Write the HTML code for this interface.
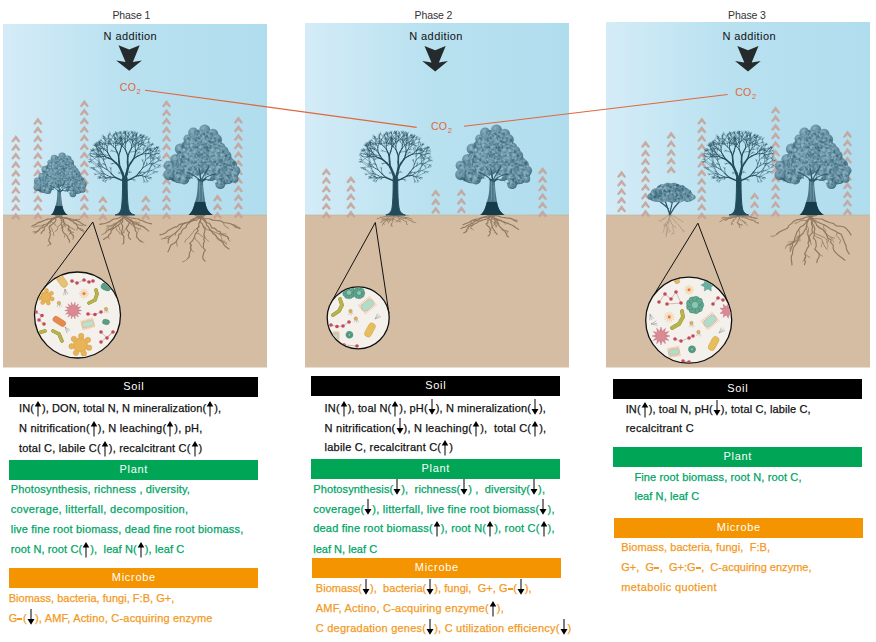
<!DOCTYPE html><html><head><meta charset="utf-8"><style>
html,body{margin:0;padding:0;background:#fff;width:876px;height:642px;overflow:hidden}
body{position:relative;font-family:"Liberation Sans",sans-serif}
.tx{position:absolute;white-space:pre;font-size:11px;line-height:12px;height:12px;-webkit-text-stroke:0.25px currentColor}
.ar{display:inline-block;position:relative;width:8px;height:1px}
.ar svg{position:absolute;left:0}
.dash{display:inline-block;width:5px;height:1.8px;background:currentColor;vertical-align:2.2px;margin:0 0.6px 0 0}
.bar{position:absolute;color:#fff;font-size:11px;text-align:center;line-height:18px;letter-spacing:0.7px;text-indent:0.7px}
.lab{position:absolute;white-space:pre;line-height:12px;letter-spacing:-0.1px}
.na{letter-spacing:0.4px}
.co2{position:absolute;color:#e0673c;font-size:10.6px;line-height:12px;white-space:pre;letter-spacing:0.2px}
.co2 sub{font-size:7.6px;vertical-align:-2.5px;line-height:0;margin-left:0.5px}
</style></head><body>
<svg width="876" height="642" viewBox="0 0 876 642" style="position:absolute;left:0;top:0">
<defs><linearGradient id="sky" x1="0" x2="1" y1="0" y2="0">
<stop offset="0" stop-color="#d4ecf7"/><stop offset="0.45" stop-color="#b9e1f0"/><stop offset="1" stop-color="#b0ddee"/></linearGradient></defs>
<rect x="3" y="24" width="264" height="191" fill="url(#sky)"/><rect x="3" y="215" width="264" height="152.5" fill="#d5bda3"/><rect x="3" y="214.6" width="264" height="1" fill="#bdb49c" opacity="0.7"/><rect x="305" y="23" width="264" height="192" fill="url(#sky)"/><rect x="305" y="215" width="264" height="152.5" fill="#d5bda3"/><rect x="305" y="214.6" width="264" height="1" fill="#bdb49c" opacity="0.7"/><rect x="606" y="22" width="264" height="193" fill="url(#sky)"/><rect x="606" y="215" width="264" height="152.5" fill="#d5bda3"/><rect x="606" y="214.6" width="264" height="1" fill="#bdb49c" opacity="0.7"/>
<path d="M11.2 141.2L15.8 135.0L20.4 141.2L18.7 142.5L15.8 139.5L12.9 142.5ZM11.2 149.8L15.8 143.6L20.4 149.8L18.7 151.1L15.8 148.1L12.9 151.1ZM11.2 158.4L15.8 152.2L20.4 158.4L18.7 159.7L15.8 156.7L12.9 159.7ZM11.2 167.0L15.8 160.8L20.4 167.0L18.7 168.3L15.8 165.3L12.9 168.3ZM11.2 175.6L15.8 169.4L20.4 175.6L18.7 176.9L15.8 173.9L12.9 176.9ZM11.2 184.2L15.8 178.0L20.4 184.2L18.7 185.5L15.8 182.5L12.9 185.5ZM11.2 192.8L15.8 186.6L20.4 192.8L18.7 194.1L15.8 191.1L12.9 194.1ZM11.2 201.4L15.8 195.2L20.4 201.4L18.7 202.7L15.8 199.7L12.9 202.7ZM11.2 210.0L15.8 203.8L20.4 210.0L18.7 211.3L15.8 208.3L12.9 211.3ZM11.2 218.6L15.8 212.4L20.4 218.6L18.7 219.9L15.8 216.9L12.9 219.9ZM33.3 123.7L37.9 117.5L42.5 123.7L40.8 125.0L37.9 122.0L35.0 125.0ZM33.3 132.3L37.9 126.1L42.5 132.3L40.8 133.6L37.9 130.6L35.0 133.6ZM33.3 140.9L37.9 134.7L42.5 140.9L40.8 142.2L37.9 139.2L35.0 142.2ZM33.3 149.5L37.9 143.3L42.5 149.5L40.8 150.8L37.9 147.8L35.0 150.8ZM33.3 158.1L37.9 151.9L42.5 158.1L40.8 159.4L37.9 156.4L35.0 159.4ZM33.3 166.7L37.9 160.5L42.5 166.7L40.8 168.0L37.9 165.0L35.0 168.0ZM33.3 175.3L37.9 169.1L42.5 175.3L40.8 176.6L37.9 173.6L35.0 176.6ZM33.3 183.9L37.9 177.7L42.5 183.9L40.8 185.2L37.9 182.2L35.0 185.2ZM33.3 192.5L37.9 186.3L42.5 192.5L40.8 193.8L37.9 190.8L35.0 193.8ZM33.3 201.1L37.9 194.9L42.5 201.1L40.8 202.4L37.9 199.4L35.0 202.4ZM33.3 209.7L37.9 203.5L42.5 209.7L40.8 211.0L37.9 208.0L35.0 211.0ZM33.3 218.3L37.9 212.1L42.5 218.3L40.8 219.6L37.9 216.6L35.0 219.6ZM79.7 105.9L84.3 99.7L88.9 105.9L87.2 107.2L84.3 104.2L81.4 107.2ZM79.7 114.5L84.3 108.3L88.9 114.5L87.2 115.8L84.3 112.8L81.4 115.8ZM79.7 123.1L84.3 116.9L88.9 123.1L87.2 124.4L84.3 121.4L81.4 124.4ZM79.7 131.7L84.3 125.5L88.9 131.7L87.2 133.0L84.3 130.0L81.4 133.0ZM79.7 140.3L84.3 134.1L88.9 140.3L87.2 141.6L84.3 138.6L81.4 141.6ZM79.7 148.9L84.3 142.7L88.9 148.9L87.2 150.2L84.3 147.2L81.4 150.2ZM79.7 157.5L84.3 151.3L88.9 157.5L87.2 158.8L84.3 155.8L81.4 158.8ZM79.7 166.1L84.3 159.9L88.9 166.1L87.2 167.4L84.3 164.4L81.4 167.4ZM79.7 174.7L84.3 168.5L88.9 174.7L87.2 176.0L84.3 173.0L81.4 176.0ZM79.7 183.3L84.3 177.1L88.9 183.3L87.2 184.6L84.3 181.6L81.4 184.6ZM79.7 191.9L84.3 185.7L88.9 191.9L87.2 193.2L84.3 190.2L81.4 193.2ZM79.7 200.5L84.3 194.3L88.9 200.5L87.2 201.8L84.3 198.8L81.4 201.8ZM79.7 209.1L84.3 202.9L88.9 209.1L87.2 210.4L84.3 207.4L81.4 210.4ZM79.7 217.7L84.3 211.5L88.9 217.7L87.2 219.0L84.3 216.0L81.4 219.0ZM98.3 202.0L102.9 195.8L107.5 202.0L105.8 203.3L102.9 200.3L100.0 203.3ZM98.3 210.6L102.9 204.4L107.5 210.6L105.8 211.9L102.9 208.9L100.0 211.9ZM98.3 219.2L102.9 213.0L107.5 219.2L105.8 220.5L102.9 217.5L100.0 220.5ZM141.2 201.5L145.8 195.3L150.4 201.5L148.7 202.8L145.8 199.8L142.9 202.8ZM141.2 210.1L145.8 203.9L150.4 210.1L148.7 211.4L145.8 208.4L142.9 211.4ZM141.2 218.7L145.8 212.5L150.4 218.7L148.7 220.0L145.8 217.0L142.9 220.0ZM161.9 106.3L166.5 100.1L171.1 106.3L169.4 107.6L166.5 104.6L163.6 107.6ZM161.9 114.9L166.5 108.7L171.1 114.9L169.4 116.2L166.5 113.2L163.6 116.2ZM161.9 123.5L166.5 117.3L171.1 123.5L169.4 124.8L166.5 121.8L163.6 124.8ZM161.9 132.1L166.5 125.9L171.1 132.1L169.4 133.4L166.5 130.4L163.6 133.4ZM161.9 140.7L166.5 134.5L171.1 140.7L169.4 142.0L166.5 139.0L163.6 142.0ZM161.9 149.3L166.5 143.1L171.1 149.3L169.4 150.6L166.5 147.6L163.6 150.6ZM161.9 157.9L166.5 151.7L171.1 157.9L169.4 159.2L166.5 156.2L163.6 159.2ZM161.9 166.5L166.5 160.3L171.1 166.5L169.4 167.8L166.5 164.8L163.6 167.8ZM161.9 175.1L166.5 168.9L171.1 175.1L169.4 176.4L166.5 173.4L163.6 176.4ZM161.9 183.7L166.5 177.5L171.1 183.7L169.4 185.0L166.5 182.0L163.6 185.0ZM161.9 192.3L166.5 186.1L171.1 192.3L169.4 193.6L166.5 190.6L163.6 193.6ZM161.9 200.9L166.5 194.7L171.1 200.9L169.4 202.2L166.5 199.2L163.6 202.2ZM161.9 209.5L166.5 203.3L171.1 209.5L169.4 210.8L166.5 207.8L163.6 210.8ZM161.9 218.1L166.5 211.9L171.1 218.1L169.4 219.4L166.5 216.4L163.6 219.4ZM212.9 200.5L217.5 194.3L222.1 200.5L220.4 201.8L217.5 198.8L214.6 201.8ZM212.9 209.1L217.5 202.9L222.1 209.1L220.4 210.4L217.5 207.4L214.6 210.4ZM212.9 217.7L217.5 211.5L222.1 217.7L220.4 219.0L217.5 216.0L214.6 219.0ZM233.8 122.5L238.4 116.3L243.0 122.5L241.3 123.8L238.4 120.8L235.5 123.8ZM233.8 131.1L238.4 124.9L243.0 131.1L241.3 132.4L238.4 129.4L235.5 132.4ZM233.8 139.7L238.4 133.5L243.0 139.7L241.3 141.0L238.4 138.0L235.5 141.0ZM233.8 148.3L238.4 142.1L243.0 148.3L241.3 149.6L238.4 146.6L235.5 149.6ZM233.8 156.9L238.4 150.7L243.0 156.9L241.3 158.2L238.4 155.2L235.5 158.2ZM233.8 165.5L238.4 159.3L243.0 165.5L241.3 166.8L238.4 163.8L235.5 166.8ZM233.8 174.1L238.4 167.9L243.0 174.1L241.3 175.4L238.4 172.4L235.5 175.4ZM233.8 182.7L238.4 176.5L243.0 182.7L241.3 184.0L238.4 181.0L235.5 184.0ZM233.8 191.3L238.4 185.1L243.0 191.3L241.3 192.6L238.4 189.6L235.5 192.6ZM233.8 199.9L238.4 193.7L243.0 199.9L241.3 201.2L238.4 198.2L235.5 201.2ZM233.8 208.5L238.4 202.3L243.0 208.5L241.3 209.8L238.4 206.8L235.5 209.8ZM233.8 217.1L238.4 210.9L243.0 217.1L241.3 218.4L238.4 215.4L235.5 218.4ZM321.7 174.2L326.3 168.0L330.9 174.2L329.2 175.5L326.3 172.5L323.4 175.5ZM321.7 182.8L326.3 176.6L330.9 182.8L329.2 184.1L326.3 181.1L323.4 184.1ZM321.7 191.4L326.3 185.2L330.9 191.4L329.2 192.7L326.3 189.7L323.4 192.7ZM321.7 200.0L326.3 193.8L330.9 200.0L329.2 201.3L326.3 198.3L323.4 201.3ZM321.7 208.6L326.3 202.4L330.9 208.6L329.2 209.9L326.3 206.9L323.4 209.9ZM321.7 217.2L326.3 211.0L330.9 217.2L329.2 218.5L326.3 215.5L323.4 218.5ZM346.3 182.1L350.9 175.9L355.5 182.1L353.8 183.4L350.9 180.4L348.0 183.4ZM346.3 190.7L350.9 184.5L355.5 190.7L353.8 192.0L350.9 189.0L348.0 192.0ZM346.3 199.3L350.9 193.1L355.5 199.3L353.8 200.6L350.9 197.6L348.0 200.6ZM346.3 207.9L350.9 201.7L355.5 207.9L353.8 209.2L350.9 206.2L348.0 209.2ZM346.3 216.5L350.9 210.3L355.5 216.5L353.8 217.8L350.9 214.8L348.0 217.8ZM431.1 195.5L435.7 189.3L440.3 195.5L438.6 196.8L435.7 193.8L432.8 196.8ZM431.1 204.1L435.7 197.9L440.3 204.1L438.6 205.4L435.7 202.4L432.8 205.4ZM431.1 212.7L435.7 206.5L440.3 212.7L438.6 214.0L435.7 211.0L432.8 214.0ZM456.8 195.0L461.4 188.8L466.0 195.0L464.3 196.3L461.4 193.3L458.5 196.3ZM456.8 203.6L461.4 197.4L466.0 203.6L464.3 204.9L461.4 201.9L458.5 204.9ZM456.8 212.2L461.4 206.0L466.0 212.2L464.3 213.5L461.4 210.5L458.5 213.5ZM538.0 173.1L542.6 166.9L547.2 173.1L545.5 174.4L542.6 171.4L539.7 174.4ZM538.0 181.7L542.6 175.5L547.2 181.7L545.5 183.0L542.6 180.0L539.7 183.0ZM538.0 190.3L542.6 184.1L547.2 190.3L545.5 191.6L542.6 188.6L539.7 191.6ZM538.0 198.9L542.6 192.7L547.2 198.9L545.5 200.2L542.6 197.2L539.7 200.2ZM538.0 207.5L542.6 201.3L547.2 207.5L545.5 208.8L542.6 205.8L539.7 208.8ZM538.0 216.1L542.6 209.9L547.2 216.1L545.5 217.4L542.6 214.4L539.7 217.4ZM617.0 176.8L621.6 170.6L626.2 176.8L624.5 178.1L621.6 175.1L618.7 178.1ZM617.0 185.4L621.6 179.2L626.2 185.4L624.5 186.7L621.6 183.7L618.7 186.7ZM617.0 194.0L621.6 187.8L626.2 194.0L624.5 195.3L621.6 192.3L618.7 195.3ZM617.0 202.6L621.6 196.4L626.2 202.6L624.5 203.9L621.6 200.9L618.7 203.9ZM617.0 211.2L621.6 205.0L626.2 211.2L624.5 212.5L621.6 209.5L618.7 212.5ZM640.9 146.8L645.5 140.6L650.1 146.8L648.4 148.1L645.5 145.1L642.6 148.1ZM640.9 155.4L645.5 149.2L650.1 155.4L648.4 156.7L645.5 153.7L642.6 156.7ZM640.9 164.0L645.5 157.8L650.1 164.0L648.4 165.3L645.5 162.3L642.6 165.3ZM640.9 172.6L645.5 166.4L650.1 172.6L648.4 173.9L645.5 170.9L642.6 173.9ZM640.9 181.2L645.5 175.0L650.1 181.2L648.4 182.5L645.5 179.5L642.6 182.5ZM640.9 189.8L645.5 183.6L650.1 189.8L648.4 191.1L645.5 188.1L642.6 191.1ZM640.9 198.4L645.5 192.2L650.1 198.4L648.4 199.7L645.5 196.7L642.6 199.7ZM640.9 207.0L645.5 200.8L650.1 207.0L648.4 208.3L645.5 205.3L642.6 208.3ZM640.9 215.6L645.5 209.4L650.1 215.6L648.4 216.9L645.5 213.9L642.6 216.9ZM697.2 123.5L701.8 117.3L706.4 123.5L704.7 124.8L701.8 121.8L698.9 124.8ZM697.2 132.1L701.8 125.9L706.4 132.1L704.7 133.4L701.8 130.4L698.9 133.4ZM697.2 140.7L701.8 134.5L706.4 140.7L704.7 142.0L701.8 139.0L698.9 142.0ZM697.2 149.3L701.8 143.1L706.4 149.3L704.7 150.6L701.8 147.6L698.9 150.6ZM697.2 157.9L701.8 151.7L706.4 157.9L704.7 159.2L701.8 156.2L698.9 159.2ZM697.2 166.5L701.8 160.3L706.4 166.5L704.7 167.8L701.8 164.8L698.9 167.8ZM697.2 175.1L701.8 168.9L706.4 175.1L704.7 176.4L701.8 173.4L698.9 176.4ZM697.2 183.7L701.8 177.5L706.4 183.7L704.7 185.0L701.8 182.0L698.9 185.0ZM697.2 192.3L701.8 186.1L706.4 192.3L704.7 193.6L701.8 190.6L698.9 193.6ZM697.2 200.9L701.8 194.7L706.4 200.9L704.7 202.2L701.8 199.2L698.9 202.2ZM697.2 209.5L701.8 203.3L706.4 209.5L704.7 210.8L701.8 207.8L698.9 210.8ZM697.2 218.1L701.8 211.9L706.4 218.1L704.7 219.4L701.8 216.4L698.9 219.4ZM750.0 198.4L754.6 192.2L759.2 198.4L757.5 199.7L754.6 196.7L751.7 199.7ZM750.0 207.0L754.6 200.8L759.2 207.0L757.5 208.3L754.6 205.3L751.7 208.3ZM750.0 215.6L754.6 209.4L759.2 215.6L757.5 216.9L754.6 213.9L751.7 216.9ZM771.0 112.4L775.6 106.2L780.2 112.4L778.5 113.7L775.6 110.7L772.7 113.7ZM771.0 121.0L775.6 114.8L780.2 121.0L778.5 122.3L775.6 119.3L772.7 122.3ZM771.0 129.6L775.6 123.4L780.2 129.6L778.5 130.9L775.6 127.9L772.7 130.9ZM771.0 138.2L775.6 132.0L780.2 138.2L778.5 139.5L775.6 136.5L772.7 139.5ZM771.0 146.8L775.6 140.6L780.2 146.8L778.5 148.1L775.6 145.1L772.7 148.1ZM771.0 155.4L775.6 149.2L780.2 155.4L778.5 156.7L775.6 153.7L772.7 156.7ZM771.0 164.0L775.6 157.8L780.2 164.0L778.5 165.3L775.6 162.3L772.7 165.3ZM771.0 172.6L775.6 166.4L780.2 172.6L778.5 173.9L775.6 170.9L772.7 173.9ZM771.0 181.2L775.6 175.0L780.2 181.2L778.5 182.5L775.6 179.5L772.7 182.5ZM771.0 189.8L775.6 183.6L780.2 189.8L778.5 191.1L775.6 188.1L772.7 191.1ZM771.0 198.4L775.6 192.2L780.2 198.4L778.5 199.7L775.6 196.7L772.7 199.7ZM771.0 207.0L775.6 200.8L780.2 207.0L778.5 208.3L775.6 205.3L772.7 208.3ZM771.0 215.6L775.6 209.4L780.2 215.6L778.5 216.9L775.6 213.9L772.7 216.9ZM842.9 136.7L847.5 130.5L852.1 136.7L850.4 138.0L847.5 135.0L844.6 138.0ZM842.9 145.3L847.5 139.1L852.1 145.3L850.4 146.6L847.5 143.6L844.6 146.6ZM842.9 153.9L847.5 147.7L852.1 153.9L850.4 155.2L847.5 152.2L844.6 155.2ZM842.9 162.5L847.5 156.3L852.1 162.5L850.4 163.8L847.5 160.8L844.6 163.8ZM842.9 171.1L847.5 164.9L852.1 171.1L850.4 172.4L847.5 169.4L844.6 172.4ZM842.9 179.7L847.5 173.5L852.1 179.7L850.4 181.0L847.5 178.0L844.6 181.0ZM842.9 188.3L847.5 182.1L852.1 188.3L850.4 189.6L847.5 186.6L844.6 189.6ZM842.9 196.9L847.5 190.7L852.1 196.9L850.4 198.2L847.5 195.2L844.6 198.2ZM842.9 205.5L847.5 199.3L852.1 205.5L850.4 206.8L847.5 203.8L844.6 206.8ZM842.9 214.1L847.5 207.9L852.1 214.1L850.4 215.4L847.5 212.4L844.6 215.4ZM666.6 137.7L671.2 131.5L675.8 137.7L674.1 139.0L671.2 136.0L668.3 139.0ZM666.6 146.3L671.2 140.1L675.8 146.3L674.1 147.6L671.2 144.6L668.3 147.6ZM666.6 154.9L671.2 148.7L675.8 154.9L674.1 156.2L671.2 153.2L668.3 156.2ZM666.6 163.5L671.2 157.3L675.8 163.5L674.1 164.8L671.2 161.8L668.3 164.8ZM666.6 172.1L671.2 165.9L675.8 172.1L674.1 173.4L671.2 170.4L668.3 173.4Z" fill="#c7a094" opacity="0.85"/>
<path d="M118.5 45.2L129.2 49.5L139.7 45.2L132.9 61.9L141.9 60.4L129.2 70.7L116.2 60.4L125.5 61.9ZM424.5 45.9L435.2 50.2L445.7 45.9L438.9 62.6L447.9 61.1L435.2 71.4L422.2 61.1L431.5 62.6ZM737.3 45.9L748.0 50.2L758.5 45.9L751.7 62.6L760.7 61.1L748.0 71.4L735.0 61.1L744.3 62.6Z" fill="#252a2d"/>
<path d="M145 90.2L416.7 127.4M463.9 126.3L727.7 94.5" stroke="#e0673c" stroke-width="1.1" fill="none"/>
<defs><radialGradient id="clg" cx="0.4" cy="0.35" r="0.65"><stop offset="0" stop-color="#8cb3c2"/><stop offset="0.5" stop-color="#6a94a6"/><stop offset="0.88" stop-color="#4f7b8d"/><stop offset="1" stop-color="#3a6677"/></radialGradient><g id="bl"><path d="M-2 -36 C-2.2 -24 -3 -18 -4.9 -13 C-7 -5 -9 -1.5 -11.5 0 L13 0 C9 -2 6.3 -6 5.3 -13 C4.2 -20 3 -28 3 -36 Z" fill="#4b7687"/><path d="M-4.9 -13 C-6.5 -6 -8.5 -2 -11.5 0 L13 0 C9.5 -2 6.5 -6 5.3 -13 Z" fill="#163c4a"/><path d="M0 -34 C-1 -24 1 -18 -1 -14 M2 -30 C3 -24 2 -18 3 -14" stroke="#86aab8" stroke-width="0.6" fill="none"/><path d="M0 -34 L-12 -44 M1 -34 L-1 -48 M2 -33 L10 -40 L12 -46 M3 -35 L18 -38" stroke="#2c5262" stroke-width="1.3" fill="none"/><path d="M1.6 -86.0C4.5 -86.5 6.6 -85.1 8.8 -84.2C11.0 -83.2 12.9 -81.7 14.6 -80.2C16.3 -78.7 17.7 -76.9 19.1 -75.0C20.5 -73.2 21.7 -71.0 22.9 -69.2C24.0 -67.4 24.7 -66.2 26.1 -64.2C27.4 -62.3 29.3 -59.7 31.0 -57.4C32.7 -55.1 35.3 -52.9 36.2 -50.2C37.1 -47.5 37.1 -43.9 36.5 -41.2C36.0 -38.4 34.5 -35.6 33.1 -33.9C31.6 -32.2 30.5 -31.4 28.0 -30.9C25.5 -30.3 20.5 -29.9 17.9 -30.5C15.3 -31.0 14.2 -32.5 12.3 -34.2C10.5 -35.8 8.6 -38.8 6.9 -40.4C5.2 -41.9 3.8 -43.2 2.0 -43.5C0.2 -43.8 -1.6 -43.5 -3.6 -42.3C-5.6 -41.0 -7.5 -37.8 -10.0 -36.0C-12.4 -34.3 -15.6 -32.0 -18.4 -31.7C-21.2 -31.3 -24.2 -32.6 -26.7 -34.0C-29.1 -35.4 -32.2 -37.7 -33.1 -40.2C-34.0 -42.8 -33.7 -46.6 -32.2 -49.3C-30.7 -52.1 -25.9 -54.0 -24.0 -56.6C-22.2 -59.2 -22.7 -62.0 -21.1 -65.0C-19.5 -68.1 -16.8 -72.3 -14.7 -75.0C-12.6 -77.7 -11.2 -79.6 -8.5 -81.5C-5.8 -83.3 -1.3 -85.5 1.6 -86.0Z" fill="#36606f"/><circle cx="4.8" cy="-84.9" r="5.5" fill="url(#clg)"/><circle cx="-6.6" cy="-82.4" r="5.1" fill="url(#clg)"/><circle cx="5.4" cy="-81.0" r="5.6" fill="url(#clg)"/><circle cx="13.0" cy="-80.9" r="5.4" fill="url(#clg)"/><circle cx="2.0" cy="-80.7" r="4.6" fill="url(#clg)"/><circle cx="9.1" cy="-77.5" r="4.9" fill="url(#clg)"/><circle cx="4.4" cy="-76.6" r="4.0" fill="url(#clg)"/><circle cx="-7.5" cy="-76.5" r="4.6" fill="url(#clg)"/><circle cx="-2.2" cy="-76.4" r="5.0" fill="url(#clg)"/><circle cx="-12.2" cy="-76.3" r="4.3" fill="url(#clg)"/><circle cx="16.8" cy="-75.6" r="5.3" fill="url(#clg)"/><circle cx="13.2" cy="-73.4" r="4.0" fill="url(#clg)"/><circle cx="-0.3" cy="-73.2" r="5.4" fill="url(#clg)"/><circle cx="6.4" cy="-72.9" r="5.0" fill="url(#clg)"/><circle cx="-11.1" cy="-72.5" r="4.8" fill="url(#clg)"/><circle cx="-6.6" cy="-72.3" r="4.7" fill="url(#clg)"/><circle cx="16.9" cy="-71.3" r="4.3" fill="url(#clg)"/><circle cx="-2.4" cy="-69.0" r="5.4" fill="url(#clg)"/><circle cx="10.1" cy="-68.5" r="5.4" fill="url(#clg)"/><circle cx="21.1" cy="-68.0" r="4.3" fill="url(#clg)"/><circle cx="17.1" cy="-66.9" r="4.8" fill="url(#clg)"/><circle cx="-6.2" cy="-66.8" r="4.7" fill="url(#clg)"/><circle cx="2.7" cy="-66.5" r="5.5" fill="url(#clg)"/><circle cx="-13.9" cy="-66.4" r="4.5" fill="url(#clg)"/><circle cx="-19.7" cy="-66.1" r="5.4" fill="url(#clg)"/><circle cx="7.1" cy="-64.2" r="4.3" fill="url(#clg)"/><circle cx="13.4" cy="-63.9" r="5.2" fill="url(#clg)"/><circle cx="23.3" cy="-63.6" r="5.4" fill="url(#clg)"/><circle cx="-16.0" cy="-63.5" r="4.3" fill="url(#clg)"/><circle cx="-10.5" cy="-62.0" r="5.5" fill="url(#clg)"/><circle cx="18.3" cy="-62.0" r="4.6" fill="url(#clg)"/><circle cx="-5.7" cy="-61.9" r="5.1" fill="url(#clg)"/><circle cx="0.6" cy="-61.5" r="4.4" fill="url(#clg)"/><circle cx="16.9" cy="-59.9" r="4.4" fill="url(#clg)"/><circle cx="10.4" cy="-59.7" r="4.2" fill="url(#clg)"/><circle cx="-13.1" cy="-59.3" r="4.1" fill="url(#clg)"/><circle cx="26.3" cy="-59.3" r="5.2" fill="url(#clg)"/><circle cx="23.0" cy="-58.7" r="4.2" fill="url(#clg)"/><circle cx="-0.4" cy="-58.6" r="4.4" fill="url(#clg)"/><circle cx="-18.8" cy="-57.7" r="4.6" fill="url(#clg)"/><circle cx="5.0" cy="-57.5" r="4.0" fill="url(#clg)"/><circle cx="-8.2" cy="-57.3" r="4.9" fill="url(#clg)"/><circle cx="-24.0" cy="-55.5" r="5.6" fill="url(#clg)"/><circle cx="-11.6" cy="-55.3" r="5.5" fill="url(#clg)"/><circle cx="17.2" cy="-55.3" r="4.4" fill="url(#clg)"/><circle cx="25.3" cy="-54.2" r="5.0" fill="url(#clg)"/><circle cx="11.5" cy="-53.9" r="4.5" fill="url(#clg)"/><circle cx="-17.4" cy="-53.7" r="4.7" fill="url(#clg)"/><circle cx="-0.3" cy="-53.6" r="5.6" fill="url(#clg)"/><circle cx="6.5" cy="-53.4" r="5.1" fill="url(#clg)"/><circle cx="30.0" cy="-52.7" r="4.6" fill="url(#clg)"/><circle cx="-3.8" cy="-52.6" r="4.2" fill="url(#clg)"/><circle cx="-19.9" cy="-50.8" r="4.9" fill="url(#clg)"/><circle cx="-14.6" cy="-50.8" r="5.0" fill="url(#clg)"/><circle cx="5.0" cy="-50.8" r="5.5" fill="url(#clg)"/><circle cx="28.5" cy="-50.6" r="5.5" fill="url(#clg)"/><circle cx="-0.6" cy="-50.5" r="4.8" fill="url(#clg)"/><circle cx="-24.6" cy="-50.3" r="4.0" fill="url(#clg)"/><circle cx="31.7" cy="-50.1" r="5.4" fill="url(#clg)"/><circle cx="16.7" cy="-50.0" r="4.2" fill="url(#clg)"/><circle cx="-31.2" cy="-49.4" r="4.9" fill="url(#clg)"/><circle cx="8.9" cy="-48.7" r="5.6" fill="url(#clg)"/><circle cx="-8.1" cy="-48.6" r="4.8" fill="url(#clg)"/><circle cx="21.5" cy="-48.2" r="4.5" fill="url(#clg)"/><circle cx="6.6" cy="-46.3" r="4.6" fill="url(#clg)"/><circle cx="11.1" cy="-46.1" r="4.4" fill="url(#clg)"/><circle cx="-28.6" cy="-46.0" r="5.1" fill="url(#clg)"/><circle cx="24.1" cy="-45.8" r="4.0" fill="url(#clg)"/><circle cx="-22.1" cy="-45.7" r="4.1" fill="url(#clg)"/><circle cx="-5.5" cy="-45.5" r="4.4" fill="url(#clg)"/><circle cx="19.0" cy="-45.3" r="4.6" fill="url(#clg)"/><circle cx="29.7" cy="-45.0" r="5.0" fill="url(#clg)"/><circle cx="-0.8" cy="-44.6" r="4.7" fill="url(#clg)"/><circle cx="35.2" cy="-44.4" r="5.2" fill="url(#clg)"/><circle cx="-15.4" cy="-44.1" r="4.9" fill="url(#clg)"/><circle cx="-10.9" cy="-43.9" r="4.7" fill="url(#clg)"/><circle cx="28.1" cy="-41.8" r="5.1" fill="url(#clg)"/><circle cx="-20.5" cy="-41.8" r="4.8" fill="url(#clg)"/><circle cx="-12.2" cy="-41.5" r="5.2" fill="url(#clg)"/><circle cx="20.8" cy="-41.3" r="4.9" fill="url(#clg)"/><circle cx="-23.6" cy="-41.2" r="5.0" fill="url(#clg)"/><circle cx="-6.4" cy="-41.1" r="5.1" fill="url(#clg)"/><circle cx="33.8" cy="-41.0" r="4.8" fill="url(#clg)"/><circle cx="-31.0" cy="-40.3" r="5.5" fill="url(#clg)"/><circle cx="17.1" cy="-40.3" r="4.3" fill="url(#clg)"/><circle cx="10.2" cy="-39.4" r="5.4" fill="url(#clg)"/><circle cx="23.5" cy="-37.1" r="4.5" fill="url(#clg)"/><circle cx="19.4" cy="-37.1" r="5.0" fill="url(#clg)"/><circle cx="-21.2" cy="-37.1" r="5.2" fill="url(#clg)"/><circle cx="34.5" cy="-36.2" r="4.0" fill="url(#clg)"/><circle cx="-15.8" cy="-35.5" r="5.1" fill="url(#clg)"/><circle cx="28.8" cy="-35.3" r="4.0" fill="url(#clg)"/><circle cx="20.4" cy="-30.8" r="4.9" fill="url(#clg)"/><circle cx="-13.1" cy="-59.8" r="0.8" fill="#a3c6d3" opacity="0.45"/><circle cx="19.4" cy="-69.0" r="1.0" fill="#4f7d90" opacity="0.45"/><circle cx="24.6" cy="-49.0" r="0.9" fill="#8ab2c2" opacity="0.45"/><circle cx="-7.4" cy="-56.6" r="1.3" fill="#a3c6d3" opacity="0.45"/><circle cx="19.8" cy="-45.7" r="1.1" fill="#3a6678" opacity="0.45"/><circle cx="21.6" cy="-30.7" r="0.8" fill="#3a6678" opacity="0.45"/><circle cx="-2.0" cy="-49.9" r="0.7" fill="#a3c6d3" opacity="0.45"/><circle cx="-3.9" cy="-65.7" r="1.2" fill="#a3c6d3" opacity="0.45"/><circle cx="-25.5" cy="-43.3" r="0.9" fill="#4f7d90" opacity="0.45"/><circle cx="29.7" cy="-44.0" r="1.2" fill="#a3c6d3" opacity="0.45"/><circle cx="16.8" cy="-71.8" r="0.9" fill="#4f7d90" opacity="0.45"/><circle cx="0.8" cy="-62.0" r="0.6" fill="#a3c6d3" opacity="0.45"/><circle cx="-2.6" cy="-80.2" r="1.1" fill="#3a6678" opacity="0.45"/><circle cx="17.2" cy="-65.9" r="1.1" fill="#a3c6d3" opacity="0.45"/><circle cx="-13.6" cy="-58.3" r="0.8" fill="#4f7d90" opacity="0.45"/><circle cx="28.5" cy="-58.6" r="0.9" fill="#a3c6d3" opacity="0.45"/><circle cx="-14.2" cy="-45.9" r="1.3" fill="#a3c6d3" opacity="0.45"/><circle cx="-16.4" cy="-53.4" r="0.8" fill="#a3c6d3" opacity="0.45"/><circle cx="-6.0" cy="-61.0" r="0.8" fill="#a3c6d3" opacity="0.45"/><circle cx="-11.6" cy="-76.7" r="1.3" fill="#3a6678" opacity="0.45"/><circle cx="34.0" cy="-52.7" r="0.8" fill="#8ab2c2" opacity="0.45"/><circle cx="20.6" cy="-37.7" r="1.0" fill="#a3c6d3" opacity="0.45"/><circle cx="35.1" cy="-46.3" r="1.0" fill="#4f7d90" opacity="0.45"/><circle cx="-1.2" cy="-80.2" r="1.1" fill="#8ab2c2" opacity="0.45"/><circle cx="-9.1" cy="-44.9" r="0.8" fill="#3a6678" opacity="0.45"/><circle cx="19.5" cy="-71.7" r="0.7" fill="#8ab2c2" opacity="0.45"/><circle cx="22.2" cy="-49.0" r="0.9" fill="#a3c6d3" opacity="0.45"/><circle cx="27.2" cy="-32.2" r="1.0" fill="#4f7d90" opacity="0.45"/><circle cx="15.0" cy="-73.5" r="1.0" fill="#3a6678" opacity="0.45"/><circle cx="1.6" cy="-67.3" r="0.7" fill="#3a6678" opacity="0.45"/><circle cx="5.8" cy="-66.6" r="0.9" fill="#4f7d90" opacity="0.45"/><circle cx="-11.6" cy="-54.4" r="1.2" fill="#2a5566" opacity="0.45"/><circle cx="-7.3" cy="-55.2" r="1.2" fill="#8ab2c2" opacity="0.45"/><circle cx="-25.2" cy="-40.5" r="1.1" fill="#2a5566" opacity="0.45"/><circle cx="21.6" cy="-48.8" r="1.2" fill="#8ab2c2" opacity="0.45"/><circle cx="-6.8" cy="-52.1" r="1.3" fill="#3a6678" opacity="0.45"/><circle cx="-18.4" cy="-54.7" r="1.2" fill="#3a6678" opacity="0.45"/><circle cx="-10.0" cy="-53.7" r="1.0" fill="#a3c6d3" opacity="0.45"/><circle cx="5.8" cy="-57.7" r="1.1" fill="#a3c6d3" opacity="0.45"/><circle cx="-4.1" cy="-50.3" r="1.1" fill="#a3c6d3" opacity="0.45"/><circle cx="19.7" cy="-44.9" r="0.8" fill="#2a5566" opacity="0.45"/><circle cx="-25.9" cy="-34.9" r="1.2" fill="#2a5566" opacity="0.45"/><circle cx="27.0" cy="-61.8" r="0.9" fill="#4f7d90" opacity="0.45"/><circle cx="-2.5" cy="-82.3" r="0.9" fill="#8ab2c2" opacity="0.45"/><circle cx="-30.8" cy="-42.0" r="0.7" fill="#2a5566" opacity="0.45"/><circle cx="-17.1" cy="-45.9" r="0.8" fill="#8ab2c2" opacity="0.45"/><circle cx="26.6" cy="-38.6" r="0.8" fill="#8ab2c2" opacity="0.45"/><circle cx="29.3" cy="-59.8" r="0.7" fill="#4f7d90" opacity="0.45"/><circle cx="2.7" cy="-66.5" r="1.2" fill="#8ab2c2" opacity="0.45"/><circle cx="-29.6" cy="-50.8" r="0.9" fill="#a3c6d3" opacity="0.45"/><circle cx="19.6" cy="-39.9" r="1.1" fill="#a3c6d3" opacity="0.45"/><circle cx="-12.1" cy="-65.4" r="0.7" fill="#2a5566" opacity="0.45"/><circle cx="14.1" cy="-71.2" r="0.8" fill="#4f7d90" opacity="0.45"/><circle cx="-16.2" cy="-45.1" r="1.0" fill="#2a5566" opacity="0.45"/><circle cx="4.1" cy="-81.1" r="1.2" fill="#4f7d90" opacity="0.45"/><circle cx="24.8" cy="-55.6" r="0.9" fill="#4f7d90" opacity="0.45"/><circle cx="27.3" cy="-34.5" r="1.2" fill="#2a5566" opacity="0.45"/><circle cx="24.7" cy="-47.8" r="1.1" fill="#4f7d90" opacity="0.45"/><circle cx="-8.4" cy="-71.6" r="1.0" fill="#4f7d90" opacity="0.45"/><circle cx="4.6" cy="-79.9" r="0.7" fill="#3a6678" opacity="0.45"/><circle cx="-17.1" cy="-52.1" r="1.0" fill="#2a5566" opacity="0.45"/><circle cx="30.4" cy="-42.3" r="0.8" fill="#3a6678" opacity="0.45"/><circle cx="2.9" cy="-64.1" r="1.0" fill="#8ab2c2" opacity="0.45"/><circle cx="18.8" cy="-73.0" r="1.2" fill="#a3c6d3" opacity="0.45"/><circle cx="-19.2" cy="-62.9" r="0.9" fill="#3a6678" opacity="0.45"/><circle cx="25.9" cy="-46.5" r="1.2" fill="#4f7d90" opacity="0.45"/><circle cx="4.6" cy="-67.2" r="1.2" fill="#2a5566" opacity="0.45"/><circle cx="25.7" cy="-54.9" r="0.6" fill="#8ab2c2" opacity="0.45"/><circle cx="17.7" cy="-51.5" r="1.0" fill="#4f7d90" opacity="0.45"/><circle cx="-12.8" cy="-43.4" r="1.1" fill="#a3c6d3" opacity="0.45"/><circle cx="-15.4" cy="-65.3" r="1.3" fill="#a3c6d3" opacity="0.45"/><circle cx="-5.3" cy="-52.2" r="0.8" fill="#4f7d90" opacity="0.45"/><circle cx="-26.8" cy="-43.6" r="1.3" fill="#4f7d90" opacity="0.45"/><circle cx="20.9" cy="-56.0" r="0.9" fill="#8ab2c2" opacity="0.45"/><circle cx="-15.5" cy="-50.5" r="1.1" fill="#2a5566" opacity="0.45"/><circle cx="-8.2" cy="-45.0" r="0.9" fill="#4f7d90" opacity="0.45"/><circle cx="-6.9" cy="-41.8" r="0.9" fill="#3a6678" opacity="0.45"/><circle cx="30.6" cy="-54.6" r="0.8" fill="#8ab2c2" opacity="0.45"/><circle cx="-17.4" cy="-59.2" r="1.1" fill="#4f7d90" opacity="0.45"/><circle cx="-3.3" cy="-43.4" r="0.9" fill="#8ab2c2" opacity="0.45"/><circle cx="-25.5" cy="-43.5" r="0.7" fill="#3a6678" opacity="0.45"/><circle cx="6.0" cy="-57.9" r="0.8" fill="#2a5566" opacity="0.45"/><circle cx="20.8" cy="-49.3" r="1.2" fill="#2a5566" opacity="0.45"/><circle cx="-23.7" cy="-41.7" r="1.1" fill="#2a5566" opacity="0.45"/><circle cx="24.9" cy="-49.4" r="0.7" fill="#8ab2c2" opacity="0.45"/><circle cx="16.6" cy="-60.1" r="0.9" fill="#a3c6d3" opacity="0.45"/><circle cx="-21.9" cy="-58.8" r="0.9" fill="#a3c6d3" opacity="0.45"/><circle cx="-14.9" cy="-60.5" r="1.2" fill="#a3c6d3" opacity="0.45"/><circle cx="35.0" cy="-42.7" r="1.0" fill="#8ab2c2" opacity="0.45"/><circle cx="-29.8" cy="-44.5" r="1.1" fill="#4f7d90" opacity="0.45"/><circle cx="-16.6" cy="-57.6" r="0.9" fill="#2a5566" opacity="0.45"/><circle cx="18.5" cy="-65.3" r="0.7" fill="#3a6678" opacity="0.45"/><circle cx="-5.4" cy="-52.2" r="1.2" fill="#2a5566" opacity="0.45"/><circle cx="4.6" cy="-53.5" r="0.7" fill="#8ab2c2" opacity="0.45"/><circle cx="-16.4" cy="-61.2" r="0.8" fill="#8ab2c2" opacity="0.45"/><circle cx="-0.4" cy="-69.7" r="1.0" fill="#3a6678" opacity="0.45"/><circle cx="21.1" cy="-55.2" r="0.9" fill="#3a6678" opacity="0.45"/><circle cx="17.2" cy="-51.3" r="1.2" fill="#3a6678" opacity="0.45"/><circle cx="-12.8" cy="-60.4" r="0.8" fill="#3a6678" opacity="0.45"/><circle cx="33.0" cy="-48.1" r="0.8" fill="#a3c6d3" opacity="0.45"/><circle cx="7.1" cy="-59.8" r="1.1" fill="#4f7d90" opacity="0.45"/><circle cx="-20.0" cy="-49.2" r="1.3" fill="#4f7d90" opacity="0.45"/><circle cx="-16.5" cy="-46.9" r="0.9" fill="#2a5566" opacity="0.45"/><circle cx="-17.9" cy="-43.8" r="1.1" fill="#2a5566" opacity="0.45"/><circle cx="-18.1" cy="-58.2" r="0.9" fill="#2a5566" opacity="0.45"/><circle cx="-18.6" cy="-49.2" r="0.8" fill="#a3c6d3" opacity="0.45"/><circle cx="25.3" cy="-46.6" r="0.7" fill="#4f7d90" opacity="0.45"/><circle cx="-5.6" cy="-49.3" r="1.0" fill="#a3c6d3" opacity="0.45"/><circle cx="0.0" cy="-64.9" r="1.3" fill="#4f7d90" opacity="0.45"/><circle cx="33.9" cy="-52.0" r="1.0" fill="#2a5566" opacity="0.45"/><circle cx="10.0" cy="-83.4" r="0.8" fill="#8ab2c2" opacity="0.45"/><circle cx="18.7" cy="-45.3" r="0.6" fill="#a3c6d3" opacity="0.45"/><circle cx="-8.9" cy="-56.7" r="1.2" fill="#a3c6d3" opacity="0.45"/><circle cx="-13.3" cy="-49.1" r="0.7" fill="#a3c6d3" opacity="0.45"/><circle cx="-26.6" cy="-37.3" r="0.8" fill="#4f7d90" opacity="0.45"/><circle cx="-8.8" cy="-72.5" r="0.7" fill="#8ab2c2" opacity="0.45"/><circle cx="-14.4" cy="-48.8" r="1.0" fill="#2a5566" opacity="0.45"/><circle cx="21.8" cy="-33.5" r="0.7" fill="#2a5566" opacity="0.45"/><circle cx="24.3" cy="-54.1" r="0.9" fill="#4f7d90" opacity="0.45"/><circle cx="-5.3" cy="-53.7" r="0.6" fill="#8ab2c2" opacity="0.45"/><circle cx="24.3" cy="-51.2" r="1.1" fill="#2a5566" opacity="0.45"/><circle cx="28.5" cy="-54.8" r="1.0" fill="#4f7d90" opacity="0.45"/><circle cx="6.1" cy="-43.0" r="1.0" fill="#4f7d90" opacity="0.45"/><circle cx="26.2" cy="-40.8" r="0.8" fill="#a3c6d3" opacity="0.45"/><circle cx="-18.8" cy="-56.3" r="0.9" fill="#3a6678" opacity="0.45"/><circle cx="18.3" cy="-64.7" r="1.1" fill="#4f7d90" opacity="0.45"/><circle cx="-3.2" cy="-67.4" r="0.8" fill="#4f7d90" opacity="0.45"/><circle cx="-2.7" cy="-48.0" r="1.0" fill="#a3c6d3" opacity="0.45"/><circle cx="5.4" cy="-52.4" r="1.2" fill="#2a5566" opacity="0.45"/><circle cx="14.5" cy="-42.9" r="0.9" fill="#8ab2c2" opacity="0.45"/><circle cx="-8.4" cy="-50.9" r="1.1" fill="#3a6678" opacity="0.45"/><circle cx="-3.4" cy="-66.1" r="0.7" fill="#8ab2c2" opacity="0.45"/><circle cx="23.3" cy="-50.0" r="1.2" fill="#4f7d90" opacity="0.45"/><circle cx="4.0" cy="-83.7" r="0.8" fill="#8ab2c2" opacity="0.45"/><circle cx="-6.3" cy="-52.0" r="1.1" fill="#3a6678" opacity="0.45"/><circle cx="5.0" cy="-66.6" r="0.6" fill="#3a6678" opacity="0.45"/><circle cx="15.0" cy="-69.5" r="0.8" fill="#a3c6d3" opacity="0.45"/><circle cx="-24.0" cy="-54.9" r="1.0" fill="#8ab2c2" opacity="0.45"/><circle cx="3.3" cy="-78.6" r="1.0" fill="#a3c6d3" opacity="0.45"/><circle cx="14.3" cy="-57.8" r="0.8" fill="#8ab2c2" opacity="0.45"/><circle cx="-28.5" cy="-51.4" r="0.9" fill="#a3c6d3" opacity="0.45"/><circle cx="-30.4" cy="-41.1" r="0.6" fill="#a3c6d3" opacity="0.45"/><circle cx="-15.8" cy="-65.1" r="1.0" fill="#a3c6d3" opacity="0.45"/><circle cx="18.6" cy="-70.9" r="1.0" fill="#8ab2c2" opacity="0.45"/><circle cx="6.3" cy="-48.1" r="1.1" fill="#3a6678" opacity="0.45"/><circle cx="1.6" cy="-73.3" r="1.2" fill="#4f7d90" opacity="0.45"/><circle cx="24.4" cy="-52.7" r="1.1" fill="#4f7d90" opacity="0.45"/><circle cx="-17.8" cy="-66.9" r="1.0" fill="#2a5566" opacity="0.45"/><circle cx="26.1" cy="-57.7" r="0.7" fill="#8ab2c2" opacity="0.45"/><circle cx="-5.6" cy="-65.0" r="0.7" fill="#a3c6d3" opacity="0.45"/><circle cx="-7.5" cy="-72.9" r="1.1" fill="#8ab2c2" opacity="0.45"/><circle cx="-9.5" cy="-39.7" r="0.8" fill="#3a6678" opacity="0.45"/><circle cx="-10.2" cy="-57.9" r="0.7" fill="#4f7d90" opacity="0.45"/><circle cx="-21.3" cy="-62.2" r="0.8" fill="#a3c6d3" opacity="0.45"/><circle cx="9.4" cy="-53.1" r="1.1" fill="#4f7d90" opacity="0.45"/><circle cx="-27.4" cy="-34.6" r="1.2" fill="#2a5566" opacity="0.45"/><circle cx="30.3" cy="-52.0" r="0.8" fill="#3a6678" opacity="0.45"/><circle cx="2.3" cy="-66.2" r="1.2" fill="#3a6678" opacity="0.45"/><circle cx="19.3" cy="-74.7" r="0.6" fill="#2a5566" opacity="0.45"/><circle cx="26.7" cy="-30.8" r="1.0" fill="#8ab2c2" opacity="0.45"/><circle cx="5.6" cy="-76.2" r="0.6" fill="#3a6678" opacity="0.45"/><circle cx="15.7" cy="-34.7" r="1.0" fill="#8ab2c2" opacity="0.45"/><circle cx="-4.3" cy="-73.7" r="0.7" fill="#3a6678" opacity="0.45"/><circle cx="22.3" cy="-60.7" r="0.9" fill="#a3c6d3" opacity="0.45"/><circle cx="21.7" cy="-39.2" r="1.2" fill="#3a6678" opacity="0.45"/><circle cx="-22.8" cy="-59.4" r="1.0" fill="#3a6678" opacity="0.45"/><circle cx="-19.4" cy="-50.5" r="1.0" fill="#2a5566" opacity="0.45"/><circle cx="33.3" cy="-38.8" r="1.3" fill="#8ab2c2" opacity="0.45"/><circle cx="25.7" cy="-39.5" r="1.1" fill="#8ab2c2" opacity="0.45"/><circle cx="-16.6" cy="-68.9" r="1.3" fill="#2a5566" opacity="0.45"/><circle cx="0.2" cy="-64.4" r="1.0" fill="#4f7d90" opacity="0.45"/><circle cx="25.6" cy="-54.2" r="1.0" fill="#4f7d90" opacity="0.45"/><circle cx="-6.7" cy="-58.8" r="0.6" fill="#a3c6d3" opacity="0.45"/><circle cx="-11.1" cy="-67.9" r="1.0" fill="#4f7d90" opacity="0.45"/><circle cx="8.6" cy="-60.9" r="1.0" fill="#a3c6d3" opacity="0.45"/><circle cx="-2.3" cy="-60.0" r="1.2" fill="#2a5566" opacity="0.45"/><circle cx="8.4" cy="-54.6" r="0.9" fill="#a3c6d3" opacity="0.45"/><circle cx="-4.3" cy="-68.4" r="0.8" fill="#4f7d90" opacity="0.45"/><circle cx="7.9" cy="-52.9" r="0.7" fill="#3a6678" opacity="0.45"/><circle cx="-4.9" cy="-82.4" r="1.0" fill="#4f7d90" opacity="0.45"/><circle cx="3.0" cy="-42.8" r="1.2" fill="#3a6678" opacity="0.45"/><circle cx="-12.8" cy="-34.5" r="1.2" fill="#3a6678" opacity="0.45"/><circle cx="18.6" cy="-47.9" r="1.0" fill="#a3c6d3" opacity="0.45"/><circle cx="-20.4" cy="-34.0" r="0.6" fill="#8ab2c2" opacity="0.45"/><circle cx="4.3" cy="-77.4" r="0.8" fill="#8ab2c2" opacity="0.45"/><circle cx="2.5" cy="-70.5" r="1.3" fill="#2a5566" opacity="0.45"/><circle cx="16.8" cy="-72.2" r="1.3" fill="#8ab2c2" opacity="0.45"/><circle cx="11.1" cy="-68.2" r="0.9" fill="#2a5566" opacity="0.45"/><circle cx="14.7" cy="-55.3" r="1.0" fill="#8ab2c2" opacity="0.45"/><circle cx="28.2" cy="-55.1" r="0.8" fill="#8ab2c2" opacity="0.45"/><circle cx="-22.4" cy="-59.1" r="0.9" fill="#a3c6d3" opacity="0.45"/><circle cx="7.1" cy="-57.0" r="1.0" fill="#8ab2c2" opacity="0.45"/><circle cx="10.0" cy="-45.7" r="1.2" fill="#8ab2c2" opacity="0.45"/><circle cx="10.3" cy="-80.1" r="0.8" fill="#a3c6d3" opacity="0.45"/><circle cx="-13.9" cy="-44.1" r="0.9" fill="#a3c6d3" opacity="0.45"/><circle cx="-17.3" cy="-71.4" r="1.0" fill="#2a5566" opacity="0.45"/><circle cx="24.6" cy="-62.5" r="0.8" fill="#a3c6d3" opacity="0.45"/><circle cx="-2.5" cy="-48.0" r="1.2" fill="#3a6678" opacity="0.45"/><circle cx="-7.3" cy="-63.8" r="1.0" fill="#4f7d90" opacity="0.45"/><circle cx="31.7" cy="-35.1" r="0.8" fill="#a3c6d3" opacity="0.45"/><circle cx="21.4" cy="-71.6" r="0.6" fill="#4f7d90" opacity="0.45"/><circle cx="-13.3" cy="-37.3" r="1.2" fill="#2a5566" opacity="0.45"/><circle cx="17.3" cy="-32.4" r="1.0" fill="#3a6678" opacity="0.45"/><circle cx="17.2" cy="-44.7" r="1.1" fill="#a3c6d3" opacity="0.45"/><circle cx="13.3" cy="-71.8" r="0.9" fill="#a3c6d3" opacity="0.45"/><circle cx="30.6" cy="-33.6" r="0.9" fill="#3a6678" opacity="0.45"/><circle cx="10.6" cy="-52.9" r="1.0" fill="#3a6678" opacity="0.45"/><circle cx="19.1" cy="-67.2" r="1.0" fill="#4f7d90" opacity="0.45"/><circle cx="21.5" cy="-37.3" r="0.6" fill="#4f7d90" opacity="0.45"/><circle cx="-2.5" cy="-79.7" r="0.7" fill="#4f7d90" opacity="0.45"/><circle cx="-3.0" cy="-69.5" r="1.2" fill="#8ab2c2" opacity="0.45"/><circle cx="-12.6" cy="-53.8" r="1.0" fill="#4f7d90" opacity="0.45"/><circle cx="26.8" cy="-50.2" r="0.9" fill="#4f7d90" opacity="0.45"/><circle cx="22.2" cy="-51.7" r="0.7" fill="#3a6678" opacity="0.45"/><circle cx="31.6" cy="-45.1" r="1.1" fill="#4f7d90" opacity="0.45"/><circle cx="-3.1" cy="-42.9" r="0.6" fill="#a3c6d3" opacity="0.45"/><circle cx="3.2" cy="-59.3" r="0.7" fill="#2a5566" opacity="0.45"/><circle cx="20.5" cy="-38.8" r="0.6" fill="#2a5566" opacity="0.45"/><circle cx="24.8" cy="-53.3" r="1.0" fill="#8ab2c2" opacity="0.45"/><circle cx="6.1" cy="-74.9" r="0.8" fill="#3a6678" opacity="0.45"/><circle cx="2.4" cy="-84.4" r="0.7" fill="#3a6678" opacity="0.45"/><circle cx="-23.9" cy="-35.7" r="0.7" fill="#4f7d90" opacity="0.45"/><circle cx="-10.5" cy="-54.6" r="0.9" fill="#3a6678" opacity="0.45"/><circle cx="-21.8" cy="-45.2" r="0.7" fill="#3a6678" opacity="0.45"/><circle cx="19.8" cy="-46.6" r="1.1" fill="#4f7d90" opacity="0.45"/><circle cx="-10.0" cy="-62.7" r="1.2" fill="#a3c6d3" opacity="0.45"/><circle cx="-7.4" cy="-49.3" r="0.7" fill="#3a6678" opacity="0.45"/><circle cx="28.6" cy="-60.6" r="0.8" fill="#3a6678" opacity="0.45"/><circle cx="10.4" cy="-83.2" r="0.7" fill="#8ab2c2" opacity="0.45"/><circle cx="22.4" cy="-67.8" r="0.9" fill="#4f7d90" opacity="0.45"/><circle cx="2.9" cy="-67.8" r="0.8" fill="#4f7d90" opacity="0.45"/><circle cx="-1.4" cy="-52.4" r="0.7" fill="#2a5566" opacity="0.45"/><circle cx="-9.5" cy="-71.1" r="0.8" fill="#8ab2c2" opacity="0.45"/><circle cx="-13.2" cy="-64.3" r="1.0" fill="#8ab2c2" opacity="0.45"/><circle cx="35.3" cy="-39.3" r="1.1" fill="#2a5566" opacity="0.45"/><circle cx="16.8" cy="-61.2" r="0.6" fill="#2a5566" opacity="0.45"/><circle cx="30.6" cy="-43.1" r="1.0" fill="#4f7d90" opacity="0.45"/><circle cx="-16.3" cy="-53.2" r="1.3" fill="#3a6678" opacity="0.45"/><circle cx="-13.6" cy="-56.2" r="0.8" fill="#2a5566" opacity="0.45"/><circle cx="7.5" cy="-78.3" r="1.3" fill="#3a6678" opacity="0.45"/><circle cx="-13.1" cy="-59.4" r="1.2" fill="#a3c6d3" opacity="0.45"/><circle cx="10.0" cy="-38.2" r="1.2" fill="#8ab2c2" opacity="0.45"/><circle cx="8.5" cy="-61.5" r="1.0" fill="#4f7d90" opacity="0.45"/><circle cx="-22.4" cy="-41.7" r="0.8" fill="#3a6678" opacity="0.45"/><circle cx="-9.2" cy="-53.4" r="1.1" fill="#3a6678" opacity="0.45"/><circle cx="8.0" cy="-39.7" r="1.1" fill="#2a5566" opacity="0.45"/><circle cx="-20.6" cy="-36.6" r="1.0" fill="#2a5566" opacity="0.45"/><circle cx="-10.0" cy="-60.7" r="1.0" fill="#a3c6d3" opacity="0.45"/><circle cx="15.6" cy="-71.3" r="0.8" fill="#a3c6d3" opacity="0.45"/><circle cx="-17.0" cy="-41.0" r="1.2" fill="#8ab2c2" opacity="0.45"/><circle cx="11.0" cy="-73.3" r="1.1" fill="#a3c6d3" opacity="0.45"/><circle cx="1.5" cy="-73.1" r="0.8" fill="#3a6678" opacity="0.45"/><circle cx="-12.2" cy="-68.9" r="0.9" fill="#a3c6d3" opacity="0.45"/><circle cx="21.6" cy="-48.2" r="0.7" fill="#8ab2c2" opacity="0.45"/><circle cx="-0.3" cy="-60.9" r="0.8" fill="#a3c6d3" opacity="0.45"/><circle cx="25.6" cy="-56.2" r="0.9" fill="#2a5566" opacity="0.45"/><circle cx="-7.1" cy="-46.5" r="1.2" fill="#8ab2c2" opacity="0.45"/><circle cx="-24.8" cy="-54.7" r="0.6" fill="#4f7d90" opacity="0.45"/><circle cx="17.0" cy="-50.3" r="0.8" fill="#2a5566" opacity="0.45"/><circle cx="-8.9" cy="-69.8" r="1.2" fill="#a3c6d3" opacity="0.45"/><circle cx="-19.3" cy="-37.4" r="0.6" fill="#3a6678" opacity="0.45"/><circle cx="-13.3" cy="-56.7" r="0.9" fill="#8ab2c2" opacity="0.45"/><circle cx="2.8" cy="-71.3" r="1.0" fill="#a3c6d3" opacity="0.45"/><circle cx="-7.6" cy="-50.7" r="1.1" fill="#a3c6d3" opacity="0.45"/><circle cx="4.7" cy="-68.2" r="0.7" fill="#2a5566" opacity="0.45"/><circle cx="-7.0" cy="-63.4" r="0.7" fill="#8ab2c2" opacity="0.45"/><circle cx="3.8" cy="-54.4" r="1.0" fill="#a3c6d3" opacity="0.45"/><circle cx="-2.0" cy="-66.6" r="1.2" fill="#3a6678" opacity="0.45"/><circle cx="-2.3" cy="-70.9" r="0.8" fill="#2a5566" opacity="0.45"/><circle cx="-6.9" cy="-45.2" r="0.8" fill="#8ab2c2" opacity="0.45"/><circle cx="-0.8" cy="-59.6" r="0.7" fill="#a3c6d3" opacity="0.45"/><circle cx="31.3" cy="-37.0" r="1.0" fill="#8ab2c2" opacity="0.45"/><circle cx="2.4" cy="-70.8" r="0.8" fill="#3a6678" opacity="0.45"/><circle cx="10.9" cy="-76.5" r="1.2" fill="#3a6678" opacity="0.45"/><circle cx="33.0" cy="-51.0" r="0.7" fill="#2a5566" opacity="0.45"/><circle cx="-4.0" cy="-62.8" r="1.3" fill="#a3c6d3" opacity="0.45"/><circle cx="-12.3" cy="-73.2" r="0.6" fill="#8ab2c2" opacity="0.45"/><circle cx="19.3" cy="-71.9" r="1.1" fill="#a3c6d3" opacity="0.45"/><circle cx="-7.0" cy="-39.0" r="0.8" fill="#2a5566" opacity="0.45"/><circle cx="1.1" cy="-63.3" r="0.9" fill="#a3c6d3" opacity="0.45"/><circle cx="16.1" cy="-33.9" r="0.8" fill="#a3c6d3" opacity="0.45"/><circle cx="-12.4" cy="-54.5" r="0.9" fill="#8ab2c2" opacity="0.45"/><circle cx="17.3" cy="-40.6" r="1.2" fill="#3a6678" opacity="0.45"/><circle cx="9.6" cy="-75.3" r="1.1" fill="#a3c6d3" opacity="0.45"/><circle cx="-9.1" cy="-54.3" r="1.1" fill="#8ab2c2" opacity="0.45"/><circle cx="-21.3" cy="-35.9" r="1.3" fill="#3a6678" opacity="0.45"/><circle cx="-7.2" cy="-43.6" r="0.6" fill="#4f7d90" opacity="0.45"/><circle cx="10.3" cy="-43.2" r="1.2" fill="#3a6678" opacity="0.45"/><circle cx="-19.3" cy="-40.6" r="0.8" fill="#3a6678" opacity="0.45"/><circle cx="18.9" cy="-72.4" r="0.9" fill="#4f7d90" opacity="0.45"/><circle cx="20.6" cy="-30.8" r="1.1" fill="#3a6678" opacity="0.45"/><circle cx="-8.0" cy="-70.5" r="1.2" fill="#a3c6d3" opacity="0.45"/><circle cx="8.8" cy="-82.2" r="0.7" fill="#4f7d90" opacity="0.45"/><circle cx="10.5" cy="-46.0" r="1.1" fill="#a3c6d3" opacity="0.45"/><circle cx="1.8" cy="-60.7" r="1.2" fill="#2a5566" opacity="0.45"/><circle cx="18.7" cy="-73.2" r="1.1" fill="#2a5566" opacity="0.45"/><circle cx="-1.1" cy="-78.2" r="0.8" fill="#2a5566" opacity="0.45"/><circle cx="19.8" cy="-71.8" r="0.8" fill="#a3c6d3" opacity="0.45"/><circle cx="-22.8" cy="-42.2" r="1.2" fill="#2a5566" opacity="0.45"/><circle cx="8.1" cy="-47.4" r="0.9" fill="#4f7d90" opacity="0.45"/><circle cx="-10.1" cy="-45.0" r="0.9" fill="#4f7d90" opacity="0.45"/><circle cx="-6.5" cy="-42.9" r="0.9" fill="#2a5566" opacity="0.45"/><circle cx="-3.6" cy="-42.9" r="0.9" fill="#3a6678" opacity="0.45"/><circle cx="17.6" cy="-50.4" r="1.2" fill="#4f7d90" opacity="0.45"/><circle cx="-1.6" cy="-48.7" r="1.0" fill="#a3c6d3" opacity="0.45"/><circle cx="31.0" cy="-51.9" r="0.7" fill="#3a6678" opacity="0.45"/><circle cx="13.0" cy="-61.0" r="1.1" fill="#a3c6d3" opacity="0.45"/><circle cx="-3.5" cy="-61.8" r="1.0" fill="#2a5566" opacity="0.45"/><circle cx="-27.7" cy="-39.1" r="1.1" fill="#8ab2c2" opacity="0.45"/><circle cx="13.5" cy="-57.3" r="0.9" fill="#a3c6d3" opacity="0.45"/><circle cx="-7.6" cy="-40.0" r="0.8" fill="#2a5566" opacity="0.45"/><circle cx="10.9" cy="-55.6" r="1.0" fill="#8ab2c2" opacity="0.45"/><circle cx="12.2" cy="-49.8" r="0.6" fill="#a3c6d3" opacity="0.45"/><circle cx="0.3" cy="-76.9" r="1.2" fill="#4f7d90" opacity="0.45"/><circle cx="24.0" cy="-33.0" r="0.9" fill="#2a5566" opacity="0.45"/><circle cx="18.5" cy="-62.7" r="1.0" fill="#3a6678" opacity="0.45"/><circle cx="17.4" cy="-30.7" r="1.0" fill="#8ab2c2" opacity="0.45"/><circle cx="0.2" cy="-52.2" r="0.8" fill="#2a5566" opacity="0.45"/><circle cx="-9.2" cy="-39.3" r="0.8" fill="#a3c6d3" opacity="0.45"/><circle cx="2.1" cy="-81.7" r="0.9" fill="#2a5566" opacity="0.45"/><circle cx="-2.3" cy="-46.2" r="1.2" fill="#a3c6d3" opacity="0.45"/><circle cx="-8.3" cy="-47.3" r="0.6" fill="#3a6678" opacity="0.45"/><circle cx="23.6" cy="-52.6" r="0.6" fill="#8ab2c2" opacity="0.45"/><circle cx="-15.3" cy="-51.2" r="1.1" fill="#a3c6d3" opacity="0.45"/><circle cx="17.3" cy="-56.1" r="0.7" fill="#4f7d90" opacity="0.45"/><circle cx="10.4" cy="-51.8" r="1.1" fill="#8ab2c2" opacity="0.45"/><circle cx="-10.5" cy="-37.6" r="0.6" fill="#3a6678" opacity="0.45"/><circle cx="-13.6" cy="-42.9" r="0.7" fill="#3a6678" opacity="0.45"/><circle cx="11.2" cy="-72.8" r="1.2" fill="#2a5566" opacity="0.45"/><circle cx="10.9" cy="-73.1" r="0.9" fill="#8ab2c2" opacity="0.45"/><circle cx="-20.8" cy="-49.3" r="1.3" fill="#8ab2c2" opacity="0.45"/><circle cx="-19.9" cy="-41.4" r="0.6" fill="#2a5566" opacity="0.45"/><circle cx="17.3" cy="-31.2" r="1.0" fill="#2a5566" opacity="0.45"/><circle cx="0.2" cy="-46.1" r="1.3" fill="#a3c6d3" opacity="0.45"/><circle cx="24.1" cy="-47.9" r="1.3" fill="#3a6678" opacity="0.45"/><circle cx="25.9" cy="-48.6" r="0.9" fill="#2a5566" opacity="0.45"/><circle cx="-19.5" cy="-60.4" r="0.7" fill="#4f7d90" opacity="0.45"/><circle cx="18.1" cy="-63.8" r="1.0" fill="#2a5566" opacity="0.45"/><circle cx="-18.1" cy="-60.5" r="0.7" fill="#8ab2c2" opacity="0.45"/><circle cx="-9.3" cy="-51.4" r="1.0" fill="#a3c6d3" opacity="0.45"/><circle cx="-3.3" cy="-56.8" r="0.9" fill="#2a5566" opacity="0.45"/><circle cx="-14.6" cy="-53.0" r="1.0" fill="#3a6678" opacity="0.45"/><circle cx="9.9" cy="-61.3" r="0.9" fill="#a3c6d3" opacity="0.45"/><circle cx="19.1" cy="-43.1" r="1.3" fill="#2a5566" opacity="0.45"/><circle cx="6.9" cy="-46.0" r="0.7" fill="#4f7d90" opacity="0.45"/><circle cx="-1.7" cy="-45.0" r="0.8" fill="#2a5566" opacity="0.45"/><circle cx="-27.6" cy="-44.0" r="1.3" fill="#8ab2c2" opacity="0.45"/><circle cx="26.1" cy="-43.7" r="1.0" fill="#8ab2c2" opacity="0.45"/><circle cx="-31.3" cy="-49.6" r="1.2" fill="#2a5566" opacity="0.45"/><circle cx="28.2" cy="-54.9" r="0.8" fill="#2a5566" opacity="0.45"/><circle cx="5.0" cy="-52.8" r="1.2" fill="#3a6678" opacity="0.45"/><circle cx="4.1" cy="-70.4" r="0.8" fill="#3a6678" opacity="0.45"/><circle cx="12.8" cy="-47.9" r="0.8" fill="#4f7d90" opacity="0.45"/><circle cx="35.1" cy="-38.7" r="1.0" fill="#4f7d90" opacity="0.45"/><circle cx="-7.1" cy="-47.7" r="0.7" fill="#8ab2c2" opacity="0.45"/><circle cx="-20.7" cy="-42.6" r="1.1" fill="#4f7d90" opacity="0.45"/><circle cx="23.8" cy="-46.7" r="0.8" fill="#8ab2c2" opacity="0.45"/><circle cx="-1.3" cy="-53.9" r="0.7" fill="#8ab2c2" opacity="0.45"/><circle cx="5.2" cy="-78.5" r="0.8" fill="#3a6678" opacity="0.45"/><circle cx="3.5" cy="-72.3" r="0.8" fill="#4f7d90" opacity="0.45"/><circle cx="32.0" cy="-52.4" r="1.2" fill="#8ab2c2" opacity="0.45"/><circle cx="-1.8" cy="-71.7" r="0.8" fill="#2a5566" opacity="0.45"/><circle cx="34.5" cy="-52.6" r="1.1" fill="#2a5566" opacity="0.45"/><circle cx="-2.8" cy="-46.3" r="1.0" fill="#8ab2c2" opacity="0.45"/><circle cx="-12.4" cy="-55.4" r="1.0" fill="#4f7d90" opacity="0.45"/><circle cx="4.4" cy="-58.0" r="0.8" fill="#3a6678" opacity="0.45"/><circle cx="22.8" cy="-56.2" r="0.7" fill="#a3c6d3" opacity="0.45"/><circle cx="-20.5" cy="-66.2" r="1.2" fill="#a3c6d3" opacity="0.45"/><circle cx="-0.0" cy="-59.8" r="1.1" fill="#2a5566" opacity="0.45"/><circle cx="-6.8" cy="-73.7" r="0.6" fill="#3a6678" opacity="0.45"/><circle cx="-13.7" cy="-67.2" r="0.8" fill="#a3c6d3" opacity="0.45"/><circle cx="-22.7" cy="-58.7" r="1.0" fill="#3a6678" opacity="0.45"/><circle cx="-24.8" cy="-50.5" r="0.9" fill="#4f7d90" opacity="0.45"/><circle cx="9.0" cy="-61.5" r="0.7" fill="#3a6678" opacity="0.45"/><circle cx="7.3" cy="-41.3" r="1.3" fill="#8ab2c2" opacity="0.45"/><circle cx="-11.0" cy="-61.5" r="1.0" fill="#4f7d90" opacity="0.45"/><circle cx="-18.2" cy="-32.9" r="0.8" fill="#8ab2c2" opacity="0.45"/><circle cx="7.3" cy="-67.4" r="1.0" fill="#2a5566" opacity="0.45"/><circle cx="-23.5" cy="-37.9" r="1.0" fill="#4f7d90" opacity="0.45"/><circle cx="23.0" cy="-36.0" r="1.0" fill="#3a6678" opacity="0.45"/><circle cx="-1.6" cy="-59.3" r="1.2" fill="#2a5566" opacity="0.45"/><circle cx="-15.9" cy="-54.6" r="1.1" fill="#4f7d90" opacity="0.45"/><circle cx="17.0" cy="-47.0" r="1.1" fill="#8ab2c2" opacity="0.45"/><circle cx="2.1" cy="-82.8" r="0.8" fill="#a3c6d3" opacity="0.45"/><circle cx="15.0" cy="-76.9" r="1.1" fill="#3a6678" opacity="0.45"/><circle cx="-1.6" cy="-66.1" r="1.2" fill="#8ab2c2" opacity="0.45"/><circle cx="31.3" cy="-49.3" r="1.1" fill="#2a5566" opacity="0.45"/><circle cx="7.0" cy="-56.2" r="1.3" fill="#2a5566" opacity="0.45"/><circle cx="0.2" cy="-46.9" r="0.8" fill="#8ab2c2" opacity="0.45"/><circle cx="29.6" cy="-47.2" r="0.6" fill="#a3c6d3" opacity="0.45"/><circle cx="-17.4" cy="-58.9" r="1.3" fill="#3a6678" opacity="0.45"/><circle cx="29.1" cy="-53.7" r="1.1" fill="#8ab2c2" opacity="0.45"/><circle cx="-6.1" cy="-64.4" r="0.9" fill="#a3c6d3" opacity="0.45"/><circle cx="28.6" cy="-45.0" r="0.7" fill="#8ab2c2" opacity="0.45"/><circle cx="24.2" cy="-46.3" r="1.0" fill="#4f7d90" opacity="0.45"/><circle cx="-15.2" cy="-69.2" r="1.1" fill="#8ab2c2" opacity="0.45"/><circle cx="6.1" cy="-72.8" r="0.9" fill="#a3c6d3" opacity="0.45"/><circle cx="27.0" cy="-47.0" r="1.0" fill="#4f7d90" opacity="0.45"/><circle cx="-16.9" cy="-37.4" r="0.7" fill="#a3c6d3" opacity="0.45"/><circle cx="5.9" cy="-50.7" r="1.1" fill="#2a5566" opacity="0.45"/><circle cx="-16.3" cy="-58.2" r="1.2" fill="#3a6678" opacity="0.45"/><circle cx="-9.5" cy="-63.7" r="0.8" fill="#4f7d90" opacity="0.45"/><circle cx="31.9" cy="-33.8" r="0.9" fill="#2a5566" opacity="0.45"/><circle cx="-19.7" cy="-46.5" r="1.0" fill="#8ab2c2" opacity="0.45"/><circle cx="21.6" cy="-54.8" r="0.7" fill="#2a5566" opacity="0.45"/><circle cx="-11.6" cy="-68.9" r="0.9" fill="#a3c6d3" opacity="0.45"/><circle cx="23.1" cy="-35.1" r="1.0" fill="#a3c6d3" opacity="0.45"/><circle cx="-21.7" cy="-33.2" r="0.8" fill="#a3c6d3" opacity="0.45"/><circle cx="4.2" cy="-52.4" r="0.7" fill="#3a6678" opacity="0.45"/><circle cx="-14.1" cy="-39.0" r="0.7" fill="#8ab2c2" opacity="0.45"/><circle cx="-3.9" cy="-68.9" r="1.1" fill="#a3c6d3" opacity="0.45"/><circle cx="-25.5" cy="-35.4" r="0.9" fill="#a3c6d3" opacity="0.45"/><circle cx="-16.2" cy="-54.2" r="0.8" fill="#8ab2c2" opacity="0.45"/><circle cx="10.9" cy="-43.4" r="1.2" fill="#a3c6d3" opacity="0.45"/><circle cx="21.4" cy="-33.1" r="0.7" fill="#2a5566" opacity="0.45"/><circle cx="19.6" cy="-65.9" r="1.0" fill="#4f7d90" opacity="0.45"/><circle cx="17.9" cy="-38.4" r="1.1" fill="#a3c6d3" opacity="0.45"/><circle cx="-6.4" cy="-75.5" r="1.1" fill="#4f7d90" opacity="0.45"/><circle cx="-27.2" cy="-53.8" r="1.0" fill="#8ab2c2" opacity="0.45"/><circle cx="13.0" cy="-72.6" r="1.1" fill="#2a5566" opacity="0.45"/><circle cx="17.6" cy="-63.7" r="1.0" fill="#a3c6d3" opacity="0.45"/><circle cx="-12.7" cy="-37.0" r="1.2" fill="#2a5566" opacity="0.45"/><circle cx="8.7" cy="-49.0" r="1.2" fill="#2a5566" opacity="0.45"/><circle cx="-4.1" cy="-45.9" r="1.2" fill="#2a5566" opacity="0.45"/><circle cx="6.6" cy="-65.5" r="1.3" fill="#3a6678" opacity="0.45"/><circle cx="36.3" cy="-41.6" r="1.0" fill="#a3c6d3" opacity="0.45"/><circle cx="-5.1" cy="-51.3" r="1.2" fill="#8ab2c2" opacity="0.45"/><circle cx="19.8" cy="-55.0" r="1.3" fill="#4f7d90" opacity="0.45"/><circle cx="-12.1" cy="-62.8" r="1.0" fill="#a3c6d3" opacity="0.45"/><circle cx="34.0" cy="-50.2" r="1.0" fill="#2a5566" opacity="0.45"/><circle cx="-6.6" cy="-66.5" r="1.1" fill="#4f7d90" opacity="0.45"/><circle cx="-25.2" cy="-52.0" r="0.8" fill="#4f7d90" opacity="0.45"/><circle cx="35.9" cy="-39.5" r="0.9" fill="#3a6678" opacity="0.45"/><circle cx="-0.7" cy="-43.1" r="0.6" fill="#2a5566" opacity="0.45"/><circle cx="20.2" cy="-55.3" r="0.7" fill="#4f7d90" opacity="0.45"/><circle cx="-4.8" cy="-41.1" r="0.7" fill="#8ab2c2" opacity="0.45"/><circle cx="15.5" cy="-70.4" r="1.2" fill="#2a5566" opacity="0.45"/><circle cx="-14.2" cy="-63.0" r="0.6" fill="#2a5566" opacity="0.45"/><circle cx="21.4" cy="-57.1" r="1.0" fill="#a3c6d3" opacity="0.45"/><circle cx="-1.3" cy="-83.0" r="1.3" fill="#3a6678" opacity="0.45"/><circle cx="-13.5" cy="-50.1" r="0.7" fill="#a3c6d3" opacity="0.45"/><circle cx="32.8" cy="-33.7" r="0.9" fill="#8ab2c2" opacity="0.45"/><circle cx="15.8" cy="-73.5" r="0.9" fill="#3a6678" opacity="0.45"/><circle cx="-11.7" cy="-52.8" r="1.0" fill="#a3c6d3" opacity="0.45"/><circle cx="0.6" cy="-51.5" r="0.9" fill="#4f7d90" opacity="0.45"/><circle cx="-3.8" cy="-52.6" r="0.7" fill="#2a5566" opacity="0.45"/><circle cx="4.2" cy="-47.0" r="0.8" fill="#3a6678" opacity="0.45"/><circle cx="-19.6" cy="-45.9" r="0.9" fill="#4f7d90" opacity="0.45"/><circle cx="-20.5" cy="-64.4" r="0.7" fill="#8ab2c2" opacity="0.45"/><circle cx="27.9" cy="-50.0" r="1.2" fill="#3a6678" opacity="0.45"/><circle cx="18.3" cy="-69.2" r="0.8" fill="#3a6678" opacity="0.45"/><circle cx="0.6" cy="-43.2" r="1.0" fill="#4f7d90" opacity="0.45"/><circle cx="25.9" cy="-48.1" r="0.8" fill="#3a6678" opacity="0.45"/><circle cx="-32.2" cy="-48.7" r="1.1" fill="#4f7d90" opacity="0.45"/><circle cx="22.2" cy="-44.0" r="0.7" fill="#2a5566" opacity="0.45"/><circle cx="-11.6" cy="-42.3" r="0.8" fill="#a3c6d3" opacity="0.45"/><circle cx="-5.8" cy="-53.1" r="1.1" fill="#a3c6d3" opacity="0.45"/><circle cx="-32.0" cy="-41.7" r="1.2" fill="#3a6678" opacity="0.45"/><circle cx="11.0" cy="-37.1" r="1.1" fill="#2a5566" opacity="0.45"/><circle cx="-20.0" cy="-37.1" r="0.9" fill="#4f7d90" opacity="0.45"/><circle cx="-4.1" cy="-52.7" r="0.6" fill="#3a6678" opacity="0.45"/><circle cx="35.0" cy="-49.8" r="0.9" fill="#2a5566" opacity="0.45"/><circle cx="-5.2" cy="-43.0" r="1.2" fill="#8ab2c2" opacity="0.45"/><circle cx="-14.1" cy="-42.7" r="0.8" fill="#a3c6d3" opacity="0.45"/><circle cx="-11.3" cy="-70.7" r="0.8" fill="#4f7d90" opacity="0.45"/><circle cx="-14.4" cy="-72.1" r="0.7" fill="#4f7d90" opacity="0.45"/><circle cx="15.9" cy="-33.6" r="1.2" fill="#8ab2c2" opacity="0.45"/><circle cx="19.7" cy="-36.3" r="0.9" fill="#2a5566" opacity="0.45"/><circle cx="-12.6" cy="-58.6" r="0.8" fill="#8ab2c2" opacity="0.45"/><circle cx="25.6" cy="-32.7" r="1.0" fill="#4f7d90" opacity="0.45"/><circle cx="-18.7" cy="-68.7" r="0.9" fill="#3a6678" opacity="0.45"/><circle cx="-24.5" cy="-41.5" r="1.1" fill="#a3c6d3" opacity="0.45"/><circle cx="28.4" cy="-38.9" r="0.9" fill="#3a6678" opacity="0.45"/><circle cx="-4.5" cy="-55.5" r="1.0" fill="#a3c6d3" opacity="0.45"/><circle cx="2.9" cy="-84.7" r="1.2" fill="#8ab2c2" opacity="0.45"/><circle cx="28.8" cy="-33.0" r="1.2" fill="#8ab2c2" opacity="0.45"/><circle cx="16.3" cy="-76.9" r="1.1" fill="#4f7d90" opacity="0.45"/><circle cx="-2.1" cy="-63.9" r="0.7" fill="#2a5566" opacity="0.45"/><circle cx="5.9" cy="-82.4" r="1.1" fill="#a3c6d3" opacity="0.45"/><circle cx="24.4" cy="-49.2" r="1.0" fill="#a3c6d3" opacity="0.45"/><circle cx="35.7" cy="-49.1" r="1.1" fill="#a3c6d3" opacity="0.45"/><circle cx="-4.7" cy="-53.0" r="1.3" fill="#3a6678" opacity="0.45"/><circle cx="-6.3" cy="-65.1" r="0.7" fill="#2a5566" opacity="0.45"/><circle cx="10.9" cy="-57.6" r="0.8" fill="#4f7d90" opacity="0.45"/><circle cx="-22.7" cy="-54.3" r="1.2" fill="#3a6678" opacity="0.45"/><circle cx="15.7" cy="-52.8" r="1.2" fill="#3a6678" opacity="0.45"/><circle cx="19.0" cy="-74.0" r="1.0" fill="#4f7d90" opacity="0.45"/><circle cx="2.0" cy="-76.9" r="1.2" fill="#a3c6d3" opacity="0.45"/><circle cx="-15.9" cy="-45.7" r="0.8" fill="#2a5566" opacity="0.45"/><circle cx="10.7" cy="-66.7" r="0.8" fill="#4f7d90" opacity="0.45"/><circle cx="-8.0" cy="-43.9" r="1.2" fill="#8ab2c2" opacity="0.45"/><circle cx="30.6" cy="-53.0" r="0.8" fill="#4f7d90" opacity="0.45"/><circle cx="11.4" cy="-42.9" r="0.8" fill="#8ab2c2" opacity="0.45"/><circle cx="17.0" cy="-53.1" r="1.1" fill="#8ab2c2" opacity="0.45"/><circle cx="-4.1" cy="-68.0" r="1.0" fill="#8ab2c2" opacity="0.45"/><circle cx="22.8" cy="-45.5" r="1.2" fill="#4f7d90" opacity="0.45"/><circle cx="20.1" cy="-47.6" r="1.2" fill="#a3c6d3" opacity="0.45"/><circle cx="-3.6" cy="-67.1" r="1.2" fill="#8ab2c2" opacity="0.45"/><circle cx="17.0" cy="-67.0" r="1.1" fill="#3a6678" opacity="0.45"/><circle cx="11.5" cy="-48.4" r="0.8" fill="#8ab2c2" opacity="0.45"/><circle cx="26.8" cy="-38.0" r="0.9" fill="#8ab2c2" opacity="0.45"/><circle cx="7.1" cy="-78.9" r="1.0" fill="#3a6678" opacity="0.45"/><circle cx="-13.1" cy="-49.3" r="0.7" fill="#3a6678" opacity="0.45"/><circle cx="9.2" cy="-73.9" r="1.2" fill="#2a5566" opacity="0.45"/><circle cx="24.5" cy="-57.5" r="0.9" fill="#a3c6d3" opacity="0.45"/><circle cx="-21.7" cy="-49.0" r="0.8" fill="#3a6678" opacity="0.45"/><circle cx="10.8" cy="-47.9" r="0.7" fill="#4f7d90" opacity="0.45"/><circle cx="22.1" cy="-55.6" r="0.9" fill="#2a5566" opacity="0.45"/><circle cx="-9.6" cy="-73.3" r="1.1" fill="#8ab2c2" opacity="0.45"/><circle cx="-3.3" cy="-56.6" r="1.0" fill="#a3c6d3" opacity="0.45"/><circle cx="9.1" cy="-42.3" r="0.9" fill="#8ab2c2" opacity="0.45"/><circle cx="-8.6" cy="-63.4" r="1.0" fill="#8ab2c2" opacity="0.45"/><circle cx="-11.4" cy="-56.0" r="0.7" fill="#2a5566" opacity="0.45"/><circle cx="-0.9" cy="-50.2" r="0.9" fill="#4f7d90" opacity="0.45"/><circle cx="-9.8" cy="-62.6" r="1.0" fill="#a3c6d3" opacity="0.45"/><circle cx="10.7" cy="-73.0" r="1.2" fill="#2a5566" opacity="0.45"/><circle cx="14.5" cy="-39.2" r="1.0" fill="#4f7d90" opacity="0.45"/><circle cx="-21.7" cy="-48.1" r="0.8" fill="#4f7d90" opacity="0.45"/><circle cx="11.7" cy="-64.3" r="1.3" fill="#8ab2c2" opacity="0.45"/><circle cx="-12.0" cy="-75.4" r="0.7" fill="#a3c6d3" opacity="0.45"/><circle cx="-25.0" cy="-39.9" r="1.0" fill="#8ab2c2" opacity="0.45"/><circle cx="-8.5" cy="-38.5" r="0.6" fill="#a3c6d3" opacity="0.45"/><circle cx="15.3" cy="-66.6" r="0.8" fill="#2a5566" opacity="0.45"/><circle cx="29.4" cy="-37.0" r="1.1" fill="#4f7d90" opacity="0.45"/><circle cx="-27.2" cy="-39.5" r="0.7" fill="#3a6678" opacity="0.45"/><circle cx="-28.1" cy="-48.2" r="0.9" fill="#8ab2c2" opacity="0.45"/><circle cx="-10.9" cy="-48.2" r="1.3" fill="#a3c6d3" opacity="0.45"/><circle cx="8.0" cy="-59.6" r="1.1" fill="#3a6678" opacity="0.45"/><circle cx="25.5" cy="-51.0" r="0.9" fill="#2a5566" opacity="0.45"/><circle cx="-5.2" cy="-81.6" r="1.0" fill="#3a6678" opacity="0.45"/><circle cx="-12.4" cy="-50.0" r="1.1" fill="#8ab2c2" opacity="0.45"/><circle cx="-9.5" cy="-40.0" r="1.0" fill="#2a5566" opacity="0.45"/><circle cx="-5.6" cy="-48.0" r="0.8" fill="#3a6678" opacity="0.45"/><circle cx="21.5" cy="-35.3" r="0.7" fill="#2a5566" opacity="0.45"/><circle cx="25.8" cy="-58.5" r="1.2" fill="#2a5566" opacity="0.45"/><circle cx="19.4" cy="-75.0" r="1.2" fill="#2a5566" opacity="0.45"/><circle cx="-27.6" cy="-44.9" r="0.8" fill="#8ab2c2" opacity="0.45"/><circle cx="17.4" cy="-44.9" r="0.8" fill="#a3c6d3" opacity="0.45"/><circle cx="-3.1" cy="-74.2" r="0.6" fill="#3a6678" opacity="0.45"/><circle cx="23.1" cy="-33.7" r="1.3" fill="#4f7d90" opacity="0.45"/><circle cx="13.5" cy="-57.0" r="1.3" fill="#8ab2c2" opacity="0.45"/><circle cx="-26.9" cy="-48.3" r="1.3" fill="#3a6678" opacity="0.45"/><circle cx="-27.6" cy="-53.5" r="1.1" fill="#2a5566" opacity="0.45"/><circle cx="-15.7" cy="-73.6" r="0.6" fill="#3a6678" opacity="0.45"/><circle cx="25.9" cy="-33.5" r="0.9" fill="#8ab2c2" opacity="0.45"/><circle cx="-3.9" cy="-68.4" r="0.9" fill="#4f7d90" opacity="0.45"/><circle cx="-16.5" cy="-71.3" r="1.1" fill="#2a5566" opacity="0.45"/><circle cx="-18.4" cy="-47.3" r="1.2" fill="#a3c6d3" opacity="0.45"/><circle cx="30.2" cy="-52.9" r="0.7" fill="#3a6678" opacity="0.45"/><circle cx="-25.1" cy="-36.9" r="1.2" fill="#4f7d90" opacity="0.45"/><circle cx="-11.7" cy="-56.4" r="0.9" fill="#2a5566" opacity="0.45"/><circle cx="-3.5" cy="-68.6" r="1.2" fill="#3a6678" opacity="0.45"/><circle cx="11.4" cy="-68.7" r="0.7" fill="#8ab2c2" opacity="0.45"/><circle cx="15.3" cy="-74.9" r="0.9" fill="#4f7d90" opacity="0.45"/><circle cx="8.5" cy="-64.2" r="1.0" fill="#2a5566" opacity="0.45"/><circle cx="4.1" cy="-60.2" r="1.1" fill="#8ab2c2" opacity="0.45"/><circle cx="-11.7" cy="-76.5" r="0.8" fill="#3a6678" opacity="0.45"/><circle cx="-22.7" cy="-47.7" r="1.0" fill="#3a6678" opacity="0.45"/><circle cx="-23.6" cy="-51.6" r="0.9" fill="#3a6678" opacity="0.45"/><circle cx="-26.7" cy="-41.7" r="0.9" fill="#4f7d90" opacity="0.45"/><circle cx="21.5" cy="-35.8" r="1.0" fill="#3a6678" opacity="0.45"/><circle cx="16.8" cy="-48.2" r="0.8" fill="#8ab2c2" opacity="0.45"/><circle cx="29.8" cy="-58.1" r="0.7" fill="#3a6678" opacity="0.45"/><circle cx="-18.9" cy="-58.4" r="1.1" fill="#a3c6d3" opacity="0.45"/><circle cx="-4.8" cy="-42.9" r="0.6" fill="#a3c6d3" opacity="0.45"/><circle cx="-16.7" cy="-68.4" r="1.3" fill="#3a6678" opacity="0.45"/><circle cx="-5.0" cy="-54.4" r="0.6" fill="#2a5566" opacity="0.45"/><circle cx="20.5" cy="-71.1" r="1.3" fill="#8ab2c2" opacity="0.45"/><circle cx="-13.5" cy="-66.9" r="0.8" fill="#2a5566" opacity="0.45"/><circle cx="8.8" cy="-48.8" r="0.6" fill="#2a5566" opacity="0.45"/><circle cx="-4.1" cy="-77.5" r="1.0" fill="#3a6678" opacity="0.45"/><circle cx="-0.8" cy="-48.2" r="1.0" fill="#a3c6d3" opacity="0.45"/><circle cx="-21.2" cy="-62.2" r="0.7" fill="#2a5566" opacity="0.45"/><circle cx="19.6" cy="-41.1" r="0.9" fill="#3a6678" opacity="0.45"/><circle cx="13.4" cy="-34.6" r="0.9" fill="#8ab2c2" opacity="0.45"/><circle cx="-20.3" cy="-34.7" r="0.6" fill="#4f7d90" opacity="0.45"/><circle cx="30.4" cy="-44.7" r="1.0" fill="#2a5566" opacity="0.45"/><circle cx="-20.9" cy="-63.2" r="0.8" fill="#2a5566" opacity="0.45"/><circle cx="-7.1" cy="-67.6" r="0.7" fill="#2a5566" opacity="0.45"/><circle cx="33.6" cy="-47.3" r="0.6" fill="#3a6678" opacity="0.45"/><circle cx="22.8" cy="-57.4" r="1.1" fill="#4f7d90" opacity="0.45"/><circle cx="18.6" cy="-64.0" r="1.1" fill="#a3c6d3" opacity="0.45"/><circle cx="-10.4" cy="-47.3" r="1.2" fill="#4f7d90" opacity="0.45"/><circle cx="-21.7" cy="-62.3" r="1.2" fill="#4f7d90" opacity="0.45"/><circle cx="-15.2" cy="-37.9" r="0.6" fill="#4f7d90" opacity="0.45"/><circle cx="-2.2" cy="-49.1" r="1.2" fill="#a3c6d3" opacity="0.45"/><circle cx="-19.8" cy="-35.7" r="0.8" fill="#3a6678" opacity="0.45"/><circle cx="-25.4" cy="-47.5" r="1.2" fill="#8ab2c2" opacity="0.45"/><circle cx="29.5" cy="-49.6" r="0.9" fill="#3a6678" opacity="0.45"/><circle cx="10.2" cy="-67.2" r="1.2" fill="#3a6678" opacity="0.45"/><circle cx="-14.6" cy="-66.5" r="0.6" fill="#3a6678" opacity="0.45"/><circle cx="21.1" cy="-71.9" r="0.9" fill="#2a5566" opacity="0.45"/><circle cx="15.0" cy="-49.1" r="0.7" fill="#3a6678" opacity="0.45"/><circle cx="13.7" cy="-71.6" r="1.3" fill="#4f7d90" opacity="0.45"/><circle cx="-15.2" cy="-52.3" r="0.8" fill="#4f7d90" opacity="0.45"/><circle cx="2.9" cy="-56.7" r="0.7" fill="#2a5566" opacity="0.45"/><circle cx="-12.2" cy="-40.0" r="0.9" fill="#4f7d90" opacity="0.45"/><circle cx="7.5" cy="-64.8" r="1.2" fill="#2a5566" opacity="0.45"/><circle cx="26.6" cy="-59.4" r="1.2" fill="#2a5566" opacity="0.45"/><circle cx="1.9" cy="-77.1" r="1.0" fill="#8ab2c2" opacity="0.45"/><circle cx="-0.2" cy="-57.5" r="0.7" fill="#2a5566" opacity="0.45"/><circle cx="-3.4" cy="-59.1" r="0.9" fill="#a3c6d3" opacity="0.45"/><circle cx="3.3" cy="-43.0" r="0.6" fill="#8ab2c2" opacity="0.45"/><circle cx="-25.7" cy="-34.9" r="1.2" fill="#3a6678" opacity="0.45"/><circle cx="9.4" cy="-70.1" r="1.1" fill="#3a6678" opacity="0.45"/><circle cx="10.2" cy="-80.5" r="0.7" fill="#2a5566" opacity="0.45"/><circle cx="-21.3" cy="-42.4" r="1.0" fill="#2a5566" opacity="0.45"/><circle cx="1.3" cy="-62.3" r="1.0" fill="#8ab2c2" opacity="0.45"/><circle cx="-8.9" cy="-43.8" r="1.0" fill="#8ab2c2" opacity="0.45"/><circle cx="26.7" cy="-39.8" r="1.3" fill="#3a6678" opacity="0.45"/><circle cx="-18.5" cy="-62.6" r="0.7" fill="#8ab2c2" opacity="0.45"/><circle cx="2.5" cy="-66.6" r="1.0" fill="#8ab2c2" opacity="0.45"/><circle cx="5.5" cy="-51.2" r="1.1" fill="#8ab2c2" opacity="0.45"/><circle cx="-0.4" cy="-61.4" r="1.1" fill="#3a6678" opacity="0.45"/><circle cx="-16.1" cy="-43.0" r="0.9" fill="#3a6678" opacity="0.45"/><circle cx="18.6" cy="-50.0" r="0.8" fill="#a3c6d3" opacity="0.45"/><circle cx="-11.5" cy="-42.1" r="1.0" fill="#2a5566" opacity="0.45"/><circle cx="14.8" cy="-52.9" r="1.2" fill="#2a5566" opacity="0.45"/><circle cx="15.3" cy="-41.0" r="1.2" fill="#3a6678" opacity="0.45"/><circle cx="16.6" cy="-50.3" r="0.8" fill="#3a6678" opacity="0.45"/><circle cx="-5.2" cy="-68.7" r="0.9" fill="#4f7d90" opacity="0.45"/><circle cx="2.2" cy="-83.9" r="0.6" fill="#2a5566" opacity="0.45"/><circle cx="-26.1" cy="-44.0" r="1.0" fill="#3a6678" opacity="0.45"/><circle cx="-21.9" cy="-38.0" r="1.2" fill="#8ab2c2" opacity="0.45"/><circle cx="-11.8" cy="-41.8" r="1.0" fill="#4f7d90" opacity="0.45"/><circle cx="25.1" cy="-62.9" r="0.6" fill="#3a6678" opacity="0.45"/><circle cx="-12.7" cy="-39.3" r="0.8" fill="#3a6678" opacity="0.45"/><circle cx="-17.5" cy="-50.7" r="1.2" fill="#a3c6d3" opacity="0.45"/><circle cx="1.6" cy="-78.5" r="0.7" fill="#4f7d90" opacity="0.45"/><circle cx="33.9" cy="-51.4" r="0.8" fill="#3a6678" opacity="0.45"/><circle cx="-18.5" cy="-53.0" r="1.2" fill="#2a5566" opacity="0.45"/><circle cx="-8.8" cy="-51.8" r="0.8" fill="#2a5566" opacity="0.45"/><circle cx="-14.2" cy="-33.9" r="1.0" fill="#2a5566" opacity="0.45"/><circle cx="23.1" cy="-63.6" r="1.0" fill="#2a5566" opacity="0.45"/><circle cx="0.1" cy="-51.5" r="1.2" fill="#8ab2c2" opacity="0.45"/><circle cx="-0.5" cy="-79.2" r="0.9" fill="#a3c6d3" opacity="0.45"/><circle cx="21.0" cy="-57.9" r="0.8" fill="#8ab2c2" opacity="0.45"/><circle cx="17.9" cy="-45.1" r="1.1" fill="#8ab2c2" opacity="0.45"/><circle cx="-11.5" cy="-65.6" r="0.9" fill="#8ab2c2" opacity="0.45"/><circle cx="32.4" cy="-54.3" r="1.0" fill="#8ab2c2" opacity="0.45"/><circle cx="-8.3" cy="-77.8" r="1.2" fill="#4f7d90" opacity="0.45"/><circle cx="22.9" cy="-65.1" r="0.7" fill="#2a5566" opacity="0.45"/><circle cx="28.7" cy="-37.9" r="1.0" fill="#3a6678" opacity="0.45"/><circle cx="24.3" cy="-31.4" r="0.8" fill="#2a5566" opacity="0.45"/><circle cx="16.3" cy="-40.1" r="1.0" fill="#4f7d90" opacity="0.45"/><circle cx="-23.5" cy="-50.0" r="0.7" fill="#2a5566" opacity="0.45"/><circle cx="17.6" cy="-45.0" r="1.2" fill="#8ab2c2" opacity="0.45"/><circle cx="24.3" cy="-48.9" r="0.7" fill="#3a6678" opacity="0.45"/><circle cx="5.8" cy="-41.9" r="1.2" fill="#4f7d90" opacity="0.45"/><circle cx="-15.0" cy="-67.7" r="1.1" fill="#4f7d90" opacity="0.45"/><circle cx="29.4" cy="-59.3" r="0.8" fill="#8ab2c2" opacity="0.45"/><circle cx="-12.6" cy="-47.7" r="1.1" fill="#a3c6d3" opacity="0.45"/><circle cx="32.7" cy="-39.6" r="0.8" fill="#a3c6d3" opacity="0.45"/><circle cx="-12.8" cy="-45.6" r="1.0" fill="#8ab2c2" opacity="0.45"/><circle cx="-4.3" cy="-74.8" r="1.1" fill="#2a5566" opacity="0.45"/><circle cx="-17.4" cy="-47.9" r="0.8" fill="#3a6678" opacity="0.45"/><circle cx="-1.7" cy="-64.5" r="0.7" fill="#a3c6d3" opacity="0.45"/><circle cx="-29.5" cy="-41.4" r="0.8" fill="#8ab2c2" opacity="0.45"/><circle cx="30.8" cy="-54.0" r="0.8" fill="#4f7d90" opacity="0.45"/><circle cx="5.5" cy="-76.9" r="1.1" fill="#3a6678" opacity="0.45"/><circle cx="-13.9" cy="-65.2" r="1.1" fill="#3a6678" opacity="0.45"/><circle cx="28.3" cy="-43.1" r="0.9" fill="#4f7d90" opacity="0.45"/><circle cx="16.5" cy="-60.1" r="1.0" fill="#a3c6d3" opacity="0.45"/><circle cx="-27.2" cy="-52.1" r="1.2" fill="#3a6678" opacity="0.45"/><circle cx="10.7" cy="-38.4" r="0.9" fill="#a3c6d3" opacity="0.45"/><circle cx="-26.1" cy="-38.6" r="1.2" fill="#3a6678" opacity="0.45"/><circle cx="-9.5" cy="-45.5" r="1.2" fill="#4f7d90" opacity="0.45"/><circle cx="19.9" cy="-67.8" r="0.8" fill="#8ab2c2" opacity="0.45"/><circle cx="0.1" cy="-67.9" r="1.3" fill="#a3c6d3" opacity="0.45"/><circle cx="13.0" cy="-48.4" r="0.9" fill="#a3c6d3" opacity="0.45"/><circle cx="4.4" cy="-60.4" r="0.9" fill="#8ab2c2" opacity="0.45"/><circle cx="-26.4" cy="-51.1" r="0.9" fill="#3a6678" opacity="0.45"/><circle cx="24.4" cy="-49.0" r="1.0" fill="#4f7d90" opacity="0.45"/><circle cx="-5.2" cy="-73.8" r="1.0" fill="#8ab2c2" opacity="0.45"/><circle cx="-9.4" cy="-40.1" r="0.9" fill="#8ab2c2" opacity="0.45"/><circle cx="-17.8" cy="-58.2" r="0.8" fill="#3a6678" opacity="0.45"/><circle cx="24.8" cy="-36.4" r="0.7" fill="#a3c6d3" opacity="0.45"/><circle cx="26.0" cy="-38.1" r="1.0" fill="#8ab2c2" opacity="0.45"/><circle cx="29.4" cy="-38.9" r="0.7" fill="#8ab2c2" opacity="0.45"/><circle cx="-11.2" cy="-45.6" r="0.9" fill="#2a5566" opacity="0.45"/><circle cx="-3.1" cy="-77.1" r="1.3" fill="#4f7d90" opacity="0.45"/><circle cx="-5.6" cy="-72.5" r="0.8" fill="#8ab2c2" opacity="0.45"/><circle cx="-10.0" cy="-63.5" r="0.8" fill="#4f7d90" opacity="0.45"/><circle cx="-17.4" cy="-32.1" r="0.7" fill="#8ab2c2" opacity="0.45"/><circle cx="-14.4" cy="-73.2" r="0.7" fill="#2a5566" opacity="0.45"/><circle cx="-29.6" cy="-36.7" r="1.2" fill="#2a5566" opacity="0.45"/><circle cx="-0.7" cy="-75.9" r="0.8" fill="#3a6678" opacity="0.45"/><circle cx="0.8" cy="-79.7" r="0.8" fill="#3a6678" opacity="0.45"/><circle cx="13.8" cy="-48.0" r="1.2" fill="#a3c6d3" opacity="0.45"/><circle cx="25.5" cy="-49.7" r="0.9" fill="#8ab2c2" opacity="0.45"/><circle cx="-8.8" cy="-64.6" r="1.3" fill="#3a6678" opacity="0.45"/><circle cx="19.2" cy="-60.0" r="0.8" fill="#3a6678" opacity="0.45"/><circle cx="-0.8" cy="-85.2" r="1.0" fill="#a3c6d3" opacity="0.45"/><circle cx="7.7" cy="-41.0" r="1.2" fill="#2a5566" opacity="0.45"/><circle cx="21.4" cy="-35.2" r="1.2" fill="#2a5566" opacity="0.45"/><circle cx="-4.1" cy="-46.0" r="0.8" fill="#3a6678" opacity="0.45"/><circle cx="-29.0" cy="-40.3" r="0.7" fill="#4f7d90" opacity="0.45"/><circle cx="13.5" cy="-65.0" r="0.9" fill="#8ab2c2" opacity="0.45"/><circle cx="30.7" cy="-39.1" r="1.1" fill="#4f7d90" opacity="0.45"/><circle cx="21.5" cy="-63.8" r="0.9" fill="#a3c6d3" opacity="0.45"/><circle cx="5.6" cy="-82.0" r="1.0" fill="#8ab2c2" opacity="0.45"/><circle cx="12.2" cy="-81.5" r="1.3" fill="#2a5566" opacity="0.45"/><circle cx="7.3" cy="-82.7" r="1.1" fill="#2a5566" opacity="0.45"/><circle cx="-6.8" cy="-71.2" r="0.8" fill="#3a6678" opacity="0.45"/><circle cx="6.3" cy="-44.4" r="1.0" fill="#3a6678" opacity="0.45"/><circle cx="36.0" cy="-40.1" r="0.7" fill="#a3c6d3" opacity="0.45"/><circle cx="-0.4" cy="-64.3" r="0.6" fill="#8ab2c2" opacity="0.45"/><circle cx="33.6" cy="-47.4" r="1.2" fill="#4f7d90" opacity="0.45"/><circle cx="23.5" cy="-38.8" r="0.7" fill="#a3c6d3" opacity="0.45"/><circle cx="30.6" cy="-40.4" r="1.2" fill="#3a6678" opacity="0.45"/><circle cx="-3.7" cy="-82.2" r="1.0" fill="#a3c6d3" opacity="0.45"/><circle cx="31.3" cy="-57.2" r="0.8" fill="#2a5566" opacity="0.45"/><circle cx="32.1" cy="-45.1" r="1.1" fill="#2a5566" opacity="0.45"/><circle cx="18.9" cy="-65.7" r="0.9" fill="#a3c6d3" opacity="0.45"/><circle cx="-2.9" cy="-67.4" r="0.6" fill="#2a5566" opacity="0.45"/><circle cx="28.2" cy="-39.0" r="1.1" fill="#2a5566" opacity="0.45"/><circle cx="-19.5" cy="-62.4" r="1.1" fill="#2a5566" opacity="0.45"/><circle cx="-0.1" cy="-48.4" r="0.9" fill="#3a6678" opacity="0.45"/><circle cx="9.6" cy="-40.7" r="0.6" fill="#8ab2c2" opacity="0.45"/><circle cx="-13.5" cy="-74.6" r="0.7" fill="#a3c6d3" opacity="0.45"/><circle cx="23.4" cy="-62.7" r="1.3" fill="#2a5566" opacity="0.45"/><circle cx="-9.4" cy="-68.6" r="0.6" fill="#a3c6d3" opacity="0.45"/><circle cx="11.4" cy="-80.1" r="1.0" fill="#4f7d90" opacity="0.45"/><circle cx="-11.0" cy="-75.0" r="0.6" fill="#3a6678" opacity="0.45"/><circle cx="-1.3" cy="-76.7" r="1.1" fill="#2a5566" opacity="0.45"/><circle cx="21.9" cy="-53.8" r="1.2" fill="#3a6678" opacity="0.45"/><circle cx="-9.4" cy="-72.8" r="0.7" fill="#a3c6d3" opacity="0.45"/><circle cx="3.8" cy="-75.4" r="0.9" fill="#8ab2c2" opacity="0.45"/><circle cx="-4.4" cy="-83.1" r="1.3" fill="#4f7d90" opacity="0.45"/><circle cx="-14.7" cy="-46.8" r="1.0" fill="#8ab2c2" opacity="0.45"/><circle cx="-24.0" cy="-46.9" r="0.7" fill="#4f7d90" opacity="0.45"/><circle cx="-1.1" cy="-63.1" r="1.0" fill="#2a5566" opacity="0.45"/><circle cx="32.7" cy="-52.3" r="1.2" fill="#2a5566" opacity="0.45"/><circle cx="34.1" cy="-47.1" r="0.7" fill="#3a6678" opacity="0.45"/><circle cx="24.0" cy="-39.9" r="0.9" fill="#8ab2c2" opacity="0.45"/><circle cx="-13.9" cy="-53.9" r="1.3" fill="#a3c6d3" opacity="0.45"/><circle cx="33.2" cy="-38.5" r="0.7" fill="#4f7d90" opacity="0.45"/><circle cx="-1.7" cy="-50.4" r="0.9" fill="#3a6678" opacity="0.45"/><circle cx="12.2" cy="-70.5" r="1.0" fill="#a3c6d3" opacity="0.45"/><circle cx="-16.7" cy="-41.5" r="1.0" fill="#3a6678" opacity="0.45"/><circle cx="1.9" cy="-44.7" r="1.2" fill="#4f7d90" opacity="0.45"/><circle cx="-10.7" cy="-78.2" r="0.7" fill="#8ab2c2" opacity="0.45"/><circle cx="-21.1" cy="-43.2" r="1.0" fill="#a3c6d3" opacity="0.45"/><circle cx="-7.1" cy="-66.4" r="1.0" fill="#a3c6d3" opacity="0.45"/><circle cx="-6.3" cy="-81.2" r="1.1" fill="#a3c6d3" opacity="0.45"/><circle cx="-19.5" cy="-32.1" r="0.9" fill="#8ab2c2" opacity="0.45"/><circle cx="4.3" cy="-58.6" r="1.1" fill="#4f7d90" opacity="0.45"/><circle cx="3.7" cy="-81.3" r="1.0" fill="#2a5566" opacity="0.45"/><circle cx="-5.5" cy="-47.6" r="0.9" fill="#2a5566" opacity="0.45"/><circle cx="7.1" cy="-76.7" r="0.8" fill="#8ab2c2" opacity="0.45"/><circle cx="10.9" cy="-50.4" r="1.2" fill="#4f7d90" opacity="0.45"/><circle cx="19.0" cy="-44.8" r="1.2" fill="#3a6678" opacity="0.45"/><circle cx="-20.3" cy="-34.8" r="1.0" fill="#2a5566" opacity="0.45"/><circle cx="-18.3" cy="-55.9" r="1.0" fill="#3a6678" opacity="0.45"/><circle cx="23.7" cy="-64.8" r="1.3" fill="#4f7d90" opacity="0.45"/><circle cx="31.0" cy="-44.6" r="0.9" fill="#8ab2c2" opacity="0.45"/><circle cx="-17.0" cy="-62.5" r="1.1" fill="#4f7d90" opacity="0.45"/><circle cx="18.3" cy="-48.3" r="0.6" fill="#a3c6d3" opacity="0.45"/><circle cx="30.6" cy="-47.8" r="1.2" fill="#8ab2c2" opacity="0.45"/><circle cx="26.5" cy="-44.5" r="1.2" fill="#2a5566" opacity="0.45"/><circle cx="-2.4" cy="-67.9" r="1.1" fill="#3a6678" opacity="0.45"/><circle cx="-6.9" cy="-68.8" r="1.1" fill="#a3c6d3" opacity="0.45"/><circle cx="2.7" cy="-62.5" r="0.6" fill="#a3c6d3" opacity="0.45"/><circle cx="-16.4" cy="-71.4" r="1.2" fill="#8ab2c2" opacity="0.45"/><circle cx="6.6" cy="-42.3" r="0.7" fill="#4f7d90" opacity="0.45"/><circle cx="2.5" cy="-72.7" r="1.3" fill="#8ab2c2" opacity="0.45"/><circle cx="18.0" cy="-61.1" r="1.0" fill="#4f7d90" opacity="0.45"/><circle cx="29.7" cy="-55.9" r="1.2" fill="#2a5566" opacity="0.45"/><circle cx="1.5" cy="-48.6" r="0.9" fill="#4f7d90" opacity="0.45"/><circle cx="12.7" cy="-54.2" r="0.7" fill="#a3c6d3" opacity="0.45"/><circle cx="-8.8" cy="-76.0" r="1.0" fill="#a3c6d3" opacity="0.45"/><circle cx="22.2" cy="-67.1" r="0.7" fill="#8ab2c2" opacity="0.45"/><circle cx="6.4" cy="-40.5" r="1.0" fill="#8ab2c2" opacity="0.45"/><circle cx="-3.8" cy="-61.0" r="0.9" fill="#4f7d90" opacity="0.45"/><circle cx="15.0" cy="-34.8" r="0.7" fill="#3a6678" opacity="0.45"/><circle cx="7.4" cy="-67.3" r="1.3" fill="#2a5566" opacity="0.45"/><circle cx="-18.5" cy="-64.8" r="1.2" fill="#8ab2c2" opacity="0.45"/><circle cx="6.3" cy="-71.3" r="1.1" fill="#3a6678" opacity="0.45"/><circle cx="1.5" cy="-52.6" r="0.7" fill="#2a5566" opacity="0.45"/><circle cx="-21.5" cy="-57.5" r="0.6" fill="#a3c6d3" opacity="0.45"/><circle cx="-1.8" cy="-81.1" r="0.9" fill="#4f7d90" opacity="0.45"/><circle cx="9.3" cy="-42.9" r="0.9" fill="#8ab2c2" opacity="0.45"/><circle cx="10.8" cy="-69.2" r="0.9" fill="#2a5566" opacity="0.45"/><circle cx="-31.4" cy="-43.3" r="1.2" fill="#4f7d90" opacity="0.45"/><circle cx="-18.8" cy="-34.3" r="1.0" fill="#a3c6d3" opacity="0.45"/><circle cx="-14.0" cy="-75.0" r="1.2" fill="#4f7d90" opacity="0.45"/><circle cx="-8.3" cy="-77.6" r="1.0" fill="#8ab2c2" opacity="0.45"/><circle cx="-8.7" cy="-40.6" r="0.8" fill="#3a6678" opacity="0.45"/><circle cx="-4.8" cy="-67.2" r="0.7" fill="#2a5566" opacity="0.45"/><circle cx="-6.6" cy="-68.4" r="1.3" fill="#3a6678" opacity="0.45"/><circle cx="-2.2" cy="-42.6" r="1.1" fill="#4f7d90" opacity="0.45"/><circle cx="-10.0" cy="-75.5" r="1.1" fill="#3a6678" opacity="0.45"/><circle cx="14.1" cy="-38.7" r="1.2" fill="#4f7d90" opacity="0.45"/><circle cx="-18.8" cy="-45.1" r="1.2" fill="#4f7d90" opacity="0.45"/><circle cx="29.4" cy="-36.7" r="1.2" fill="#3a6678" opacity="0.45"/><circle cx="-1.3" cy="-49.4" r="1.2" fill="#2a5566" opacity="0.45"/><circle cx="-19.4" cy="-57.6" r="0.9" fill="#a3c6d3" opacity="0.45"/><circle cx="-3.9" cy="-67.1" r="0.9" fill="#3a6678" opacity="0.45"/><circle cx="18.1" cy="-64.1" r="1.2" fill="#a3c6d3" opacity="0.45"/><circle cx="19.3" cy="-38.8" r="1.0" fill="#4f7d90" opacity="0.45"/><circle cx="12.9" cy="-49.3" r="0.8" fill="#4f7d90" opacity="0.45"/><circle cx="29.9" cy="-50.2" r="1.0" fill="#3a6678" opacity="0.45"/><circle cx="-17.6" cy="-64.8" r="0.8" fill="#4f7d90" opacity="0.45"/><g fill="#b3dcec"><ellipse cx="-4.5" cy="-37.5" rx="3" ry="2.2"/><ellipse cx="8" cy="-38" rx="2.6" ry="2"/><ellipse cx="15" cy="-33.5" rx="1.8" ry="1.4"/></g><path d="M0.5 -34 C-3 -38 -8 -41 -13 -43 M1 -35 C0.5 -39 0 -43 -1 -47 M2 -34 C5 -38 10 -40 16 -41 M2 -36 C4 -40 6 -43 9 -48" stroke="#2d5565" stroke-width="1.2" fill="none" stroke-linecap="round" opacity="0.9"/></g><g id="bt" stroke="#234d5c" stroke-linecap="round"><path d="M-2.1 -37 C-2.1 -22 -2.4 -11 -3.6 -5.5 C-4.6 -2.5 -6.5 -0.6 -9.5 0 L10 0 C7 -0.6 5 -2.5 4.1 -5.5 C2.8 -11 2.4 -22 2.4 -37 Z" fill="#214b5a"/><line x1="0.0" y1="-35.0" x2="-2.2" y2="-41.7" stroke-width="2.60"/><line x1="-2.2" y1="-41.7" x2="-5.1" y2="-48.2" stroke-width="2.39"/><line x1="-2.2" y1="-41.7" x2="-4.9" y2="-42.1" stroke-width="0.45"/><line x1="-4.9" y1="-42.1" x2="-6.2" y2="-41.5" stroke-width="0.38"/><line x1="-4.9" y1="-42.1" x2="-6.3" y2="-42.9" stroke-width="0.38"/><line x1="-5.1" y1="-48.2" x2="-8.8" y2="-52.1" stroke-width="1.77"/><line x1="-8.8" y1="-52.1" x2="-12.9" y2="-55.6" stroke-width="1.63"/><line x1="-8.8" y1="-52.1" x2="-12.1" y2="-51.4" stroke-width="0.45"/><line x1="-12.1" y1="-51.4" x2="-13.1" y2="-50.6" stroke-width="0.38"/><line x1="-12.1" y1="-51.4" x2="-13.9" y2="-51.7" stroke-width="0.38"/><line x1="-12.9" y1="-55.6" x2="-16.1" y2="-56.9" stroke-width="1.20"/><line x1="-16.1" y1="-56.9" x2="-19.2" y2="-58.3" stroke-width="1.11"/><line x1="-16.1" y1="-56.9" x2="-19.7" y2="-56.0" stroke-width="0.45"/><line x1="-19.7" y1="-56.0" x2="-21.3" y2="-54.9" stroke-width="0.38"/><line x1="-19.7" y1="-56.0" x2="-21.5" y2="-56.5" stroke-width="0.38"/><line x1="-19.2" y1="-58.3" x2="-21.8" y2="-58.4" stroke-width="0.82"/><line x1="-21.8" y1="-58.4" x2="-24.3" y2="-58.8" stroke-width="0.75"/><line x1="-21.8" y1="-58.4" x2="-23.4" y2="-60.5" stroke-width="0.45"/><line x1="-23.4" y1="-60.5" x2="-24.6" y2="-61.0" stroke-width="0.38"/><line x1="-23.4" y1="-60.5" x2="-23.8" y2="-62.1" stroke-width="0.38"/><line x1="-24.3" y1="-58.8" x2="-26.0" y2="-58.4" stroke-width="0.56"/><line x1="-26.0" y1="-58.4" x2="-27.8" y2="-58.1" stroke-width="0.51"/><line x1="-26.0" y1="-58.4" x2="-30.1" y2="-60.7" stroke-width="0.45"/><line x1="-30.1" y1="-60.7" x2="-32.2" y2="-60.8" stroke-width="0.38"/><line x1="-30.1" y1="-60.7" x2="-31.2" y2="-62.0" stroke-width="0.38"/><line x1="-27.8" y1="-58.1" x2="-34.6" y2="-53.6" stroke-width="0.38"/><line x1="-34.6" y1="-53.6" x2="-35.4" y2="-52.3" stroke-width="0.38"/><line x1="-34.6" y1="-53.6" x2="-36.5" y2="-53.4" stroke-width="0.38"/><line x1="-27.8" y1="-58.1" x2="-32.5" y2="-58.7" stroke-width="0.38"/><line x1="-32.5" y1="-58.7" x2="-34.3" y2="-58.1" stroke-width="0.38"/><line x1="-32.5" y1="-58.7" x2="-34.2" y2="-59.6" stroke-width="0.38"/><line x1="-24.3" y1="-58.8" x2="-25.9" y2="-59.6" stroke-width="0.56"/><line x1="-25.9" y1="-59.6" x2="-27.5" y2="-60.4" stroke-width="0.51"/><line x1="-25.9" y1="-59.6" x2="-26.0" y2="-64.2" stroke-width="0.45"/><line x1="-26.0" y1="-64.2" x2="-26.7" y2="-65.9" stroke-width="0.38"/><line x1="-26.0" y1="-64.2" x2="-25.3" y2="-65.5" stroke-width="0.38"/><line x1="-27.5" y1="-60.4" x2="-33.5" y2="-61.6" stroke-width="0.38"/><line x1="-33.5" y1="-61.6" x2="-35.5" y2="-61.1" stroke-width="0.38"/><line x1="-33.5" y1="-61.6" x2="-34.5" y2="-62.4" stroke-width="0.38"/><line x1="-27.5" y1="-60.4" x2="-31.1" y2="-64.7" stroke-width="0.38"/><line x1="-31.1" y1="-64.7" x2="-32.6" y2="-65.5" stroke-width="0.38"/><line x1="-31.1" y1="-64.7" x2="-31.5" y2="-66.6" stroke-width="0.38"/><line x1="-19.2" y1="-58.3" x2="-21.0" y2="-60.4" stroke-width="0.82"/><line x1="-21.0" y1="-60.4" x2="-22.9" y2="-62.5" stroke-width="0.75"/><line x1="-21.0" y1="-60.4" x2="-23.7" y2="-60.8" stroke-width="0.45"/><line x1="-23.7" y1="-60.8" x2="-25.4" y2="-60.2" stroke-width="0.38"/><line x1="-23.7" y1="-60.8" x2="-24.7" y2="-61.4" stroke-width="0.38"/><line x1="-22.9" y1="-62.5" x2="-24.3" y2="-63.2" stroke-width="0.56"/><line x1="-24.3" y1="-63.2" x2="-25.7" y2="-63.9" stroke-width="0.51"/><line x1="-25.7" y1="-63.9" x2="-32.0" y2="-64.5" stroke-width="0.38"/><line x1="-32.0" y1="-64.5" x2="-33.7" y2="-63.8" stroke-width="0.38"/><line x1="-32.0" y1="-64.5" x2="-33.9" y2="-65.5" stroke-width="0.38"/><line x1="-25.7" y1="-63.9" x2="-30.0" y2="-69.4" stroke-width="0.38"/><line x1="-30.0" y1="-69.4" x2="-31.5" y2="-69.9" stroke-width="0.38"/><line x1="-30.0" y1="-69.4" x2="-30.3" y2="-70.6" stroke-width="0.38"/><line x1="-22.9" y1="-62.5" x2="-23.5" y2="-63.9" stroke-width="0.56"/><line x1="-23.5" y1="-63.9" x2="-24.2" y2="-65.3" stroke-width="0.51"/><line x1="-23.5" y1="-63.9" x2="-26.8" y2="-65.4" stroke-width="0.45"/><line x1="-26.8" y1="-65.4" x2="-28.5" y2="-65.3" stroke-width="0.38"/><line x1="-26.8" y1="-65.4" x2="-27.7" y2="-66.9" stroke-width="0.38"/><line x1="-24.2" y1="-65.3" x2="-28.0" y2="-69.1" stroke-width="0.38"/><line x1="-28.0" y1="-69.1" x2="-29.8" y2="-69.8" stroke-width="0.38"/><line x1="-28.0" y1="-69.1" x2="-28.4" y2="-70.9" stroke-width="0.38"/><line x1="-24.2" y1="-65.3" x2="-25.1" y2="-71.6" stroke-width="0.38"/><line x1="-25.1" y1="-71.6" x2="-26.3" y2="-73.4" stroke-width="0.38"/><line x1="-25.1" y1="-71.6" x2="-24.6" y2="-73.1" stroke-width="0.38"/><line x1="-12.9" y1="-55.6" x2="-15.1" y2="-59.0" stroke-width="1.20"/><line x1="-15.1" y1="-59.0" x2="-17.1" y2="-62.6" stroke-width="1.11"/><line x1="-15.1" y1="-59.0" x2="-19.0" y2="-59.9" stroke-width="0.45"/><line x1="-19.0" y1="-59.9" x2="-20.8" y2="-59.4" stroke-width="0.38"/><line x1="-19.0" y1="-59.9" x2="-20.4" y2="-61.2" stroke-width="0.38"/><line x1="-17.1" y1="-62.6" x2="-18.9" y2="-64.3" stroke-width="0.82"/><line x1="-18.9" y1="-64.3" x2="-21.0" y2="-65.8" stroke-width="0.75"/><line x1="-21.0" y1="-65.8" x2="-22.9" y2="-66.3" stroke-width="0.56"/><line x1="-22.9" y1="-66.3" x2="-24.9" y2="-66.7" stroke-width="0.51"/><line x1="-22.9" y1="-66.3" x2="-25.4" y2="-71.4" stroke-width="0.45"/><line x1="-25.4" y1="-71.4" x2="-26.5" y2="-72.2" stroke-width="0.38"/><line x1="-25.4" y1="-71.4" x2="-25.4" y2="-73.0" stroke-width="0.38"/><line x1="-24.9" y1="-66.7" x2="-30.5" y2="-65.5" stroke-width="0.38"/><line x1="-30.5" y1="-65.5" x2="-32.0" y2="-64.3" stroke-width="0.38"/><line x1="-30.5" y1="-65.5" x2="-32.4" y2="-66.3" stroke-width="0.38"/><line x1="-24.9" y1="-66.7" x2="-28.6" y2="-69.0" stroke-width="0.38"/><line x1="-28.6" y1="-69.0" x2="-30.1" y2="-69.1" stroke-width="0.38"/><line x1="-28.6" y1="-69.0" x2="-29.4" y2="-70.8" stroke-width="0.38"/><line x1="-21.0" y1="-65.8" x2="-22.1" y2="-67.3" stroke-width="0.56"/><line x1="-22.1" y1="-67.3" x2="-23.3" y2="-68.7" stroke-width="0.51"/><line x1="-22.1" y1="-67.3" x2="-22.2" y2="-70.6" stroke-width="0.45"/><line x1="-22.2" y1="-70.6" x2="-23.4" y2="-72.3" stroke-width="0.38"/><line x1="-22.2" y1="-70.6" x2="-21.4" y2="-72.3" stroke-width="0.38"/><line x1="-23.3" y1="-68.7" x2="-27.1" y2="-70.3" stroke-width="0.38"/><line x1="-27.1" y1="-70.3" x2="-29.2" y2="-70.1" stroke-width="0.38"/><line x1="-27.1" y1="-70.3" x2="-28.2" y2="-71.9" stroke-width="0.38"/><line x1="-23.3" y1="-68.7" x2="-25.0" y2="-72.7" stroke-width="0.38"/><line x1="-25.0" y1="-72.7" x2="-26.2" y2="-73.6" stroke-width="0.38"/><line x1="-25.0" y1="-72.7" x2="-24.6" y2="-74.8" stroke-width="0.38"/><line x1="-17.1" y1="-62.6" x2="-17.5" y2="-65.1" stroke-width="0.82"/><line x1="-17.5" y1="-65.1" x2="-17.5" y2="-67.6" stroke-width="0.75"/><line x1="-17.5" y1="-65.1" x2="-19.7" y2="-66.1" stroke-width="0.45"/><line x1="-19.7" y1="-66.1" x2="-21.5" y2="-66.1" stroke-width="0.38"/><line x1="-19.7" y1="-66.1" x2="-20.7" y2="-67.6" stroke-width="0.38"/><line x1="-17.5" y1="-67.6" x2="-18.3" y2="-69.5" stroke-width="0.56"/><line x1="-18.3" y1="-69.5" x2="-19.3" y2="-71.3" stroke-width="0.51"/><line x1="-18.3" y1="-69.5" x2="-24.5" y2="-72.7" stroke-width="0.45"/><line x1="-24.5" y1="-72.7" x2="-26.7" y2="-72.7" stroke-width="0.38"/><line x1="-24.5" y1="-72.7" x2="-25.7" y2="-74.4" stroke-width="0.38"/><line x1="-19.3" y1="-71.3" x2="-23.0" y2="-74.2" stroke-width="0.38"/><line x1="-23.0" y1="-74.2" x2="-24.4" y2="-74.6" stroke-width="0.38"/><line x1="-23.0" y1="-74.2" x2="-23.8" y2="-75.8" stroke-width="0.38"/><line x1="-19.3" y1="-71.3" x2="-20.2" y2="-76.9" stroke-width="0.38"/><line x1="-20.2" y1="-76.9" x2="-21.3" y2="-78.7" stroke-width="0.38"/><line x1="-20.2" y1="-76.9" x2="-19.7" y2="-78.5" stroke-width="0.38"/><line x1="-17.5" y1="-67.6" x2="-16.6" y2="-70.2" stroke-width="0.56"/><line x1="-16.6" y1="-70.2" x2="-15.6" y2="-72.9" stroke-width="0.51"/><line x1="-15.6" y1="-72.9" x2="-15.9" y2="-79.3" stroke-width="0.38"/><line x1="-15.9" y1="-79.3" x2="-16.4" y2="-80.4" stroke-width="0.38"/><line x1="-15.9" y1="-79.3" x2="-15.3" y2="-80.6" stroke-width="0.38"/><line x1="-15.6" y1="-72.9" x2="-9.5" y2="-81.8" stroke-width="0.38"/><line x1="-9.5" y1="-81.8" x2="-9.2" y2="-83.4" stroke-width="0.38"/><line x1="-9.5" y1="-81.8" x2="-7.9" y2="-82.5" stroke-width="0.38"/><line x1="-5.1" y1="-48.2" x2="-5.7" y2="-53.7" stroke-width="1.77"/><line x1="-5.7" y1="-53.7" x2="-6.1" y2="-59.2" stroke-width="1.63"/><line x1="-6.1" y1="-59.2" x2="-7.5" y2="-62.8" stroke-width="1.20"/><line x1="-7.5" y1="-62.8" x2="-9.1" y2="-66.2" stroke-width="1.11"/><line x1="-7.5" y1="-62.8" x2="-12.6" y2="-64.2" stroke-width="0.45"/><line x1="-12.6" y1="-64.2" x2="-14.2" y2="-63.7" stroke-width="0.38"/><line x1="-12.6" y1="-64.2" x2="-13.8" y2="-65.4" stroke-width="0.38"/><line x1="-9.1" y1="-66.2" x2="-11.2" y2="-68.2" stroke-width="0.82"/><line x1="-11.2" y1="-68.2" x2="-13.3" y2="-70.2" stroke-width="0.75"/><line x1="-11.2" y1="-68.2" x2="-11.1" y2="-71.5" stroke-width="0.45"/><line x1="-11.1" y1="-71.5" x2="-12.2" y2="-73.3" stroke-width="0.38"/><line x1="-11.1" y1="-71.5" x2="-9.9" y2="-73.2" stroke-width="0.38"/><line x1="-13.3" y1="-70.2" x2="-15.1" y2="-71.0" stroke-width="0.56"/><line x1="-15.1" y1="-71.0" x2="-17.0" y2="-71.8" stroke-width="0.51"/><line x1="-15.1" y1="-71.0" x2="-16.3" y2="-73.1" stroke-width="0.45"/><line x1="-16.3" y1="-73.1" x2="-18.0" y2="-74.1" stroke-width="0.38"/><line x1="-16.3" y1="-73.1" x2="-16.2" y2="-74.4" stroke-width="0.38"/><line x1="-17.0" y1="-71.8" x2="-27.1" y2="-71.9" stroke-width="0.38"/><line x1="-27.1" y1="-71.9" x2="-29.0" y2="-71.2" stroke-width="0.38"/><line x1="-27.1" y1="-71.9" x2="-28.3" y2="-72.7" stroke-width="0.38"/><line x1="-17.0" y1="-71.8" x2="-20.9" y2="-76.3" stroke-width="0.38"/><line x1="-20.9" y1="-76.3" x2="-22.9" y2="-77.1" stroke-width="0.38"/><line x1="-20.9" y1="-76.3" x2="-21.1" y2="-77.7" stroke-width="0.38"/><line x1="-13.3" y1="-70.2" x2="-14.1" y2="-71.7" stroke-width="0.56"/><line x1="-14.1" y1="-71.7" x2="-15.0" y2="-73.2" stroke-width="0.51"/><line x1="-14.1" y1="-71.7" x2="-13.7" y2="-75.1" stroke-width="0.45"/><line x1="-13.7" y1="-75.1" x2="-14.3" y2="-76.9" stroke-width="0.38"/><line x1="-13.7" y1="-75.1" x2="-12.7" y2="-76.5" stroke-width="0.38"/><line x1="-15.0" y1="-73.2" x2="-20.7" y2="-78.3" stroke-width="0.38"/><line x1="-20.7" y1="-78.3" x2="-22.7" y2="-79.0" stroke-width="0.38"/><line x1="-20.7" y1="-78.3" x2="-21.6" y2="-80.2" stroke-width="0.38"/><line x1="-15.0" y1="-73.2" x2="-16.2" y2="-78.3" stroke-width="0.38"/><line x1="-16.2" y1="-78.3" x2="-17.2" y2="-79.3" stroke-width="0.38"/><line x1="-16.2" y1="-78.3" x2="-15.6" y2="-80.3" stroke-width="0.38"/><line x1="-9.1" y1="-66.2" x2="-9.1" y2="-69.0" stroke-width="0.82"/><line x1="-9.1" y1="-69.0" x2="-8.8" y2="-71.8" stroke-width="0.75"/><line x1="-9.1" y1="-69.0" x2="-7.5" y2="-69.9" stroke-width="0.45"/><line x1="-7.5" y1="-69.9" x2="-6.7" y2="-71.3" stroke-width="0.38"/><line x1="-7.5" y1="-69.9" x2="-5.4" y2="-70.2" stroke-width="0.38"/><line x1="-8.8" y1="-71.8" x2="-9.4" y2="-73.6" stroke-width="0.56"/><line x1="-9.4" y1="-73.6" x2="-10.1" y2="-75.4" stroke-width="0.51"/><line x1="-10.1" y1="-75.4" x2="-14.5" y2="-80.8" stroke-width="0.38"/><line x1="-14.5" y1="-80.8" x2="-15.9" y2="-81.4" stroke-width="0.38"/><line x1="-14.5" y1="-80.8" x2="-14.9" y2="-82.9" stroke-width="0.38"/><line x1="-10.1" y1="-75.4" x2="-10.5" y2="-80.0" stroke-width="0.38"/><line x1="-10.5" y1="-80.0" x2="-11.2" y2="-81.2" stroke-width="0.38"/><line x1="-10.5" y1="-80.0" x2="-10.1" y2="-81.3" stroke-width="0.38"/><line x1="-8.8" y1="-71.8" x2="-8.1" y2="-73.4" stroke-width="0.56"/><line x1="-8.1" y1="-73.4" x2="-7.5" y2="-75.1" stroke-width="0.51"/><line x1="-8.1" y1="-73.4" x2="-9.5" y2="-76.6" stroke-width="0.45"/><line x1="-9.5" y1="-76.6" x2="-10.4" y2="-77.4" stroke-width="0.38"/><line x1="-9.5" y1="-76.6" x2="-9.5" y2="-77.8" stroke-width="0.38"/><line x1="-7.5" y1="-75.1" x2="-8.0" y2="-81.5" stroke-width="0.38"/><line x1="-8.0" y1="-81.5" x2="-8.7" y2="-83.0" stroke-width="0.38"/><line x1="-8.0" y1="-81.5" x2="-7.3" y2="-82.7" stroke-width="0.38"/><line x1="-7.5" y1="-75.1" x2="-1.3" y2="-81.7" stroke-width="0.38"/><line x1="-1.3" y1="-81.7" x2="-0.7" y2="-83.7" stroke-width="0.38"/><line x1="-1.3" y1="-81.7" x2="0.3" y2="-82.3" stroke-width="0.38"/><line x1="-6.1" y1="-59.2" x2="-4.5" y2="-63.9" stroke-width="1.20"/><line x1="-4.5" y1="-63.9" x2="-3.2" y2="-68.6" stroke-width="1.11"/><line x1="-3.2" y1="-68.6" x2="-3.5" y2="-71.1" stroke-width="0.82"/><line x1="-3.5" y1="-71.1" x2="-3.9" y2="-73.6" stroke-width="0.75"/><line x1="-3.5" y1="-71.1" x2="-5.8" y2="-72.0" stroke-width="0.45"/><line x1="-5.8" y1="-72.0" x2="-7.4" y2="-71.8" stroke-width="0.38"/><line x1="-5.8" y1="-72.0" x2="-7.1" y2="-73.3" stroke-width="0.38"/><line x1="-3.9" y1="-73.6" x2="-4.7" y2="-75.0" stroke-width="0.56"/><line x1="-4.7" y1="-75.0" x2="-5.3" y2="-76.6" stroke-width="0.51"/><line x1="-4.7" y1="-75.0" x2="-4.0" y2="-77.5" stroke-width="0.45"/><line x1="-4.0" y1="-77.5" x2="-4.2" y2="-79.1" stroke-width="0.38"/><line x1="-4.0" y1="-77.5" x2="-2.6" y2="-79.2" stroke-width="0.38"/><line x1="-5.3" y1="-76.6" x2="-8.2" y2="-80.1" stroke-width="0.38"/><line x1="-8.2" y1="-80.1" x2="-9.6" y2="-80.6" stroke-width="0.38"/><line x1="-8.2" y1="-80.1" x2="-8.6" y2="-81.6" stroke-width="0.38"/><line x1="-5.3" y1="-76.6" x2="-5.6" y2="-81.5" stroke-width="0.38"/><line x1="-5.6" y1="-81.5" x2="-6.4" y2="-82.7" stroke-width="0.38"/><line x1="-5.6" y1="-81.5" x2="-5.0" y2="-82.6" stroke-width="0.38"/><line x1="-3.9" y1="-73.6" x2="-3.6" y2="-74.9" stroke-width="0.56"/><line x1="-3.6" y1="-74.9" x2="-3.2" y2="-76.3" stroke-width="0.51"/><line x1="-3.6" y1="-74.9" x2="-0.7" y2="-76.6" stroke-width="0.45"/><line x1="-0.7" y1="-76.6" x2="0.4" y2="-78.3" stroke-width="0.38"/><line x1="-0.7" y1="-76.6" x2="1.3" y2="-76.7" stroke-width="0.38"/><line x1="-3.2" y1="-76.3" x2="-3.9" y2="-81.8" stroke-width="0.38"/><line x1="-3.9" y1="-81.8" x2="-5.1" y2="-83.7" stroke-width="0.38"/><line x1="-3.9" y1="-81.8" x2="-3.5" y2="-83.7" stroke-width="0.38"/><line x1="-3.2" y1="-76.3" x2="0.5" y2="-80.9" stroke-width="0.38"/><line x1="0.5" y1="-80.9" x2="0.8" y2="-82.9" stroke-width="0.38"/><line x1="0.5" y1="-80.9" x2="2.3" y2="-81.6" stroke-width="0.38"/><line x1="-3.2" y1="-68.6" x2="-1.6" y2="-70.6" stroke-width="0.82"/><line x1="-1.6" y1="-70.6" x2="-0.1" y2="-72.5" stroke-width="0.75"/><line x1="-1.6" y1="-70.6" x2="-3.5" y2="-76.1" stroke-width="0.45"/><line x1="-3.5" y1="-76.1" x2="-4.9" y2="-77.4" stroke-width="0.38"/><line x1="-3.5" y1="-76.1" x2="-3.4" y2="-77.4" stroke-width="0.38"/><line x1="-0.1" y1="-72.5" x2="0.6" y2="-74.1" stroke-width="0.56"/><line x1="0.6" y1="-74.1" x2="1.1" y2="-75.8" stroke-width="0.51"/><line x1="1.1" y1="-75.8" x2="0.5" y2="-82.4" stroke-width="0.38"/><line x1="0.5" y1="-82.4" x2="-0.6" y2="-84.0" stroke-width="0.38"/><line x1="0.5" y1="-82.4" x2="1.0" y2="-83.6" stroke-width="0.38"/><line x1="1.1" y1="-75.8" x2="6.5" y2="-82.2" stroke-width="0.38"/><line x1="6.5" y1="-82.2" x2="6.8" y2="-83.9" stroke-width="0.38"/><line x1="6.5" y1="-82.2" x2="7.6" y2="-82.7" stroke-width="0.38"/><line x1="-0.1" y1="-72.5" x2="2.3" y2="-73.6" stroke-width="0.56"/><line x1="2.3" y1="-73.6" x2="4.4" y2="-75.1" stroke-width="0.51"/><line x1="2.3" y1="-73.6" x2="3.5" y2="-78.4" stroke-width="0.45"/><line x1="3.5" y1="-78.4" x2="3.1" y2="-79.6" stroke-width="0.38"/><line x1="3.5" y1="-78.4" x2="4.6" y2="-79.4" stroke-width="0.38"/><line x1="4.4" y1="-75.1" x2="9.7" y2="-81.5" stroke-width="0.38"/><line x1="9.7" y1="-81.5" x2="10.3" y2="-83.3" stroke-width="0.38"/><line x1="9.7" y1="-81.5" x2="11.4" y2="-82.4" stroke-width="0.38"/><line x1="4.4" y1="-75.1" x2="18.3" y2="-77.9" stroke-width="0.38"/><line x1="18.3" y1="-77.9" x2="19.7" y2="-78.9" stroke-width="0.38"/><line x1="18.3" y1="-77.9" x2="20.4" y2="-77.4" stroke-width="0.38"/><line x1="0.0" y1="-35.0" x2="1.9" y2="-41.2" stroke-width="2.60"/><line x1="1.9" y1="-41.2" x2="3.3" y2="-47.4" stroke-width="2.39"/><line x1="1.9" y1="-41.2" x2="4.7" y2="-42.8" stroke-width="0.45"/><line x1="4.7" y1="-42.8" x2="5.3" y2="-44.0" stroke-width="0.38"/><line x1="4.7" y1="-42.8" x2="6.8" y2="-42.6" stroke-width="0.38"/><line x1="3.3" y1="-47.4" x2="2.9" y2="-53.1" stroke-width="1.77"/><line x1="2.9" y1="-53.1" x2="3.1" y2="-58.7" stroke-width="1.63"/><line x1="3.1" y1="-58.7" x2="1.9" y2="-62.3" stroke-width="1.20"/><line x1="1.9" y1="-62.3" x2="0.5" y2="-65.7" stroke-width="1.11"/><line x1="0.5" y1="-65.7" x2="-1.8" y2="-68.2" stroke-width="0.82"/><line x1="-1.8" y1="-68.2" x2="-4.3" y2="-70.5" stroke-width="0.75"/><line x1="-1.8" y1="-68.2" x2="-2.7" y2="-73.9" stroke-width="0.45"/><line x1="-2.7" y1="-73.9" x2="-4.0" y2="-75.3" stroke-width="0.38"/><line x1="-2.7" y1="-73.9" x2="-2.2" y2="-76.0" stroke-width="0.38"/><line x1="-4.3" y1="-70.5" x2="-6.5" y2="-71.4" stroke-width="0.56"/><line x1="-6.5" y1="-71.4" x2="-8.9" y2="-72.0" stroke-width="0.51"/><line x1="-6.5" y1="-71.4" x2="-9.1" y2="-75.8" stroke-width="0.45"/><line x1="-9.1" y1="-75.8" x2="-10.2" y2="-76.5" stroke-width="0.38"/><line x1="-9.1" y1="-75.8" x2="-9.2" y2="-77.3" stroke-width="0.38"/><line x1="-8.9" y1="-72.0" x2="-25.2" y2="-70.4" stroke-width="0.38"/><line x1="-25.2" y1="-70.4" x2="-26.3" y2="-69.5" stroke-width="0.38"/><line x1="-25.2" y1="-70.4" x2="-27.1" y2="-70.9" stroke-width="0.38"/><line x1="-8.9" y1="-72.0" x2="-15.8" y2="-76.3" stroke-width="0.38"/><line x1="-15.8" y1="-76.3" x2="-17.8" y2="-76.5" stroke-width="0.38"/><line x1="-15.8" y1="-76.3" x2="-17.0" y2="-78.0" stroke-width="0.38"/><line x1="-4.3" y1="-70.5" x2="-5.3" y2="-72.8" stroke-width="0.56"/><line x1="-5.3" y1="-72.8" x2="-6.4" y2="-74.9" stroke-width="0.51"/><line x1="-5.3" y1="-72.8" x2="-3.8" y2="-76.1" stroke-width="0.45"/><line x1="-3.8" y1="-76.1" x2="-3.8" y2="-77.6" stroke-width="0.38"/><line x1="-3.8" y1="-76.1" x2="-2.1" y2="-77.2" stroke-width="0.38"/><line x1="-6.4" y1="-74.9" x2="-10.9" y2="-79.0" stroke-width="0.38"/><line x1="-10.9" y1="-79.0" x2="-12.5" y2="-79.3" stroke-width="0.38"/><line x1="-10.9" y1="-79.0" x2="-11.4" y2="-80.7" stroke-width="0.38"/><line x1="-6.4" y1="-74.9" x2="-7.4" y2="-80.2" stroke-width="0.38"/><line x1="-7.4" y1="-80.2" x2="-8.5" y2="-81.4" stroke-width="0.38"/><line x1="-7.4" y1="-80.2" x2="-6.9" y2="-81.5" stroke-width="0.38"/><line x1="0.5" y1="-65.7" x2="0.5" y2="-68.5" stroke-width="0.82"/><line x1="0.5" y1="-68.5" x2="0.9" y2="-71.3" stroke-width="0.75"/><line x1="0.5" y1="-68.5" x2="-1.5" y2="-70.9" stroke-width="0.45"/><line x1="-1.5" y1="-70.9" x2="-3.6" y2="-71.7" stroke-width="0.38"/><line x1="-1.5" y1="-70.9" x2="-2.0" y2="-72.7" stroke-width="0.38"/><line x1="0.9" y1="-71.3" x2="0.6" y2="-73.3" stroke-width="0.56"/><line x1="0.6" y1="-73.3" x2="0.1" y2="-75.4" stroke-width="0.51"/><line x1="0.6" y1="-73.3" x2="-3.4" y2="-76.7" stroke-width="0.45"/><line x1="-3.4" y1="-76.7" x2="-5.0" y2="-77.1" stroke-width="0.38"/><line x1="-3.4" y1="-76.7" x2="-4.2" y2="-78.5" stroke-width="0.38"/><line x1="0.1" y1="-75.4" x2="-4.0" y2="-81.8" stroke-width="0.38"/><line x1="-4.0" y1="-81.8" x2="-5.1" y2="-82.6" stroke-width="0.38"/><line x1="-4.0" y1="-81.8" x2="-4.1" y2="-83.3" stroke-width="0.38"/><line x1="0.1" y1="-75.4" x2="1.0" y2="-83.0" stroke-width="0.38"/><line x1="1.0" y1="-83.0" x2="0.7" y2="-84.1" stroke-width="0.38"/><line x1="1.0" y1="-83.0" x2="2.1" y2="-84.2" stroke-width="0.38"/><line x1="0.9" y1="-71.3" x2="1.9" y2="-72.9" stroke-width="0.56"/><line x1="1.9" y1="-72.9" x2="2.8" y2="-74.6" stroke-width="0.51"/><line x1="2.8" y1="-74.6" x2="3.7" y2="-81.9" stroke-width="0.38"/><line x1="3.7" y1="-81.9" x2="3.1" y2="-83.7" stroke-width="0.38"/><line x1="3.7" y1="-81.9" x2="4.8" y2="-83.5" stroke-width="0.38"/><line x1="2.8" y1="-74.6" x2="8.8" y2="-79.3" stroke-width="0.38"/><line x1="8.8" y1="-79.3" x2="9.3" y2="-80.8" stroke-width="0.38"/><line x1="8.8" y1="-79.3" x2="10.4" y2="-79.6" stroke-width="0.38"/><line x1="3.1" y1="-58.7" x2="4.7" y2="-62.9" stroke-width="1.20"/><line x1="4.7" y1="-62.9" x2="6.8" y2="-66.8" stroke-width="1.11"/><line x1="4.7" y1="-62.9" x2="10.6" y2="-63.6" stroke-width="0.45"/><line x1="10.6" y1="-63.6" x2="11.6" y2="-64.3" stroke-width="0.38"/><line x1="10.6" y1="-63.6" x2="12.6" y2="-62.9" stroke-width="0.38"/><line x1="6.8" y1="-66.8" x2="7.1" y2="-69.8" stroke-width="0.82"/><line x1="7.1" y1="-69.8" x2="7.8" y2="-72.7" stroke-width="0.75"/><line x1="7.1" y1="-69.8" x2="5.4" y2="-73.0" stroke-width="0.45"/><line x1="5.4" y1="-73.0" x2="3.8" y2="-74.3" stroke-width="0.38"/><line x1="5.4" y1="-73.0" x2="5.5" y2="-75.0" stroke-width="0.38"/><line x1="7.8" y1="-72.7" x2="7.5" y2="-74.1" stroke-width="0.56"/><line x1="7.5" y1="-74.1" x2="7.3" y2="-75.5" stroke-width="0.51"/><line x1="7.5" y1="-74.1" x2="2.4" y2="-78.6" stroke-width="0.45"/><line x1="2.4" y1="-78.6" x2="1.2" y2="-79.0" stroke-width="0.38"/><line x1="2.4" y1="-78.6" x2="1.7" y2="-80.2" stroke-width="0.38"/><line x1="7.3" y1="-75.5" x2="4.3" y2="-80.8" stroke-width="0.38"/><line x1="4.3" y1="-80.8" x2="2.9" y2="-81.9" stroke-width="0.38"/><line x1="4.3" y1="-80.8" x2="4.2" y2="-82.4" stroke-width="0.38"/><line x1="7.3" y1="-75.5" x2="8.5" y2="-81.6" stroke-width="0.38"/><line x1="8.5" y1="-81.6" x2="8.2" y2="-83.0" stroke-width="0.38"/><line x1="8.5" y1="-81.6" x2="9.8" y2="-83.3" stroke-width="0.38"/><line x1="7.8" y1="-72.7" x2="8.9" y2="-74.3" stroke-width="0.56"/><line x1="8.9" y1="-74.3" x2="10.1" y2="-76.0" stroke-width="0.51"/><line x1="8.9" y1="-74.3" x2="8.9" y2="-78.6" stroke-width="0.45"/><line x1="8.9" y1="-78.6" x2="8.4" y2="-79.9" stroke-width="0.38"/><line x1="8.9" y1="-78.6" x2="9.9" y2="-80.2" stroke-width="0.38"/><line x1="10.1" y1="-76.0" x2="11.4" y2="-80.2" stroke-width="0.38"/><line x1="11.4" y1="-80.2" x2="11.2" y2="-81.7" stroke-width="0.38"/><line x1="11.4" y1="-80.2" x2="12.8" y2="-81.5" stroke-width="0.38"/><line x1="10.1" y1="-76.0" x2="15.3" y2="-79.3" stroke-width="0.38"/><line x1="15.3" y1="-79.3" x2="16.0" y2="-80.3" stroke-width="0.38"/><line x1="15.3" y1="-79.3" x2="17.3" y2="-79.6" stroke-width="0.38"/><line x1="6.8" y1="-66.8" x2="8.8" y2="-68.8" stroke-width="0.82"/><line x1="8.8" y1="-68.8" x2="10.7" y2="-70.9" stroke-width="0.75"/><line x1="10.7" y1="-70.9" x2="11.4" y2="-72.6" stroke-width="0.56"/><line x1="11.4" y1="-72.6" x2="11.9" y2="-74.3" stroke-width="0.51"/><line x1="11.9" y1="-74.3" x2="12.1" y2="-80.9" stroke-width="0.38"/><line x1="12.1" y1="-80.9" x2="11.1" y2="-82.8" stroke-width="0.38"/><line x1="12.1" y1="-80.9" x2="13.1" y2="-82.8" stroke-width="0.38"/><line x1="11.9" y1="-74.3" x2="15.6" y2="-79.7" stroke-width="0.38"/><line x1="15.6" y1="-79.7" x2="15.7" y2="-80.9" stroke-width="0.38"/><line x1="15.6" y1="-79.7" x2="17.1" y2="-80.7" stroke-width="0.38"/><line x1="10.7" y1="-70.9" x2="12.7" y2="-72.1" stroke-width="0.56"/><line x1="12.7" y1="-72.1" x2="14.6" y2="-73.4" stroke-width="0.51"/><line x1="12.7" y1="-72.1" x2="20.4" y2="-69.3" stroke-width="0.45"/><line x1="20.4" y1="-69.3" x2="21.8" y2="-69.4" stroke-width="0.38"/><line x1="20.4" y1="-69.3" x2="21.6" y2="-67.7" stroke-width="0.38"/><line x1="14.6" y1="-73.4" x2="18.8" y2="-78.7" stroke-width="0.38"/><line x1="18.8" y1="-78.7" x2="19.1" y2="-80.3" stroke-width="0.38"/><line x1="18.8" y1="-78.7" x2="20.0" y2="-79.3" stroke-width="0.38"/><line x1="14.6" y1="-73.4" x2="21.2" y2="-75.8" stroke-width="0.38"/><line x1="21.2" y1="-75.8" x2="22.7" y2="-77.3" stroke-width="0.38"/><line x1="21.2" y1="-75.8" x2="23.3" y2="-75.7" stroke-width="0.38"/><line x1="3.3" y1="-47.4" x2="6.0" y2="-52.1" stroke-width="1.77"/><line x1="6.0" y1="-52.1" x2="9.1" y2="-56.4" stroke-width="1.63"/><line x1="9.1" y1="-56.4" x2="10.0" y2="-59.5" stroke-width="1.20"/><line x1="10.0" y1="-59.5" x2="10.8" y2="-62.7" stroke-width="1.11"/><line x1="10.0" y1="-59.5" x2="13.8" y2="-62.2" stroke-width="0.45"/><line x1="13.8" y1="-62.2" x2="14.7" y2="-63.6" stroke-width="0.38"/><line x1="13.8" y1="-62.2" x2="15.8" y2="-62.3" stroke-width="0.38"/><line x1="10.8" y1="-62.7" x2="10.8" y2="-65.2" stroke-width="0.82"/><line x1="10.8" y1="-65.2" x2="10.4" y2="-67.8" stroke-width="0.75"/><line x1="10.4" y1="-67.8" x2="9.0" y2="-70.5" stroke-width="0.56"/><line x1="9.0" y1="-70.5" x2="7.9" y2="-73.5" stroke-width="0.51"/><line x1="9.0" y1="-70.5" x2="10.8" y2="-74.7" stroke-width="0.45"/><line x1="10.8" y1="-74.7" x2="10.6" y2="-76.6" stroke-width="0.38"/><line x1="10.8" y1="-74.7" x2="12.1" y2="-75.5" stroke-width="0.38"/><line x1="7.9" y1="-73.5" x2="0.1" y2="-81.9" stroke-width="0.38"/><line x1="0.1" y1="-81.9" x2="-2.0" y2="-82.4" stroke-width="0.38"/><line x1="0.1" y1="-81.9" x2="-0.7" y2="-83.8" stroke-width="0.38"/><line x1="7.9" y1="-73.5" x2="7.4" y2="-82.1" stroke-width="0.38"/><line x1="7.4" y1="-82.1" x2="6.4" y2="-83.8" stroke-width="0.38"/><line x1="7.4" y1="-82.1" x2="8.4" y2="-84.0" stroke-width="0.38"/><line x1="10.4" y1="-67.8" x2="10.9" y2="-69.6" stroke-width="0.56"/><line x1="10.9" y1="-69.6" x2="11.4" y2="-71.5" stroke-width="0.51"/><line x1="10.9" y1="-69.6" x2="16.6" y2="-71.3" stroke-width="0.45"/><line x1="16.6" y1="-71.3" x2="17.7" y2="-72.3" stroke-width="0.38"/><line x1="16.6" y1="-71.3" x2="18.5" y2="-71.0" stroke-width="0.38"/><line x1="11.4" y1="-71.5" x2="11.3" y2="-78.9" stroke-width="0.38"/><line x1="11.3" y1="-78.9" x2="10.5" y2="-80.1" stroke-width="0.38"/><line x1="11.3" y1="-78.9" x2="11.7" y2="-80.1" stroke-width="0.38"/><line x1="11.4" y1="-71.5" x2="16.1" y2="-77.9" stroke-width="0.38"/><line x1="16.1" y1="-77.9" x2="16.2" y2="-79.9" stroke-width="0.38"/><line x1="16.1" y1="-77.9" x2="17.5" y2="-78.3" stroke-width="0.38"/><line x1="10.8" y1="-62.7" x2="12.1" y2="-64.8" stroke-width="0.82"/><line x1="12.1" y1="-64.8" x2="13.4" y2="-66.9" stroke-width="0.75"/><line x1="12.1" y1="-64.8" x2="14.7" y2="-65.7" stroke-width="0.45"/><line x1="14.7" y1="-65.7" x2="15.5" y2="-66.8" stroke-width="0.38"/><line x1="14.7" y1="-65.7" x2="16.6" y2="-65.4" stroke-width="0.38"/><line x1="13.4" y1="-66.9" x2="13.8" y2="-69.5" stroke-width="0.56"/><line x1="13.8" y1="-69.5" x2="14.0" y2="-72.0" stroke-width="0.51"/><line x1="13.8" y1="-69.5" x2="17.2" y2="-72.3" stroke-width="0.45"/><line x1="17.2" y1="-72.3" x2="17.8" y2="-73.6" stroke-width="0.38"/><line x1="17.2" y1="-72.3" x2="19.1" y2="-72.9" stroke-width="0.38"/><line x1="14.0" y1="-72.0" x2="11.7" y2="-79.6" stroke-width="0.38"/><line x1="11.7" y1="-79.6" x2="10.3" y2="-81.2" stroke-width="0.38"/><line x1="11.7" y1="-79.6" x2="12.0" y2="-81.0" stroke-width="0.38"/><line x1="14.0" y1="-72.0" x2="17.7" y2="-78.6" stroke-width="0.38"/><line x1="17.7" y1="-78.6" x2="17.5" y2="-79.9" stroke-width="0.38"/><line x1="17.7" y1="-78.6" x2="19.3" y2="-79.8" stroke-width="0.38"/><line x1="13.4" y1="-66.9" x2="15.7" y2="-68.5" stroke-width="0.56"/><line x1="15.7" y1="-68.5" x2="17.8" y2="-70.3" stroke-width="0.51"/><line x1="15.7" y1="-68.5" x2="16.9" y2="-74.1" stroke-width="0.45"/><line x1="16.9" y1="-74.1" x2="16.7" y2="-75.4" stroke-width="0.38"/><line x1="16.9" y1="-74.1" x2="17.8" y2="-75.2" stroke-width="0.38"/><line x1="17.8" y1="-70.3" x2="21.3" y2="-77.5" stroke-width="0.38"/><line x1="21.3" y1="-77.5" x2="21.2" y2="-78.7" stroke-width="0.38"/><line x1="21.3" y1="-77.5" x2="22.9" y2="-78.6" stroke-width="0.38"/><line x1="17.8" y1="-70.3" x2="23.7" y2="-72.8" stroke-width="0.38"/><line x1="23.7" y1="-72.8" x2="24.6" y2="-73.7" stroke-width="0.38"/><line x1="23.7" y1="-72.8" x2="24.9" y2="-72.6" stroke-width="0.38"/><line x1="9.1" y1="-56.4" x2="13.2" y2="-58.9" stroke-width="1.20"/><line x1="13.2" y1="-58.9" x2="17.5" y2="-61.0" stroke-width="1.11"/><line x1="17.5" y1="-61.0" x2="19.2" y2="-62.7" stroke-width="0.82"/><line x1="19.2" y1="-62.7" x2="21.0" y2="-64.4" stroke-width="0.75"/><line x1="19.2" y1="-62.7" x2="18.6" y2="-66.0" stroke-width="0.45"/><line x1="18.6" y1="-66.0" x2="17.7" y2="-67.3" stroke-width="0.38"/><line x1="18.6" y1="-66.0" x2="19.1" y2="-67.7" stroke-width="0.38"/><line x1="21.0" y1="-64.4" x2="21.8" y2="-65.8" stroke-width="0.56"/><line x1="21.8" y1="-65.8" x2="22.7" y2="-67.2" stroke-width="0.51"/><line x1="21.8" y1="-65.8" x2="24.7" y2="-66.0" stroke-width="0.45"/><line x1="24.7" y1="-66.0" x2="26.4" y2="-67.2" stroke-width="0.38"/><line x1="24.7" y1="-66.0" x2="25.8" y2="-65.5" stroke-width="0.38"/><line x1="22.7" y1="-67.2" x2="24.1" y2="-75.6" stroke-width="0.38"/><line x1="24.1" y1="-75.6" x2="23.6" y2="-77.1" stroke-width="0.38"/><line x1="24.1" y1="-75.6" x2="25.4" y2="-77.3" stroke-width="0.38"/><line x1="22.7" y1="-67.2" x2="27.2" y2="-70.5" stroke-width="0.38"/><line x1="27.2" y1="-70.5" x2="27.8" y2="-71.6" stroke-width="0.38"/><line x1="27.2" y1="-70.5" x2="28.7" y2="-70.8" stroke-width="0.38"/><line x1="21.0" y1="-64.4" x2="22.5" y2="-65.0" stroke-width="0.56"/><line x1="22.5" y1="-65.0" x2="23.9" y2="-65.7" stroke-width="0.51"/><line x1="22.5" y1="-65.0" x2="26.9" y2="-64.3" stroke-width="0.45"/><line x1="26.9" y1="-64.3" x2="28.2" y2="-64.7" stroke-width="0.38"/><line x1="26.9" y1="-64.3" x2="28.4" y2="-63.3" stroke-width="0.38"/><line x1="23.9" y1="-65.7" x2="27.2" y2="-70.0" stroke-width="0.38"/><line x1="27.2" y1="-70.0" x2="27.6" y2="-72.0" stroke-width="0.38"/><line x1="27.2" y1="-70.0" x2="28.5" y2="-70.5" stroke-width="0.38"/><line x1="23.9" y1="-65.7" x2="32.3" y2="-67.3" stroke-width="0.38"/><line x1="32.3" y1="-67.3" x2="33.5" y2="-68.5" stroke-width="0.38"/><line x1="32.3" y1="-67.3" x2="34.4" y2="-66.9" stroke-width="0.38"/><line x1="17.5" y1="-61.0" x2="20.7" y2="-61.3" stroke-width="0.82"/><line x1="20.7" y1="-61.3" x2="23.9" y2="-61.5" stroke-width="0.75"/><line x1="23.9" y1="-61.5" x2="25.7" y2="-62.2" stroke-width="0.56"/><line x1="25.7" y1="-62.2" x2="27.4" y2="-63.1" stroke-width="0.51"/><line x1="25.7" y1="-62.2" x2="25.9" y2="-64.7" stroke-width="0.45"/><line x1="25.9" y1="-64.7" x2="25.4" y2="-66.3" stroke-width="0.38"/><line x1="25.9" y1="-64.7" x2="26.6" y2="-65.8" stroke-width="0.38"/><line x1="27.4" y1="-63.1" x2="31.8" y2="-67.4" stroke-width="0.38"/><line x1="31.8" y1="-67.4" x2="32.0" y2="-68.6" stroke-width="0.38"/><line x1="31.8" y1="-67.4" x2="33.7" y2="-67.9" stroke-width="0.38"/><line x1="27.4" y1="-63.1" x2="33.7" y2="-64.2" stroke-width="0.38"/><line x1="33.7" y1="-64.2" x2="35.2" y2="-65.2" stroke-width="0.38"/><line x1="33.7" y1="-64.2" x2="35.4" y2="-63.7" stroke-width="0.38"/><line x1="23.9" y1="-61.5" x2="25.7" y2="-61.0" stroke-width="0.56"/><line x1="25.7" y1="-61.0" x2="27.6" y2="-60.5" stroke-width="0.51"/><line x1="25.7" y1="-61.0" x2="27.0" y2="-58.5" stroke-width="0.45"/><line x1="27.0" y1="-58.5" x2="28.4" y2="-57.5" stroke-width="0.38"/><line x1="27.0" y1="-58.5" x2="27.1" y2="-56.5" stroke-width="0.38"/><line x1="27.6" y1="-60.5" x2="33.7" y2="-61.3" stroke-width="0.38"/><line x1="33.7" y1="-61.3" x2="35.1" y2="-62.2" stroke-width="0.38"/><line x1="33.7" y1="-61.3" x2="35.0" y2="-61.0" stroke-width="0.38"/><line x1="27.6" y1="-60.5" x2="32.9" y2="-56.6" stroke-width="0.38"/><line x1="32.9" y1="-56.6" x2="34.6" y2="-56.3" stroke-width="0.38"/><line x1="32.9" y1="-56.6" x2="33.9" y2="-55.0" stroke-width="0.38"/><line x1="-1.0" y1="-34.0" x2="-5.2" y2="-35.6" stroke-width="1.50"/><line x1="-5.2" y1="-35.6" x2="-9.3" y2="-37.5" stroke-width="1.38"/><line x1="-9.3" y1="-37.5" x2="-11.6" y2="-37.7" stroke-width="1.02"/><line x1="-11.6" y1="-37.7" x2="-14.0" y2="-37.9" stroke-width="0.94"/><line x1="-11.6" y1="-37.7" x2="-13.9" y2="-36.4" stroke-width="0.45"/><line x1="-13.9" y1="-36.4" x2="-14.5" y2="-35.2" stroke-width="0.38"/><line x1="-13.9" y1="-36.4" x2="-16.0" y2="-36.1" stroke-width="0.38"/><line x1="-14.0" y1="-37.9" x2="-15.7" y2="-37.5" stroke-width="0.69"/><line x1="-15.7" y1="-37.5" x2="-17.5" y2="-37.2" stroke-width="0.64"/><line x1="-15.7" y1="-37.5" x2="-18.7" y2="-34.4" stroke-width="0.45"/><line x1="-18.7" y1="-34.4" x2="-19.5" y2="-32.5" stroke-width="0.38"/><line x1="-18.7" y1="-34.4" x2="-20.6" y2="-33.7" stroke-width="0.38"/><line x1="-17.5" y1="-37.2" x2="-18.3" y2="-36.8" stroke-width="0.47"/><line x1="-18.3" y1="-36.8" x2="-19.1" y2="-36.5" stroke-width="0.43"/><line x1="-18.3" y1="-36.8" x2="-20.7" y2="-38.4" stroke-width="0.45"/><line x1="-20.7" y1="-38.4" x2="-22.3" y2="-38.7" stroke-width="0.38"/><line x1="-20.7" y1="-38.4" x2="-21.4" y2="-39.7" stroke-width="0.38"/><line x1="-19.1" y1="-36.5" x2="-21.1" y2="-34.9" stroke-width="0.38"/><line x1="-21.1" y1="-34.9" x2="-21.6" y2="-33.6" stroke-width="0.38"/><line x1="-21.1" y1="-34.9" x2="-22.3" y2="-34.8" stroke-width="0.38"/><line x1="-19.1" y1="-36.5" x2="-25.3" y2="-37.1" stroke-width="0.38"/><line x1="-25.3" y1="-37.1" x2="-26.9" y2="-36.5" stroke-width="0.38"/><line x1="-25.3" y1="-37.1" x2="-27.0" y2="-38.3" stroke-width="0.38"/><line x1="-17.5" y1="-37.2" x2="-19.1" y2="-37.4" stroke-width="0.47"/><line x1="-19.1" y1="-37.4" x2="-20.6" y2="-37.9" stroke-width="0.43"/><line x1="-19.1" y1="-37.4" x2="-22.7" y2="-43.2" stroke-width="0.45"/><line x1="-22.7" y1="-43.2" x2="-24.4" y2="-44.2" stroke-width="0.38"/><line x1="-22.7" y1="-43.2" x2="-22.9" y2="-44.5" stroke-width="0.38"/><line x1="-20.6" y1="-37.9" x2="-24.0" y2="-37.4" stroke-width="0.38"/><line x1="-24.0" y1="-37.4" x2="-25.1" y2="-36.5" stroke-width="0.38"/><line x1="-24.0" y1="-37.4" x2="-26.0" y2="-38.2" stroke-width="0.38"/><line x1="-20.6" y1="-37.9" x2="-31.4" y2="-46.0" stroke-width="0.38"/><line x1="-31.4" y1="-46.0" x2="-32.6" y2="-46.3" stroke-width="0.38"/><line x1="-31.4" y1="-46.0" x2="-32.1" y2="-47.1" stroke-width="0.38"/><line x1="-14.0" y1="-37.9" x2="-17.0" y2="-39.4" stroke-width="0.69"/><line x1="-17.0" y1="-39.4" x2="-20.0" y2="-40.9" stroke-width="0.64"/><line x1="-20.0" y1="-40.9" x2="-21.5" y2="-41.2" stroke-width="0.47"/><line x1="-21.5" y1="-41.2" x2="-23.0" y2="-41.5" stroke-width="0.43"/><line x1="-21.5" y1="-41.2" x2="-24.3" y2="-39.0" stroke-width="0.45"/><line x1="-24.3" y1="-39.0" x2="-25.0" y2="-37.5" stroke-width="0.38"/><line x1="-24.3" y1="-39.0" x2="-25.6" y2="-38.6" stroke-width="0.38"/><line x1="-23.0" y1="-41.5" x2="-28.9" y2="-40.7" stroke-width="0.38"/><line x1="-28.9" y1="-40.7" x2="-29.9" y2="-40.1" stroke-width="0.38"/><line x1="-28.9" y1="-40.7" x2="-30.6" y2="-41.5" stroke-width="0.38"/><line x1="-23.0" y1="-41.5" x2="-29.9" y2="-45.8" stroke-width="0.38"/><line x1="-29.9" y1="-45.8" x2="-31.7" y2="-46.2" stroke-width="0.38"/><line x1="-29.9" y1="-45.8" x2="-31.0" y2="-47.5" stroke-width="0.38"/><line x1="-20.0" y1="-40.9" x2="-21.9" y2="-43.4" stroke-width="0.47"/><line x1="-21.9" y1="-43.4" x2="-23.6" y2="-46.0" stroke-width="0.43"/><line x1="-23.6" y1="-46.0" x2="-33.2" y2="-52.9" stroke-width="0.38"/><line x1="-33.2" y1="-52.9" x2="-34.9" y2="-53.1" stroke-width="0.38"/><line x1="-33.2" y1="-52.9" x2="-33.8" y2="-54.1" stroke-width="0.38"/><line x1="-23.6" y1="-46.0" x2="-28.1" y2="-60.9" stroke-width="0.38"/><line x1="-28.1" y1="-60.9" x2="-28.9" y2="-62.0" stroke-width="0.38"/><line x1="-28.1" y1="-60.9" x2="-27.8" y2="-63.0" stroke-width="0.38"/><line x1="-9.3" y1="-37.5" x2="-13.5" y2="-41.4" stroke-width="1.02"/><line x1="-13.5" y1="-41.4" x2="-17.5" y2="-45.4" stroke-width="0.94"/><line x1="-13.5" y1="-41.4" x2="-13.9" y2="-46.2" stroke-width="0.45"/><line x1="-13.9" y1="-46.2" x2="-15.1" y2="-47.8" stroke-width="0.38"/><line x1="-13.9" y1="-46.2" x2="-13.5" y2="-47.6" stroke-width="0.38"/><line x1="-17.5" y1="-45.4" x2="-19.8" y2="-46.5" stroke-width="0.69"/><line x1="-19.8" y1="-46.5" x2="-21.9" y2="-47.8" stroke-width="0.64"/><line x1="-21.9" y1="-47.8" x2="-23.5" y2="-48.1" stroke-width="0.47"/><line x1="-23.5" y1="-48.1" x2="-25.0" y2="-48.5" stroke-width="0.43"/><line x1="-23.5" y1="-48.1" x2="-25.9" y2="-51.3" stroke-width="0.45"/><line x1="-25.9" y1="-51.3" x2="-27.3" y2="-51.7" stroke-width="0.38"/><line x1="-25.9" y1="-51.3" x2="-26.1" y2="-52.6" stroke-width="0.38"/><line x1="-25.0" y1="-48.5" x2="-33.0" y2="-47.3" stroke-width="0.38"/><line x1="-33.0" y1="-47.3" x2="-34.0" y2="-46.3" stroke-width="0.38"/><line x1="-33.0" y1="-47.3" x2="-34.8" y2="-47.6" stroke-width="0.38"/><line x1="-25.0" y1="-48.5" x2="-33.8" y2="-55.4" stroke-width="0.38"/><line x1="-33.8" y1="-55.4" x2="-35.9" y2="-55.6" stroke-width="0.38"/><line x1="-33.8" y1="-55.4" x2="-34.7" y2="-57.3" stroke-width="0.38"/><line x1="-21.9" y1="-47.8" x2="-23.3" y2="-50.1" stroke-width="0.47"/><line x1="-23.3" y1="-50.1" x2="-24.8" y2="-52.4" stroke-width="0.43"/><line x1="-23.3" y1="-50.1" x2="-25.8" y2="-50.1" stroke-width="0.45"/><line x1="-25.8" y1="-50.1" x2="-26.9" y2="-49.3" stroke-width="0.38"/><line x1="-25.8" y1="-50.1" x2="-27.4" y2="-50.8" stroke-width="0.38"/><line x1="-24.8" y1="-52.4" x2="-34.2" y2="-59.8" stroke-width="0.38"/><line x1="-34.2" y1="-59.8" x2="-36.4" y2="-59.9" stroke-width="0.38"/><line x1="-34.2" y1="-59.8" x2="-34.8" y2="-61.4" stroke-width="0.38"/><line x1="-24.8" y1="-52.4" x2="-28.1" y2="-68.0" stroke-width="0.38"/><line x1="-28.1" y1="-68.0" x2="-28.8" y2="-69.0" stroke-width="0.38"/><line x1="-28.1" y1="-68.0" x2="-27.6" y2="-69.3" stroke-width="0.38"/><line x1="-17.5" y1="-45.4" x2="-19.3" y2="-50.2" stroke-width="0.69"/><line x1="-19.3" y1="-50.2" x2="-21.3" y2="-55.0" stroke-width="0.64"/><line x1="-19.3" y1="-50.2" x2="-20.9" y2="-51.1" stroke-width="0.45"/><line x1="-20.9" y1="-51.1" x2="-22.4" y2="-51.0" stroke-width="0.38"/><line x1="-20.9" y1="-51.1" x2="-21.6" y2="-52.0" stroke-width="0.38"/><line x1="-21.3" y1="-55.0" x2="-23.1" y2="-57.2" stroke-width="0.47"/><line x1="-23.1" y1="-57.2" x2="-24.8" y2="-59.5" stroke-width="0.43"/><line x1="-23.1" y1="-57.2" x2="-27.2" y2="-58.5" stroke-width="0.45"/><line x1="-27.2" y1="-58.5" x2="-29.2" y2="-58.0" stroke-width="0.38"/><line x1="-27.2" y1="-58.5" x2="-28.0" y2="-59.5" stroke-width="0.38"/><line x1="-24.8" y1="-59.5" x2="-32.9" y2="-64.1" stroke-width="0.38"/><line x1="-32.9" y1="-64.1" x2="-34.2" y2="-64.0" stroke-width="0.38"/><line x1="-32.9" y1="-64.1" x2="-33.7" y2="-65.1" stroke-width="0.38"/><line x1="-24.8" y1="-59.5" x2="-28.9" y2="-70.6" stroke-width="0.38"/><line x1="-28.9" y1="-70.6" x2="-30.3" y2="-71.8" stroke-width="0.38"/><line x1="-28.9" y1="-70.6" x2="-28.5" y2="-72.4" stroke-width="0.38"/><line x1="-21.3" y1="-55.0" x2="-21.5" y2="-57.9" stroke-width="0.47"/><line x1="-21.5" y1="-57.9" x2="-22.1" y2="-60.8" stroke-width="0.43"/><line x1="-22.1" y1="-60.8" x2="-26.7" y2="-69.3" stroke-width="0.38"/><line x1="-26.7" y1="-69.3" x2="-27.7" y2="-70.0" stroke-width="0.38"/><line x1="-26.7" y1="-69.3" x2="-26.8" y2="-70.8" stroke-width="0.38"/><line x1="-22.1" y1="-60.8" x2="-19.0" y2="-74.8" stroke-width="0.38"/><line x1="-19.0" y1="-74.8" x2="-19.5" y2="-76.9" stroke-width="0.38"/><line x1="-19.0" y1="-74.8" x2="-17.7" y2="-76.4" stroke-width="0.38"/><line x1="1.0" y1="-34.0" x2="6.5" y2="-36.1" stroke-width="1.50"/><line x1="6.5" y1="-36.1" x2="11.6" y2="-39.0" stroke-width="1.38"/><line x1="6.5" y1="-36.1" x2="8.9" y2="-35.3" stroke-width="0.45"/><line x1="8.9" y1="-35.3" x2="10.6" y2="-35.3" stroke-width="0.38"/><line x1="8.9" y1="-35.3" x2="10.2" y2="-33.7" stroke-width="0.38"/><line x1="11.6" y1="-39.0" x2="14.8" y2="-42.9" stroke-width="1.02"/><line x1="14.8" y1="-42.9" x2="17.9" y2="-46.9" stroke-width="0.94"/><line x1="14.8" y1="-42.9" x2="19.2" y2="-42.6" stroke-width="0.45"/><line x1="19.2" y1="-42.6" x2="20.8" y2="-43.2" stroke-width="0.38"/><line x1="19.2" y1="-42.6" x2="20.3" y2="-41.8" stroke-width="0.38"/><line x1="17.9" y1="-46.9" x2="19.2" y2="-51.0" stroke-width="0.69"/><line x1="19.2" y1="-51.0" x2="20.9" y2="-55.0" stroke-width="0.64"/><line x1="19.2" y1="-51.0" x2="18.0" y2="-54.3" stroke-width="0.45"/><line x1="18.0" y1="-54.3" x2="17.0" y2="-55.2" stroke-width="0.38"/><line x1="18.0" y1="-54.3" x2="18.2" y2="-55.6" stroke-width="0.38"/><line x1="20.9" y1="-55.0" x2="20.8" y2="-59.1" stroke-width="0.47"/><line x1="20.8" y1="-59.1" x2="21.1" y2="-63.2" stroke-width="0.43"/><line x1="20.8" y1="-59.1" x2="25.9" y2="-64.9" stroke-width="0.45"/><line x1="25.9" y1="-64.9" x2="26.2" y2="-66.5" stroke-width="0.38"/><line x1="25.9" y1="-64.9" x2="27.4" y2="-65.4" stroke-width="0.38"/><line x1="21.1" y1="-63.2" x2="17.7" y2="-76.4" stroke-width="0.38"/><line x1="17.7" y1="-76.4" x2="16.8" y2="-77.4" stroke-width="0.38"/><line x1="17.7" y1="-76.4" x2="18.3" y2="-78.1" stroke-width="0.38"/><line x1="21.1" y1="-63.2" x2="25.1" y2="-70.2" stroke-width="0.38"/><line x1="25.1" y1="-70.2" x2="25.2" y2="-72.1" stroke-width="0.38"/><line x1="25.1" y1="-70.2" x2="26.2" y2="-70.9" stroke-width="0.38"/><line x1="20.9" y1="-55.0" x2="22.8" y2="-57.0" stroke-width="0.47"/><line x1="22.8" y1="-57.0" x2="25.0" y2="-58.7" stroke-width="0.43"/><line x1="22.8" y1="-57.0" x2="27.6" y2="-57.0" stroke-width="0.45"/><line x1="27.6" y1="-57.0" x2="28.8" y2="-57.6" stroke-width="0.38"/><line x1="27.6" y1="-57.0" x2="29.5" y2="-56.0" stroke-width="0.38"/><line x1="25.0" y1="-58.7" x2="29.5" y2="-65.8" stroke-width="0.38"/><line x1="29.5" y1="-65.8" x2="29.8" y2="-67.7" stroke-width="0.38"/><line x1="29.5" y1="-65.8" x2="30.8" y2="-66.4" stroke-width="0.38"/><line x1="25.0" y1="-58.7" x2="32.0" y2="-61.6" stroke-width="0.38"/><line x1="32.0" y1="-61.6" x2="33.2" y2="-62.8" stroke-width="0.38"/><line x1="32.0" y1="-61.6" x2="33.6" y2="-61.5" stroke-width="0.38"/><line x1="17.9" y1="-46.9" x2="21.3" y2="-49.2" stroke-width="0.69"/><line x1="21.3" y1="-49.2" x2="24.9" y2="-51.3" stroke-width="0.64"/><line x1="21.3" y1="-49.2" x2="22.0" y2="-51.3" stroke-width="0.45"/><line x1="22.0" y1="-51.3" x2="21.9" y2="-52.8" stroke-width="0.38"/><line x1="22.0" y1="-51.3" x2="22.9" y2="-52.2" stroke-width="0.38"/><line x1="24.9" y1="-51.3" x2="26.2" y2="-53.2" stroke-width="0.47"/><line x1="26.2" y1="-53.2" x2="27.8" y2="-55.0" stroke-width="0.43"/><line x1="26.2" y1="-53.2" x2="25.7" y2="-59.5" stroke-width="0.45"/><line x1="25.7" y1="-59.5" x2="24.8" y2="-61.1" stroke-width="0.38"/><line x1="25.7" y1="-59.5" x2="26.2" y2="-60.7" stroke-width="0.38"/><line x1="27.8" y1="-55.0" x2="31.3" y2="-64.9" stroke-width="0.38"/><line x1="31.3" y1="-64.9" x2="30.9" y2="-67.0" stroke-width="0.38"/><line x1="31.3" y1="-64.9" x2="32.6" y2="-66.1" stroke-width="0.38"/><line x1="27.8" y1="-55.0" x2="33.9" y2="-57.9" stroke-width="0.38"/><line x1="33.9" y1="-57.9" x2="35.2" y2="-59.3" stroke-width="0.38"/><line x1="33.9" y1="-57.9" x2="35.9" y2="-57.7" stroke-width="0.38"/><line x1="24.9" y1="-51.3" x2="26.8" y2="-51.5" stroke-width="0.47"/><line x1="26.8" y1="-51.5" x2="28.8" y2="-51.7" stroke-width="0.43"/><line x1="26.8" y1="-51.5" x2="29.6" y2="-49.0" stroke-width="0.45"/><line x1="29.6" y1="-49.0" x2="31.0" y2="-48.8" stroke-width="0.38"/><line x1="29.6" y1="-49.0" x2="30.3" y2="-47.3" stroke-width="0.38"/><line x1="28.8" y1="-51.7" x2="35.6" y2="-54.4" stroke-width="0.38"/><line x1="35.6" y1="-54.4" x2="36.4" y2="-55.3" stroke-width="0.38"/><line x1="35.6" y1="-54.4" x2="37.3" y2="-54.1" stroke-width="0.38"/><line x1="28.8" y1="-51.7" x2="34.5" y2="-49.8" stroke-width="0.38"/><line x1="34.5" y1="-49.8" x2="36.0" y2="-50.2" stroke-width="0.38"/><line x1="34.5" y1="-49.8" x2="36.1" y2="-48.6" stroke-width="0.38"/><line x1="11.6" y1="-39.0" x2="14.0" y2="-39.2" stroke-width="1.02"/><line x1="14.0" y1="-39.2" x2="16.4" y2="-39.6" stroke-width="0.94"/><line x1="14.0" y1="-39.2" x2="15.5" y2="-41.5" stroke-width="0.45"/><line x1="15.5" y1="-41.5" x2="15.6" y2="-43.4" stroke-width="0.38"/><line x1="15.5" y1="-41.5" x2="17.0" y2="-42.4" stroke-width="0.38"/><line x1="16.4" y1="-39.6" x2="19.5" y2="-41.5" stroke-width="0.69"/><line x1="19.5" y1="-41.5" x2="22.5" y2="-43.6" stroke-width="0.64"/><line x1="22.5" y1="-43.6" x2="24.7" y2="-46.5" stroke-width="0.47"/><line x1="24.7" y1="-46.5" x2="26.9" y2="-49.4" stroke-width="0.43"/><line x1="26.9" y1="-49.4" x2="32.8" y2="-66.7" stroke-width="0.38"/><line x1="32.8" y1="-66.7" x2="32.7" y2="-68.0" stroke-width="0.38"/><line x1="32.8" y1="-66.7" x2="33.9" y2="-67.9" stroke-width="0.38"/><line x1="26.9" y1="-49.4" x2="33.7" y2="-54.8" stroke-width="0.38"/><line x1="33.7" y1="-54.8" x2="34.5" y2="-56.5" stroke-width="0.38"/><line x1="33.7" y1="-54.8" x2="35.1" y2="-55.1" stroke-width="0.38"/><line x1="22.5" y1="-43.6" x2="24.5" y2="-44.2" stroke-width="0.47"/><line x1="24.5" y1="-44.2" x2="26.6" y2="-44.5" stroke-width="0.43"/><line x1="24.5" y1="-44.2" x2="26.5" y2="-50.1" stroke-width="0.45"/><line x1="26.5" y1="-50.1" x2="26.3" y2="-52.2" stroke-width="0.38"/><line x1="26.5" y1="-50.1" x2="27.7" y2="-51.6" stroke-width="0.38"/><line x1="26.6" y1="-44.5" x2="33.3" y2="-47.9" stroke-width="0.38"/><line x1="33.3" y1="-47.9" x2="34.4" y2="-49.5" stroke-width="0.38"/><line x1="33.3" y1="-47.9" x2="35.2" y2="-48.0" stroke-width="0.38"/><line x1="26.6" y1="-44.5" x2="31.3" y2="-43.2" stroke-width="0.38"/><line x1="31.3" y1="-43.2" x2="33.5" y2="-43.6" stroke-width="0.38"/><line x1="31.3" y1="-43.2" x2="32.6" y2="-41.9" stroke-width="0.38"/><line x1="16.4" y1="-39.6" x2="18.0" y2="-39.1" stroke-width="0.69"/><line x1="18.0" y1="-39.1" x2="19.5" y2="-38.6" stroke-width="0.64"/><line x1="18.0" y1="-39.1" x2="19.5" y2="-34.1" stroke-width="0.45"/><line x1="19.5" y1="-34.1" x2="20.8" y2="-32.6" stroke-width="0.38"/><line x1="19.5" y1="-34.1" x2="19.1" y2="-32.6" stroke-width="0.38"/><line x1="19.5" y1="-38.6" x2="20.9" y2="-38.6" stroke-width="0.47"/><line x1="20.9" y1="-38.6" x2="22.2" y2="-38.7" stroke-width="0.43"/><line x1="20.9" y1="-38.6" x2="23.5" y2="-42.6" stroke-width="0.45"/><line x1="23.5" y1="-42.6" x2="23.5" y2="-43.8" stroke-width="0.38"/><line x1="23.5" y1="-42.6" x2="25.4" y2="-43.5" stroke-width="0.38"/><line x1="22.2" y1="-38.7" x2="28.9" y2="-42.1" stroke-width="0.38"/><line x1="28.9" y1="-42.1" x2="29.8" y2="-43.6" stroke-width="0.38"/><line x1="28.9" y1="-42.1" x2="30.1" y2="-42.2" stroke-width="0.38"/><line x1="22.2" y1="-38.7" x2="25.7" y2="-37.3" stroke-width="0.38"/><line x1="25.7" y1="-37.3" x2="27.0" y2="-37.3" stroke-width="0.38"/><line x1="25.7" y1="-37.3" x2="26.7" y2="-36.3" stroke-width="0.38"/><line x1="19.5" y1="-38.6" x2="20.1" y2="-38.0" stroke-width="0.47"/><line x1="20.1" y1="-38.0" x2="20.8" y2="-37.5" stroke-width="0.43"/><line x1="20.8" y1="-37.5" x2="24.0" y2="-36.8" stroke-width="0.38"/><line x1="24.0" y1="-36.8" x2="25.7" y2="-37.4" stroke-width="0.38"/><line x1="24.0" y1="-36.8" x2="25.3" y2="-35.4" stroke-width="0.38"/><line x1="20.8" y1="-37.5" x2="22.4" y2="-34.4" stroke-width="0.38"/><line x1="22.4" y1="-34.4" x2="23.7" y2="-33.7" stroke-width="0.38"/><line x1="22.4" y1="-34.4" x2="22.4" y2="-32.7" stroke-width="0.38"/></g><clipPath id="acc"><path d="M-22.2 -17.3C-22.4 -18.1 -22.2 -19.7 -21.7 -20.5C-21.3 -21.3 -20.1 -21.4 -19.4 -22.3C-18.6 -23.1 -18.2 -24.9 -17.2 -25.7C-16.2 -26.6 -14.8 -26.4 -13.6 -27.1C-12.4 -27.9 -11.4 -29.4 -10.1 -30.0C-8.8 -30.7 -7.2 -30.6 -5.9 -31.0C-4.6 -31.3 -3.7 -32.2 -2.5 -32.3C-1.4 -32.4 -0.4 -31.6 0.9 -31.6C2.1 -31.6 3.8 -32.5 5.0 -32.3C6.3 -32.2 7.2 -31.0 8.5 -30.6C9.9 -30.1 11.8 -30.3 13.1 -29.7C14.4 -29.1 15.3 -27.7 16.5 -26.9C17.6 -26.1 19.2 -25.8 20.1 -24.9C21.1 -24.0 21.5 -22.5 22.3 -21.6C23.1 -20.7 24.2 -20.2 24.8 -19.4C25.4 -18.6 26.4 -17.8 25.9 -16.9C25.4 -16.1 23.3 -14.8 22.0 -14.2C20.6 -13.5 19.4 -13.1 18.0 -13.0C16.7 -13.0 15.3 -14.1 13.9 -14.0C12.6 -13.9 11.3 -12.6 10.0 -12.5C8.7 -12.3 7.4 -13.1 6.0 -13.1C4.7 -13.1 3.3 -12.4 2.0 -12.5C0.6 -12.5 -0.7 -13.6 -2.0 -13.6C-3.3 -13.7 -4.7 -12.7 -6.0 -12.7C-7.3 -12.7 -8.6 -13.5 -10.0 -13.6C-11.3 -13.7 -12.8 -13.0 -14.0 -13.1C-15.2 -13.2 -16.2 -13.9 -17.4 -14.3C-18.5 -14.7 -19.8 -15.0 -20.6 -15.4C-21.4 -15.9 -22.1 -16.4 -22.2 -17.3Z"/></clipPath><g id="ac"><path d="M0 0 C-1 -4 -3 -9 -5 -15 M0 0 C2 -4 6 -10 11 -15 M0 -2 C1 -6 2 -10 3 -15 M-1 -6 C-5 -10 -8 -12 -12 -15" stroke="#2c5565" stroke-width="1.2" fill="none"/><g clip-path="url(#acc)"><rect x="-25" y="-35" width="55" height="25" fill="#6892a4"/><circle cx="-13.6" cy="-11.4" r="1.4" fill="#4f7b8d" opacity="0.65"/><circle cx="-8.4" cy="-30.2" r="1.4" fill="#3e6a7b" opacity="0.65"/><circle cx="-15.4" cy="-11.8" r="0.8" fill="#8aafbe" opacity="0.65"/><circle cx="-9.2" cy="-26.3" r="0.7" fill="#3e6a7b" opacity="0.65"/><circle cx="-11.0" cy="-27.0" r="1.3" fill="#a0c2cf" opacity="0.65"/><circle cx="-24.8" cy="-18.7" r="0.9" fill="#4f7b8d" opacity="0.65"/><circle cx="-6.2" cy="-27.7" r="1.2" fill="#3e6a7b" opacity="0.65"/><circle cx="0.5" cy="-18.1" r="0.7" fill="#2f5a6b" opacity="0.65"/><circle cx="25.3" cy="-26.4" r="1.0" fill="#a0c2cf" opacity="0.65"/><circle cx="16.8" cy="-26.2" r="1.1" fill="#2f5a6b" opacity="0.65"/><circle cx="-1.0" cy="-18.0" r="1.2" fill="#3e6a7b" opacity="0.65"/><circle cx="-18.7" cy="-29.1" r="1.3" fill="#8aafbe" opacity="0.65"/><circle cx="-6.7" cy="-26.5" r="1.1" fill="#8aafbe" opacity="0.65"/><circle cx="-19.3" cy="-17.0" r="1.3" fill="#4f7b8d" opacity="0.65"/><circle cx="-23.1" cy="-12.3" r="0.7" fill="#4f7b8d" opacity="0.65"/><circle cx="2.2" cy="-26.3" r="0.7" fill="#4f7b8d" opacity="0.65"/><circle cx="24.0" cy="-21.9" r="0.9" fill="#4f7b8d" opacity="0.65"/><circle cx="-8.8" cy="-15.8" r="1.2" fill="#4f7b8d" opacity="0.65"/><circle cx="27.8" cy="-31.1" r="0.6" fill="#a0c2cf" opacity="0.65"/><circle cx="3.3" cy="-25.3" r="0.8" fill="#a0c2cf" opacity="0.65"/><circle cx="-6.8" cy="-29.0" r="1.2" fill="#3e6a7b" opacity="0.65"/><circle cx="-22.0" cy="-13.0" r="0.6" fill="#8aafbe" opacity="0.65"/><circle cx="-7.3" cy="-30.0" r="1.5" fill="#a0c2cf" opacity="0.65"/><circle cx="25.3" cy="-19.9" r="1.3" fill="#2f5a6b" opacity="0.65"/><circle cx="-16.1" cy="-26.0" r="0.7" fill="#8aafbe" opacity="0.65"/><circle cx="-9.4" cy="-24.1" r="1.5" fill="#3e6a7b" opacity="0.65"/><circle cx="26.7" cy="-24.1" r="1.0" fill="#4f7b8d" opacity="0.65"/><circle cx="0.4" cy="-28.0" r="1.0" fill="#3e6a7b" opacity="0.65"/><circle cx="-19.0" cy="-15.3" r="1.1" fill="#3e6a7b" opacity="0.65"/><circle cx="8.2" cy="-23.0" r="0.9" fill="#2f5a6b" opacity="0.65"/><circle cx="1.1" cy="-22.6" r="1.1" fill="#a0c2cf" opacity="0.65"/><circle cx="-5.8" cy="-16.1" r="1.3" fill="#a0c2cf" opacity="0.65"/><circle cx="10.2" cy="-16.8" r="0.9" fill="#4f7b8d" opacity="0.65"/><circle cx="19.3" cy="-28.6" r="1.5" fill="#4f7b8d" opacity="0.65"/><circle cx="25.7" cy="-26.8" r="0.8" fill="#2f5a6b" opacity="0.65"/><circle cx="0.1" cy="-16.4" r="0.9" fill="#4f7b8d" opacity="0.65"/><circle cx="-0.5" cy="-15.4" r="1.2" fill="#4f7b8d" opacity="0.65"/><circle cx="-6.6" cy="-19.5" r="1.3" fill="#8aafbe" opacity="0.65"/><circle cx="-6.4" cy="-14.8" r="1.4" fill="#8aafbe" opacity="0.65"/><circle cx="26.7" cy="-12.0" r="1.1" fill="#a0c2cf" opacity="0.65"/><circle cx="27.0" cy="-30.2" r="0.9" fill="#8aafbe" opacity="0.65"/><circle cx="-10.0" cy="-33.1" r="1.2" fill="#8aafbe" opacity="0.65"/><circle cx="-15.9" cy="-16.3" r="1.1" fill="#8aafbe" opacity="0.65"/><circle cx="-9.0" cy="-21.7" r="1.4" fill="#4f7b8d" opacity="0.65"/><circle cx="13.2" cy="-34.3" r="0.7" fill="#8aafbe" opacity="0.65"/><circle cx="8.1" cy="-30.7" r="1.3" fill="#3e6a7b" opacity="0.65"/><circle cx="8.4" cy="-34.0" r="1.0" fill="#3e6a7b" opacity="0.65"/><circle cx="-16.2" cy="-13.6" r="0.7" fill="#3e6a7b" opacity="0.65"/><circle cx="0.6" cy="-21.8" r="1.0" fill="#4f7b8d" opacity="0.65"/><circle cx="-4.8" cy="-20.3" r="1.1" fill="#3e6a7b" opacity="0.65"/><circle cx="13.1" cy="-26.0" r="0.9" fill="#4f7b8d" opacity="0.65"/><circle cx="20.4" cy="-14.2" r="1.2" fill="#a0c2cf" opacity="0.65"/><circle cx="-5.2" cy="-34.1" r="1.2" fill="#2f5a6b" opacity="0.65"/><circle cx="-9.4" cy="-22.7" r="1.5" fill="#4f7b8d" opacity="0.65"/><circle cx="25.8" cy="-15.4" r="1.0" fill="#a0c2cf" opacity="0.65"/><circle cx="9.0" cy="-26.1" r="0.7" fill="#a0c2cf" opacity="0.65"/><circle cx="-4.7" cy="-23.6" r="0.8" fill="#3e6a7b" opacity="0.65"/><circle cx="7.3" cy="-26.6" r="1.4" fill="#2f5a6b" opacity="0.65"/><circle cx="-4.8" cy="-27.2" r="1.4" fill="#a0c2cf" opacity="0.65"/><circle cx="-17.5" cy="-19.9" r="1.4" fill="#8aafbe" opacity="0.65"/><circle cx="-2.3" cy="-11.6" r="1.0" fill="#8aafbe" opacity="0.65"/><circle cx="26.5" cy="-25.9" r="1.5" fill="#3e6a7b" opacity="0.65"/><circle cx="6.6" cy="-28.8" r="1.5" fill="#8aafbe" opacity="0.65"/><circle cx="-11.7" cy="-34.5" r="1.5" fill="#4f7b8d" opacity="0.65"/><circle cx="1.1" cy="-28.1" r="1.0" fill="#2f5a6b" opacity="0.65"/><circle cx="10.0" cy="-11.9" r="0.8" fill="#2f5a6b" opacity="0.65"/><circle cx="16.4" cy="-15.2" r="0.6" fill="#a0c2cf" opacity="0.65"/><circle cx="4.7" cy="-29.2" r="1.0" fill="#2f5a6b" opacity="0.65"/><circle cx="-12.0" cy="-28.6" r="0.7" fill="#4f7b8d" opacity="0.65"/><circle cx="-9.5" cy="-20.4" r="1.0" fill="#a0c2cf" opacity="0.65"/><circle cx="21.7" cy="-13.5" r="0.6" fill="#3e6a7b" opacity="0.65"/><circle cx="-9.1" cy="-22.2" r="0.9" fill="#4f7b8d" opacity="0.65"/><circle cx="13.8" cy="-34.4" r="0.9" fill="#a0c2cf" opacity="0.65"/><circle cx="-18.0" cy="-34.9" r="1.1" fill="#2f5a6b" opacity="0.65"/><circle cx="22.1" cy="-21.9" r="0.6" fill="#8aafbe" opacity="0.65"/><circle cx="6.5" cy="-18.5" r="1.5" fill="#8aafbe" opacity="0.65"/><circle cx="20.5" cy="-14.8" r="1.0" fill="#3e6a7b" opacity="0.65"/><circle cx="22.6" cy="-23.8" r="1.3" fill="#4f7b8d" opacity="0.65"/><circle cx="19.3" cy="-18.3" r="1.0" fill="#4f7b8d" opacity="0.65"/><circle cx="9.4" cy="-23.7" r="0.9" fill="#3e6a7b" opacity="0.65"/><circle cx="0.4" cy="-21.8" r="1.0" fill="#4f7b8d" opacity="0.65"/><circle cx="3.5" cy="-24.8" r="1.1" fill="#2f5a6b" opacity="0.65"/><circle cx="-21.4" cy="-29.5" r="1.3" fill="#2f5a6b" opacity="0.65"/><circle cx="10.2" cy="-34.4" r="1.3" fill="#2f5a6b" opacity="0.65"/><circle cx="27.9" cy="-18.2" r="0.6" fill="#2f5a6b" opacity="0.65"/><circle cx="-13.4" cy="-19.5" r="1.5" fill="#3e6a7b" opacity="0.65"/><circle cx="27.7" cy="-18.1" r="1.0" fill="#3e6a7b" opacity="0.65"/><circle cx="7.4" cy="-25.1" r="0.7" fill="#a0c2cf" opacity="0.65"/><circle cx="-13.7" cy="-21.7" r="1.2" fill="#2f5a6b" opacity="0.65"/><circle cx="-10.2" cy="-21.3" r="0.7" fill="#8aafbe" opacity="0.65"/><circle cx="21.6" cy="-31.8" r="1.0" fill="#4f7b8d" opacity="0.65"/><circle cx="11.3" cy="-23.3" r="0.9" fill="#4f7b8d" opacity="0.65"/><circle cx="23.5" cy="-31.7" r="0.9" fill="#a0c2cf" opacity="0.65"/><circle cx="8.5" cy="-22.9" r="1.4" fill="#a0c2cf" opacity="0.65"/><circle cx="4.1" cy="-29.7" r="0.7" fill="#3e6a7b" opacity="0.65"/><circle cx="-11.5" cy="-17.0" r="1.1" fill="#3e6a7b" opacity="0.65"/><circle cx="17.8" cy="-14.3" r="1.0" fill="#8aafbe" opacity="0.65"/><circle cx="-15.5" cy="-17.9" r="1.2" fill="#2f5a6b" opacity="0.65"/><circle cx="5.4" cy="-34.1" r="1.4" fill="#a0c2cf" opacity="0.65"/><circle cx="6.5" cy="-29.3" r="1.4" fill="#8aafbe" opacity="0.65"/><circle cx="26.1" cy="-32.4" r="1.1" fill="#a0c2cf" opacity="0.65"/><circle cx="13.4" cy="-33.7" r="0.7" fill="#8aafbe" opacity="0.65"/><circle cx="11.1" cy="-29.6" r="0.7" fill="#8aafbe" opacity="0.65"/><circle cx="18.5" cy="-31.6" r="1.2" fill="#4f7b8d" opacity="0.65"/><circle cx="19.3" cy="-28.0" r="1.4" fill="#4f7b8d" opacity="0.65"/><circle cx="17.2" cy="-25.9" r="1.3" fill="#4f7b8d" opacity="0.65"/><circle cx="9.3" cy="-15.7" r="1.0" fill="#4f7b8d" opacity="0.65"/><circle cx="2.4" cy="-20.8" r="1.1" fill="#3e6a7b" opacity="0.65"/><circle cx="-4.0" cy="-32.7" r="0.6" fill="#3e6a7b" opacity="0.65"/><circle cx="-14.6" cy="-23.2" r="1.4" fill="#4f7b8d" opacity="0.65"/><circle cx="-25.0" cy="-23.7" r="1.4" fill="#a0c2cf" opacity="0.65"/><circle cx="23.9" cy="-27.2" r="1.0" fill="#3e6a7b" opacity="0.65"/><circle cx="-16.8" cy="-31.2" r="0.9" fill="#8aafbe" opacity="0.65"/><circle cx="21.1" cy="-23.7" r="1.1" fill="#2f5a6b" opacity="0.65"/><circle cx="-10.3" cy="-31.1" r="0.9" fill="#3e6a7b" opacity="0.65"/><circle cx="-23.2" cy="-13.5" r="0.9" fill="#4f7b8d" opacity="0.65"/><circle cx="-8.2" cy="-33.6" r="0.6" fill="#8aafbe" opacity="0.65"/><circle cx="0.0" cy="-12.3" r="0.7" fill="#4f7b8d" opacity="0.65"/><circle cx="-9.6" cy="-18.8" r="1.3" fill="#3e6a7b" opacity="0.65"/><circle cx="-23.2" cy="-17.8" r="1.1" fill="#2f5a6b" opacity="0.65"/><circle cx="7.7" cy="-13.1" r="1.2" fill="#4f7b8d" opacity="0.65"/><circle cx="-15.2" cy="-26.3" r="0.7" fill="#8aafbe" opacity="0.65"/><circle cx="-16.3" cy="-29.2" r="1.2" fill="#2f5a6b" opacity="0.65"/><circle cx="9.2" cy="-24.7" r="1.5" fill="#2f5a6b" opacity="0.65"/><circle cx="-0.5" cy="-24.1" r="1.2" fill="#3e6a7b" opacity="0.65"/><circle cx="-22.6" cy="-21.8" r="1.5" fill="#a0c2cf" opacity="0.65"/><circle cx="5.0" cy="-12.5" r="1.2" fill="#3e6a7b" opacity="0.65"/><circle cx="22.6" cy="-23.2" r="1.4" fill="#2f5a6b" opacity="0.65"/><circle cx="11.2" cy="-19.5" r="1.0" fill="#2f5a6b" opacity="0.65"/><circle cx="-22.5" cy="-15.0" r="1.0" fill="#2f5a6b" opacity="0.65"/><circle cx="21.4" cy="-12.2" r="0.8" fill="#a0c2cf" opacity="0.65"/><circle cx="8.9" cy="-30.5" r="0.8" fill="#4f7b8d" opacity="0.65"/><circle cx="16.9" cy="-32.9" r="1.5" fill="#3e6a7b" opacity="0.65"/><circle cx="6.7" cy="-14.4" r="0.8" fill="#2f5a6b" opacity="0.65"/><circle cx="-1.6" cy="-26.4" r="1.0" fill="#8aafbe" opacity="0.65"/><circle cx="2.7" cy="-31.8" r="0.6" fill="#4f7b8d" opacity="0.65"/><circle cx="11.5" cy="-13.6" r="1.5" fill="#a0c2cf" opacity="0.65"/><circle cx="-18.9" cy="-27.5" r="0.7" fill="#4f7b8d" opacity="0.65"/><circle cx="18.4" cy="-27.5" r="0.7" fill="#2f5a6b" opacity="0.65"/><circle cx="-0.0" cy="-18.3" r="1.3" fill="#a0c2cf" opacity="0.65"/><circle cx="10.3" cy="-28.4" r="1.0" fill="#3e6a7b" opacity="0.65"/><circle cx="-22.5" cy="-30.2" r="0.9" fill="#4f7b8d" opacity="0.65"/><circle cx="21.9" cy="-33.3" r="1.3" fill="#8aafbe" opacity="0.65"/><circle cx="14.9" cy="-21.7" r="1.4" fill="#3e6a7b" opacity="0.65"/><circle cx="5.5" cy="-24.4" r="1.3" fill="#2f5a6b" opacity="0.65"/><circle cx="13.6" cy="-18.2" r="0.8" fill="#8aafbe" opacity="0.65"/><circle cx="4.8" cy="-27.3" r="0.9" fill="#3e6a7b" opacity="0.65"/><circle cx="-11.1" cy="-18.8" r="0.9" fill="#2f5a6b" opacity="0.65"/><circle cx="3.7" cy="-17.3" r="0.6" fill="#2f5a6b" opacity="0.65"/><circle cx="-22.3" cy="-31.9" r="0.9" fill="#4f7b8d" opacity="0.65"/><circle cx="25.3" cy="-20.3" r="0.8" fill="#8aafbe" opacity="0.65"/><circle cx="-18.4" cy="-30.2" r="0.9" fill="#3e6a7b" opacity="0.65"/><circle cx="6.0" cy="-15.2" r="1.3" fill="#2f5a6b" opacity="0.65"/><circle cx="-10.8" cy="-20.5" r="1.2" fill="#3e6a7b" opacity="0.65"/><circle cx="-1.4" cy="-12.5" r="1.3" fill="#2f5a6b" opacity="0.65"/><circle cx="-7.3" cy="-24.3" r="0.8" fill="#a0c2cf" opacity="0.65"/><circle cx="-2.0" cy="-24.4" r="1.3" fill="#3e6a7b" opacity="0.65"/><circle cx="3.2" cy="-11.7" r="1.1" fill="#2f5a6b" opacity="0.65"/><circle cx="-18.3" cy="-14.6" r="1.2" fill="#3e6a7b" opacity="0.65"/><circle cx="26.8" cy="-34.2" r="1.1" fill="#8aafbe" opacity="0.65"/><circle cx="12.4" cy="-26.5" r="1.0" fill="#3e6a7b" opacity="0.65"/><circle cx="-10.3" cy="-30.2" r="1.1" fill="#4f7b8d" opacity="0.65"/><circle cx="15.5" cy="-16.2" r="0.9" fill="#3e6a7b" opacity="0.65"/><circle cx="18.2" cy="-19.1" r="1.4" fill="#2f5a6b" opacity="0.65"/><circle cx="7.8" cy="-25.4" r="0.7" fill="#3e6a7b" opacity="0.65"/><circle cx="1.0" cy="-34.1" r="0.8" fill="#2f5a6b" opacity="0.65"/><circle cx="14.9" cy="-28.2" r="1.4" fill="#4f7b8d" opacity="0.65"/><circle cx="0.3" cy="-23.7" r="1.1" fill="#2f5a6b" opacity="0.65"/><circle cx="17.4" cy="-26.0" r="0.6" fill="#a0c2cf" opacity="0.65"/><circle cx="7.1" cy="-20.1" r="1.3" fill="#2f5a6b" opacity="0.65"/><circle cx="-8.2" cy="-34.4" r="0.9" fill="#8aafbe" opacity="0.65"/><circle cx="1.6" cy="-21.9" r="1.2" fill="#8aafbe" opacity="0.65"/><circle cx="27.1" cy="-15.4" r="1.4" fill="#a0c2cf" opacity="0.65"/><circle cx="10.5" cy="-22.1" r="1.3" fill="#4f7b8d" opacity="0.65"/><circle cx="25.8" cy="-34.5" r="1.3" fill="#3e6a7b" opacity="0.65"/><circle cx="-9.9" cy="-33.1" r="0.7" fill="#4f7b8d" opacity="0.65"/><circle cx="7.4" cy="-14.3" r="1.4" fill="#8aafbe" opacity="0.65"/><circle cx="-8.7" cy="-12.7" r="0.8" fill="#3e6a7b" opacity="0.65"/><circle cx="-21.2" cy="-16.9" r="1.2" fill="#4f7b8d" opacity="0.65"/><circle cx="22.5" cy="-18.5" r="1.4" fill="#a0c2cf" opacity="0.65"/><circle cx="7.4" cy="-30.0" r="1.1" fill="#2f5a6b" opacity="0.65"/><circle cx="-12.3" cy="-11.6" r="1.1" fill="#8aafbe" opacity="0.65"/><circle cx="26.4" cy="-18.9" r="0.9" fill="#a0c2cf" opacity="0.65"/><circle cx="22.7" cy="-13.2" r="1.2" fill="#8aafbe" opacity="0.65"/><circle cx="-7.8" cy="-14.8" r="1.4" fill="#4f7b8d" opacity="0.65"/><circle cx="-11.8" cy="-32.6" r="0.9" fill="#4f7b8d" opacity="0.65"/><circle cx="17.3" cy="-33.1" r="1.5" fill="#2f5a6b" opacity="0.65"/><circle cx="8.5" cy="-16.6" r="0.8" fill="#2f5a6b" opacity="0.65"/><circle cx="5.2" cy="-20.0" r="1.2" fill="#a0c2cf" opacity="0.65"/><circle cx="13.6" cy="-25.0" r="1.0" fill="#a0c2cf" opacity="0.65"/><circle cx="6.6" cy="-29.1" r="1.0" fill="#2f5a6b" opacity="0.65"/><circle cx="7.1" cy="-11.8" r="0.8" fill="#2f5a6b" opacity="0.65"/><circle cx="-17.1" cy="-27.9" r="1.1" fill="#a0c2cf" opacity="0.65"/><circle cx="-15.3" cy="-30.4" r="1.1" fill="#4f7b8d" opacity="0.65"/><circle cx="13.6" cy="-33.5" r="1.0" fill="#a0c2cf" opacity="0.65"/><circle cx="25.7" cy="-27.4" r="1.4" fill="#8aafbe" opacity="0.65"/><circle cx="24.1" cy="-29.5" r="1.2" fill="#8aafbe" opacity="0.65"/><circle cx="19.5" cy="-35.0" r="1.2" fill="#2f5a6b" opacity="0.65"/><circle cx="-20.1" cy="-31.4" r="1.2" fill="#2f5a6b" opacity="0.65"/><circle cx="5.5" cy="-24.4" r="0.9" fill="#3e6a7b" opacity="0.65"/><circle cx="12.8" cy="-12.8" r="1.5" fill="#2f5a6b" opacity="0.65"/><circle cx="-5.6" cy="-15.5" r="0.8" fill="#4f7b8d" opacity="0.65"/><circle cx="-5.2" cy="-24.0" r="1.2" fill="#2f5a6b" opacity="0.65"/><circle cx="-12.0" cy="-12.4" r="1.0" fill="#2f5a6b" opacity="0.65"/><circle cx="-18.8" cy="-20.7" r="0.9" fill="#2f5a6b" opacity="0.65"/><circle cx="1.3" cy="-11.9" r="1.5" fill="#2f5a6b" opacity="0.65"/><circle cx="1.0" cy="-12.5" r="1.2" fill="#2f5a6b" opacity="0.65"/><circle cx="-18.8" cy="-23.5" r="0.9" fill="#3e6a7b" opacity="0.65"/><circle cx="23.7" cy="-25.8" r="0.9" fill="#8aafbe" opacity="0.65"/><circle cx="9.1" cy="-16.6" r="0.7" fill="#2f5a6b" opacity="0.65"/><circle cx="-9.3" cy="-26.9" r="1.4" fill="#a0c2cf" opacity="0.65"/><circle cx="-2.1" cy="-29.7" r="1.5" fill="#4f7b8d" opacity="0.65"/><circle cx="10.3" cy="-33.2" r="0.8" fill="#2f5a6b" opacity="0.65"/><circle cx="4.3" cy="-24.6" r="0.8" fill="#8aafbe" opacity="0.65"/><circle cx="20.3" cy="-29.1" r="1.0" fill="#3e6a7b" opacity="0.65"/><circle cx="18.0" cy="-34.9" r="1.3" fill="#4f7b8d" opacity="0.65"/><circle cx="18.0" cy="-34.5" r="1.1" fill="#8aafbe" opacity="0.65"/><circle cx="21.0" cy="-33.1" r="1.5" fill="#3e6a7b" opacity="0.65"/><circle cx="26.6" cy="-24.4" r="1.0" fill="#2f5a6b" opacity="0.65"/><circle cx="25.7" cy="-20.6" r="1.4" fill="#8aafbe" opacity="0.65"/><circle cx="1.9" cy="-33.7" r="1.0" fill="#a0c2cf" opacity="0.65"/><circle cx="-2.0" cy="-20.8" r="1.4" fill="#a0c2cf" opacity="0.65"/><circle cx="8.7" cy="-34.1" r="0.6" fill="#8aafbe" opacity="0.65"/><circle cx="18.1" cy="-15.2" r="1.0" fill="#8aafbe" opacity="0.65"/><circle cx="-24.2" cy="-15.4" r="0.7" fill="#4f7b8d" opacity="0.65"/><circle cx="-17.1" cy="-16.3" r="1.0" fill="#2f5a6b" opacity="0.65"/><circle cx="27.7" cy="-29.8" r="1.0" fill="#4f7b8d" opacity="0.65"/><circle cx="-17.6" cy="-26.3" r="0.6" fill="#2f5a6b" opacity="0.65"/><circle cx="15.8" cy="-16.8" r="0.7" fill="#8aafbe" opacity="0.65"/><circle cx="-23.1" cy="-25.2" r="0.7" fill="#2f5a6b" opacity="0.65"/><circle cx="14.6" cy="-23.1" r="0.9" fill="#8aafbe" opacity="0.65"/><circle cx="-17.8" cy="-29.3" r="1.4" fill="#a0c2cf" opacity="0.65"/><circle cx="-23.4" cy="-30.6" r="1.0" fill="#4f7b8d" opacity="0.65"/><circle cx="-18.0" cy="-19.3" r="0.9" fill="#3e6a7b" opacity="0.65"/><circle cx="-16.9" cy="-22.6" r="1.5" fill="#a0c2cf" opacity="0.65"/><circle cx="-20.2" cy="-32.3" r="1.2" fill="#4f7b8d" opacity="0.65"/><circle cx="-8.9" cy="-13.2" r="1.1" fill="#8aafbe" opacity="0.65"/><circle cx="26.2" cy="-29.2" r="1.1" fill="#4f7b8d" opacity="0.65"/><circle cx="-24.1" cy="-34.7" r="0.9" fill="#3e6a7b" opacity="0.65"/><circle cx="0.5" cy="-18.1" r="0.6" fill="#3e6a7b" opacity="0.65"/><circle cx="-2.8" cy="-22.9" r="1.1" fill="#4f7b8d" opacity="0.65"/><circle cx="-22.0" cy="-23.0" r="0.6" fill="#8aafbe" opacity="0.65"/><circle cx="21.9" cy="-16.4" r="1.1" fill="#8aafbe" opacity="0.65"/><circle cx="-1.1" cy="-19.3" r="1.4" fill="#4f7b8d" opacity="0.65"/><circle cx="5.1" cy="-28.4" r="1.1" fill="#a0c2cf" opacity="0.65"/><circle cx="25.3" cy="-11.3" r="0.9" fill="#3e6a7b" opacity="0.65"/><circle cx="6.3" cy="-18.6" r="1.2" fill="#2f5a6b" opacity="0.65"/><circle cx="14.0" cy="-22.3" r="0.9" fill="#a0c2cf" opacity="0.65"/><circle cx="-9.1" cy="-21.8" r="1.3" fill="#3e6a7b" opacity="0.65"/><circle cx="-0.8" cy="-33.5" r="0.6" fill="#a0c2cf" opacity="0.65"/><circle cx="-14.0" cy="-24.1" r="0.7" fill="#2f5a6b" opacity="0.65"/><circle cx="-18.8" cy="-13.8" r="0.9" fill="#4f7b8d" opacity="0.65"/><circle cx="-11.0" cy="-28.4" r="1.3" fill="#2f5a6b" opacity="0.65"/><circle cx="-11.1" cy="-15.1" r="1.2" fill="#8aafbe" opacity="0.65"/><circle cx="-16.2" cy="-16.1" r="1.2" fill="#a0c2cf" opacity="0.65"/><circle cx="21.5" cy="-24.5" r="1.4" fill="#3e6a7b" opacity="0.65"/><circle cx="6.5" cy="-21.4" r="1.4" fill="#4f7b8d" opacity="0.65"/><circle cx="4.7" cy="-34.8" r="0.6" fill="#a0c2cf" opacity="0.65"/><circle cx="1.2" cy="-14.1" r="0.6" fill="#a0c2cf" opacity="0.65"/><circle cx="-3.2" cy="-25.1" r="1.1" fill="#8aafbe" opacity="0.65"/><circle cx="7.4" cy="-29.7" r="1.5" fill="#2f5a6b" opacity="0.65"/><circle cx="12.4" cy="-17.7" r="1.1" fill="#2f5a6b" opacity="0.65"/><circle cx="-21.5" cy="-24.0" r="1.2" fill="#a0c2cf" opacity="0.65"/><circle cx="13.2" cy="-33.3" r="1.2" fill="#4f7b8d" opacity="0.65"/><circle cx="-18.6" cy="-16.9" r="0.8" fill="#4f7b8d" opacity="0.65"/><circle cx="-9.2" cy="-13.9" r="0.9" fill="#8aafbe" opacity="0.65"/><circle cx="-0.3" cy="-31.3" r="0.8" fill="#4f7b8d" opacity="0.65"/><circle cx="-8.3" cy="-20.3" r="1.0" fill="#3e6a7b" opacity="0.65"/><circle cx="-6.3" cy="-33.1" r="1.0" fill="#a0c2cf" opacity="0.65"/><circle cx="2.5" cy="-25.5" r="0.8" fill="#8aafbe" opacity="0.65"/><circle cx="-16.0" cy="-22.9" r="1.4" fill="#4f7b8d" opacity="0.65"/><circle cx="23.3" cy="-31.5" r="0.8" fill="#8aafbe" opacity="0.65"/><circle cx="1.6" cy="-12.2" r="0.8" fill="#3e6a7b" opacity="0.65"/><circle cx="10.1" cy="-24.9" r="1.3" fill="#4f7b8d" opacity="0.65"/><circle cx="-9.4" cy="-32.4" r="0.8" fill="#4f7b8d" opacity="0.65"/><circle cx="19.8" cy="-22.6" r="1.0" fill="#2f5a6b" opacity="0.65"/><circle cx="25.7" cy="-32.2" r="1.3" fill="#4f7b8d" opacity="0.65"/><circle cx="-19.9" cy="-14.1" r="0.9" fill="#a0c2cf" opacity="0.65"/><circle cx="-15.5" cy="-16.4" r="1.1" fill="#3e6a7b" opacity="0.65"/><circle cx="8.7" cy="-17.6" r="0.8" fill="#8aafbe" opacity="0.65"/><circle cx="20.5" cy="-13.8" r="0.9" fill="#4f7b8d" opacity="0.65"/><circle cx="13.0" cy="-25.1" r="1.4" fill="#2f5a6b" opacity="0.65"/><circle cx="-21.5" cy="-33.3" r="0.6" fill="#2f5a6b" opacity="0.65"/><circle cx="16.9" cy="-13.5" r="1.1" fill="#2f5a6b" opacity="0.65"/><circle cx="-0.5" cy="-33.3" r="1.0" fill="#a0c2cf" opacity="0.65"/><circle cx="3.7" cy="-19.4" r="1.2" fill="#4f7b8d" opacity="0.65"/><circle cx="24.5" cy="-12.3" r="1.0" fill="#2f5a6b" opacity="0.65"/><circle cx="-16.0" cy="-29.1" r="1.2" fill="#2f5a6b" opacity="0.65"/><circle cx="-20.6" cy="-11.3" r="1.1" fill="#8aafbe" opacity="0.65"/><circle cx="-18.9" cy="-27.6" r="1.0" fill="#8aafbe" opacity="0.65"/><circle cx="-22.9" cy="-13.8" r="1.5" fill="#3e6a7b" opacity="0.65"/><circle cx="-4.8" cy="-19.8" r="1.4" fill="#4f7b8d" opacity="0.65"/><circle cx="21.7" cy="-17.9" r="0.7" fill="#4f7b8d" opacity="0.65"/><circle cx="-22.2" cy="-12.5" r="1.0" fill="#8aafbe" opacity="0.65"/><circle cx="4.3" cy="-15.8" r="1.2" fill="#4f7b8d" opacity="0.65"/><circle cx="-9.9" cy="-17.1" r="0.8" fill="#8aafbe" opacity="0.65"/><circle cx="-3.6" cy="-18.0" r="0.7" fill="#a0c2cf" opacity="0.65"/><circle cx="-14.3" cy="-18.3" r="1.3" fill="#2f5a6b" opacity="0.65"/><circle cx="-1.4" cy="-29.4" r="0.8" fill="#2f5a6b" opacity="0.65"/><circle cx="13.1" cy="-28.8" r="1.0" fill="#3e6a7b" opacity="0.65"/></g></g><g id="rbig" stroke="#8f785f" fill="none" stroke-linecap="round" stroke-linejoin="round"><path d="M23.6 7.5L24.0 9.8L26.1 11.8L28.7 13.5" stroke-width="0.80"/><path d="M31.2 9.0L33.6 10.8L35.9 12.7" stroke-width="0.80"/><path d="M34.7 10.2L37.7 11.7L40.6 13.3" stroke-width="0.80"/><path d="M-4.8 0.3L-1.9 1.8L1.8 2.6L5.5 3.5L9.5 3.8L12.8 5.1L16.8 5.5L20.8 5.9L23.6 7.5L27.5 8.0L31.2 9.0L34.7 10.2L36.5 12.2L39.8 13.5" stroke-width="1.15"/><path d="M27.7 21.7L28.2 24.0L29.8 26.1" stroke-width="0.80"/><path d="M-3.4 0.3L-1.1 2.1L2.2 3.4L4.2 5.4L5.6 7.5L9.4 8.2L10.8 10.4L11.7 12.6L15.4 13.6L16.9 15.7L20.4 16.9L21.0 19.1L24.4 20.4L27.7 21.7L28.9 23.9" stroke-width="1.15"/><path d="M18.7 18.7L22.7 18.4L26.6 19.0" stroke-width="0.60"/><path d="M21.1 20.5L21.9 22.8L21.7 25.1" stroke-width="0.60"/><path d="M9.7 14.3L11.9 16.2L15.3 17.4L18.7 18.7L21.1 20.5" stroke-width="0.80"/><path d="M21.3 26.1L24.6 27.4L26.5 29.4" stroke-width="0.80"/><path d="M-2.0 0.3L0.1 2.2L3.0 3.8L5.7 5.5L6.3 7.8L6.6 10.1L8.6 12.0L9.7 14.3L11.9 16.2L13.0 18.4L15.6 20.1L16.8 22.3L18.5 24.4L21.3 26.1L23.4 28.0L24.2 30.3L26.5 32.2L29.1 33.9" stroke-width="1.15"/><path d="M21.3 25.5L25.1 26.3L26.9 28.4" stroke-width="0.60"/><path d="M3.2 11.0L3.9 13.3L7.3 14.5L10.5 15.8L13.2 17.6L15.2 19.6L16.9 21.7L18.9 23.7L21.3 25.5" stroke-width="0.80"/><path d="M-0.7 0.3L-0.5 2.6L1.0 4.7L0.0 6.9L2.4 8.8L3.2 11.0L5.4 12.9L5.0 15.2L4.6 17.5L3.9 19.8L5.0 22.0L3.8 24.2L4.6 26.4L3.6 28.6L3.5 30.9L3.5 33.2L5.5 35.2L3.9 37.3L3.4 39.6L2.8 41.9L3.3 44.1L5.2 46.2" stroke-width="1.15"/><path d="M-0.8 11.5L-2.8 13.4L-5.5 15.1L-6.8 17.2L-8.6 19.3L-10.0 21.4L-12.1 23.3L-14.5 25.1L-15.0 27.3" stroke-width="0.80"/><path d="M-3.5 17.7L-0.5 19.1L1.8 21.0L4.6 22.6L6.9 24.5L8.9 26.5" stroke-width="0.80"/><path d="M-5.3 22.1L-4.5 24.3L-2.3 26.2L-0.5 28.2L0.6 30.4L2.3 32.5" stroke-width="0.80"/><path d="M-10.0 28.3L-9.3 30.6L-9.2 32.9L-8.1 35.1L-6.3 37.1" stroke-width="0.80"/><path d="M-12.3 43.7L-14.5 45.6L-17.4 47.0" stroke-width="0.80"/><path d="M0.7 0.3L0.3 2.6L0.8 4.8L-0.4 7.0L-1.3 9.2L-0.8 11.5L-2.7 13.5L-1.7 15.7L-3.5 17.7L-5.1 19.8L-5.3 22.1L-6.6 24.2L-8.0 26.4L-10.0 28.3L-8.5 30.4L-9.6 32.6L-9.0 34.9L-10.0 37.1L-10.7 39.4L-10.5 41.6L-12.3 43.7" stroke-width="1.15"/><path d="M-23.7 26.7L-23.0 29.0L-22.8 31.3" stroke-width="0.80"/><path d="M2.2 0.3L-1.0 1.7L-3.7 3.3L-6.8 4.7L-9.0 6.5L-11.3 8.3L-13.4 10.3L-13.9 12.5L-16.8 14.0L-18.3 16.1L-19.0 18.4L-21.5 20.1L-21.2 22.4L-22.6 24.5L-23.7 26.7L-26.2 28.5L-28.9 30.1L-30.0 32.3L-30.8 34.5L-32.0 36.7" stroke-width="1.15"/><path d="M-22.4 15.8L-24.2 17.8L-24.4 20.1" stroke-width="0.80"/><path d="M-29.2 21.3L-33.0 21.5L-35.7 23.1" stroke-width="0.80"/><path d="M-31.1 23.3L-34.9 23.2L-38.4 24.1" stroke-width="0.80"/><path d="M3.6 0.3L0.2 1.6L-3.3 2.4L-6.4 3.8L-9.2 5.3L-11.1 7.3L-14.7 8.1L-17.5 9.6L-18.8 11.8L-20.4 13.9L-22.4 15.8L-24.3 17.8L-26.6 19.6L-29.2 21.3L-31.1 23.3L-31.6 25.6L-31.7 27.9" stroke-width="1.15"/><path d="M5.1 0.3L2.1 1.9L-0.9 3.3L-3.4 5.1L-7.1 5.6L-10.5 6.7L-13.9 7.7L-17.3 8.6L-20.8 9.6L-22.5 11.6L-26.1 12.4L-29.0 13.9L-31.9 15.4L-33.7 17.4L-36.5 19.0L-40.0 19.9" stroke-width="1.15"/></g><g id="rbig2" stroke="#8f785f" fill="none" stroke-linecap="round" stroke-linejoin="round"><path d="M21.8 5.1L24.2 5.0L25.9 5.7" stroke-width="0.80"/><path d="M-4.3 0.1L-1.2 0.7L1.5 0.7L3.8 0.6L6.1 0.9L7.9 1.6L9.8 2.3L12.1 2.5L14.3 2.9L16.6 3.1L18.8 3.4L20.8 4.1L21.8 5.1L23.6 5.9L24.9 6.9" stroke-width="1.15"/><path d="M3.5 7.4L5.5 8.1L7.4 8.7" stroke-width="0.60"/><path d="M3.2 3.9L3.3 5.1L3.5 6.2L3.5 7.4L3.4 8.6L4.6 9.6L5.2 10.7L4.8 11.9" stroke-width="0.80"/><path d="M-3.1 0.1L-0.5 0.9L0.5 2.0L1.5 3.1L3.2 3.9L5.4 4.3L7.0 5.1L9.0 5.8L10.6 6.6L12.6 7.2L14.5 7.9L16.5 8.4L18.1 9.3L20.0 10.0L21.7 10.8L22.9 11.8L24.0 12.8L25.7 13.6L27.0 14.6" stroke-width="1.15"/><path d="M13.1 7.2L13.1 8.4L13.7 9.5" stroke-width="0.60"/><path d="M4.3 3.7L6.3 4.3L8.0 5.0L10.2 5.5L11.1 6.6L13.1 7.2L14.2 8.2" stroke-width="0.80"/><path d="M5.0 4.8L4.0 5.8L2.9 6.9L3.0 8.1L3.1 9.2L2.1 10.3L0.8 11.3L0.9 12.4L-0.8 13.3" stroke-width="0.80"/><path d="M15.1 15.9L15.3 17.1L15.7 18.3" stroke-width="0.60"/><path d="M8.8 12.6L10.1 13.6L11.3 14.6L13.1 15.3L15.1 15.9L16.8 16.7" stroke-width="0.80"/><path d="M-1.8 0.1L0.7 0.8L2.3 1.6L2.7 2.8L4.3 3.7L5.0 4.8L5.7 5.9L5.5 7.1L6.6 8.1L6.5 9.3L7.2 10.4L8.2 11.5L8.8 12.6L10.1 13.5L10.4 14.7L12.0 15.6L13.5 16.5L13.7 17.6L14.7 18.7L14.8 19.9L15.5 21.0L16.7 22.0" stroke-width="1.15"/><path d="M-0.3 3.6L1.4 4.4L3.2 5.2L4.5 6.2L4.6 7.3L5.3 8.5L6.4 9.5" stroke-width="0.80"/><path d="M-0.6 0.1L-0.3 1.3L0.3 2.5L-0.3 3.6L-0.9 4.7L-0.3 5.9L-0.9 7.0L-0.6 8.2L0.2 9.3L0.1 10.5L0.3 11.7L0.9 12.8L1.6 13.9L2.1 15.1L3.2 16.1L3.3 17.3L4.6 18.3L5.3 19.4" stroke-width="1.15"/><path d="M-3.1 3.3L-2.4 4.4L-0.6 5.4L0.4 6.5L1.5 7.5L2.7 8.6L2.9 9.7L4.4 10.6L4.1 11.8" stroke-width="0.80"/><path d="M0.4 0.1L-1.2 1.1L-3.1 2.1L-3.1 3.3L-2.1 4.4L-3.9 5.4L-3.9 6.6L-3.8 7.8L-5.5 8.8L-4.9 9.9L-3.8 11.0L-2.6 12.1L-1.8 13.3L-1.5 14.4L-0.8 15.6L-2.4 16.6L-1.4 17.7L-1.8 18.9L-2.3 20.1L-3.6 21.1" stroke-width="1.15"/><path d="M-21.0 12.7L-19.8 13.8L-18.1 14.9" stroke-width="0.60"/><path d="M-18.3 9.4L-19.0 10.5L-19.9 11.6L-21.0 12.7L-20.6 13.9" stroke-width="0.80"/><path d="M-24.8 15.7L-26.1 16.8L-27.9 17.8" stroke-width="0.80"/><path d="M1.2 0.1L-0.3 1.1L-1.7 2.1L-3.2 3.2L-5.4 4.1L-8.1 4.8L-10.6 5.6L-13.2 6.4L-14.4 7.5L-16.1 8.5L-18.3 9.4L-20.0 10.4L-22.1 11.3L-23.8 12.3L-23.4 13.5L-25.0 14.5L-24.8 15.7L-25.7 16.8L-27.7 17.8" stroke-width="1.15"/><path d="M2.1 0.1L-0.2 0.5L-3.5 0.8L-6.0 1.6L-8.7 2.3L-10.7 3.3L-12.7 4.3L-13.7 5.4L-16.8 5.9L-18.1 7.0L-18.9 8.1L-21.1 9.0L-23.1 9.9L-25.1 10.9L-26.2 12.0L-29.1 12.6L-30.7 13.7" stroke-width="1.15"/><path d="M-16.1 4.2L-16.9 5.3L-16.4 6.5" stroke-width="0.80"/><path d="M-20.4 6.0L-20.4 7.2L-20.7 8.3" stroke-width="0.80"/><path d="M2.9 0.1L1.0 0.8L-1.3 1.5L-4.2 2.1L-7.7 2.2L-10.3 2.9L-13.0 3.7L-16.1 4.2L-18.4 5.1L-20.4 6.0L-22.1 7.0L-24.1 8.0L-26.5 8.8L-28.6 9.8" stroke-width="1.15"/></g><g id="rbig3" stroke="#8f785f" fill="none" stroke-linecap="round" stroke-linejoin="round"><path d="M-4.1 0.4L-1.2 1.7L1.9 3.5L6.4 3.8L11.0 4.0L14.4 5.9L18.3 7.5L22.5 8.5L25.2 10.9L29.7 11.3L34.0 12.3L36.4 14.8L38.5 17.3L40.0 20.1" stroke-width="1.15"/><path d="M13.0 9.8L12.5 12.7L14.7 15.3L14.5 18.2L16.5 20.8L16.9 23.7L17.7 26.6" stroke-width="0.80"/><path d="M26.5 17.6L25.1 20.4L27.5 22.8L29.6 25.4L28.6 28.3" stroke-width="0.80"/><path d="M-2.9 0.4L-0.3 2.1L2.3 4.4L5.5 6.5L9.2 8.2L13.0 9.8L16.4 11.7L19.5 13.9L23.2 15.6L26.5 17.6L30.2 19.2L31.3 22.1L32.6 24.9L33.6 27.7L35.0 30.5L35.3 33.4L36.5 36.2L38.1 38.9" stroke-width="1.15"/><path d="M19.5 22.0L21.7 24.6L22.6 27.4" stroke-width="0.60"/><path d="M5.9 10.5L9.2 12.5L11.6 15.0L14.3 17.3L16.4 19.9L19.5 22.0L23.6 23.2" stroke-width="0.80"/><path d="M-1.7 0.4L-0.8 3.1L1.7 5.4L4.6 7.7L5.9 10.5L8.4 12.9L12.1 14.6L13.9 17.3L15.6 20.0L16.6 22.9L20.0 24.8L19.7 27.7L22.2 30.1L22.1 33.1L23.1 35.9L25.5 38.4L28.0 40.8L31.1 43.0L33.9 45.2" stroke-width="1.15"/><path d="M16.1 27.9L17.1 30.8L15.6 33.5" stroke-width="0.60"/><path d="M2.9 17.2L5.9 19.4L9.8 20.8L13.5 22.6L16.0 25.0L16.1 27.9" stroke-width="0.80"/><path d="M11.5 26.4L10.8 29.2L10.3 32.1" stroke-width="0.60"/><path d="M3.3 20.1L6.0 22.4L10.2 23.6L11.5 26.4L12.7 29.2L13.9 32.0L16.4 34.4" stroke-width="0.80"/><path d="M6.0 36.5L8.3 39.0L11.4 41.2" stroke-width="0.80"/><path d="M-0.6 0.4L-0.9 3.3L0.8 5.9L1.6 8.7L3.0 11.5L3.9 14.3L2.9 17.2L3.3 20.1L2.4 22.9L4.6 25.5L5.0 28.4L5.3 31.3L3.7 34.0L6.0 36.5L8.2 39.1L8.1 42.0L6.4 44.7L5.8 47.6" stroke-width="1.15"/><path d="M-6.2 38.8L-3.8 40.7L-1.2 42.5" stroke-width="0.80"/><path d="M-5.3 41.6L-5.9 44.5L-8.3 46.4" stroke-width="0.80"/><path d="M0.8 0.4L0.6 3.3L0.6 6.2L0.5 9.1L1.6 11.9L0.9 14.8L1.4 17.7L-0.8 20.1L-2.5 22.6L-1.7 25.4L-3.0 28.1L-2.1 30.9L-3.8 33.4L-4.9 36.1L-6.2 38.8L-5.3 41.6L-6.8 44.2L-5.5 46.9L-6.6 49.6" stroke-width="1.15"/><path d="M-2.2 21.4L-2.0 24.3L-3.0 27.1" stroke-width="0.60"/><path d="M-4.3 10.4L-2.7 12.9L-2.4 15.8L-3.2 18.6L-2.2 21.4L-1.0 24.1L-0.4 27.0L0.2 29.8" stroke-width="0.80"/><path d="M-5.0 13.2L-3.7 15.9L-3.9 18.8L-2.7 21.5L-1.1 24.1L-0.6 26.9" stroke-width="0.80"/><path d="M-7.9 18.4L-10.3 20.4L-12.0 22.9L-13.7 25.3L-16.3 27.1L-19.4 28.0" stroke-width="0.80"/><path d="M-16.5 26.3L-19.7 26.5L-22.9 27.1" stroke-width="0.60"/><path d="M-18.9 28.3L-20.7 30.7L-21.3 33.5" stroke-width="0.60"/><path d="M-10.3 20.4L-13.4 21.2L-14.7 23.9L-16.5 26.3L-18.9 28.3L-21.4 30.1" stroke-width="0.80"/><path d="M-12.9 25.2L-15.8 26.6L-18.6 27.9L-21.4 29.4L-24.4 30.6L-25.5 33.3" stroke-width="0.80"/><path d="M2.4 0.4L-0.3 2.6L-2.4 4.8L-3.7 7.5L-4.3 10.4L-5.0 13.2L-6.6 15.8L-7.9 18.4L-10.3 20.4L-12.8 22.3L-12.9 25.2L-14.1 27.9L-15.9 30.3L-17.5 32.8L-18.3 35.7L-18.5 38.6L-19.6 41.3L-19.8 44.2L-19.3 47.1L-19.0 50.0" stroke-width="1.15"/><path d="M-4.1 5.9L-7.3 5.2L-10.5 5.7L-13.1 7.4L-16.2 8.4" stroke-width="0.80"/><path d="M-12.3 14.6L-11.4 17.4L-11.2 20.3L-11.3 23.2L-11.1 26.1" stroke-width="0.80"/><path d="M-18.3 27.9L-21.4 28.8L-24.1 30.4" stroke-width="0.80"/><path d="M4.1 0.4L-0.2 1.3L-2.1 3.6L-4.1 5.9L-5.6 8.5L-7.9 10.6L-10.7 12.0L-12.3 14.6L-14.0 17.0L-15.0 19.8L-16.1 22.6L-16.7 25.4L-18.3 27.9L-18.6 30.8L-19.9 33.5L-20.9 36.3" stroke-width="1.15"/><path d="M-34.3 19.2L-36.8 21.1L-40.0 21.3" stroke-width="0.80"/><path d="M5.7 0.4L1.3 1.0L-2.2 1.9L-5.4 2.3L-8.4 3.6L-11.5 4.4L-14.7 4.9L-17.5 6.4L-19.5 8.6L-22.1 10.4L-23.3 13.1L-26.2 14.5L-29.2 15.7L-32.0 17.2L-34.3 19.2" stroke-width="1.15"/></g><g id="rbare1" stroke="#8f785f" fill="none" stroke-linecap="round" stroke-linejoin="round"><path d="M-3.3 0.2L-0.9 0.8L1.1 1.8L3.8 2.0L6.0 2.8L8.7 3.2L11.2 3.8L13.9 4.0L15.4 5.2L18.0 5.8L19.9 6.8L21.9 7.8L24.4 8.3L27.0 8.9" stroke-width="1.15"/><path d="M5.5 5.8L5.4 7.2L6.1 8.6L7.7 9.7L9.1 10.9" stroke-width="0.80"/><path d="M7.4 6.8L10.2 6.8L12.9 7.3L15.1 8.1" stroke-width="0.80"/><path d="M-2.4 0.2L-1.2 1.5L1.1 2.2L2.1 3.5L3.9 4.6L5.5 5.8L7.4 6.8L9.5 7.8L11.8 8.5L14.0 9.4L15.8 10.5L17.9 11.4L19.6 12.5L21.1 13.7L22.6 14.9L24.1 16.1" stroke-width="1.15"/><path d="M7.6 6.8L8.6 8.2L10.4 9.2L12.8 10.0L14.9 10.9L17.5 11.4L19.8 12.2" stroke-width="0.80"/><path d="M15.2 25.7L17.5 26.5L19.2 27.6" stroke-width="0.80"/><path d="M-1.4 0.2L0.9 0.9L1.7 2.3L3.4 3.4L5.0 4.6L7.2 5.4L7.6 6.8L7.8 8.2L9.5 9.4L9.4 10.8L9.8 12.2L10.6 13.6L10.3 15.0L11.2 16.3L12.5 17.6L12.0 19.0L12.1 20.4L11.7 21.8L13.1 23.1L13.9 24.4L15.2 25.7L16.8 26.8" stroke-width="1.15"/><path d="M13.6 13.5L13.2 14.9L13.7 16.3" stroke-width="0.60"/><path d="M3.8 6.8L5.3 8.0L6.2 9.3L8.0 10.4L9.5 11.6L11.5 12.6L13.6 13.5L16.1 14.1" stroke-width="0.80"/><path d="M-0.5 17.2L-2.5 18.1L-2.9 19.6" stroke-width="0.60"/><path d="M3.2 10.9L1.6 12.1L1.9 13.5L0.3 14.6L-1.2 15.8L-0.5 17.2L-2.2 18.3" stroke-width="0.80"/><path d="M-0.5 0.2L-0.4 1.6L0.0 3.0L0.8 4.4L2.4 5.5L3.8 6.8L4.5 8.1L3.9 9.5L3.2 10.9L2.3 12.3L1.7 13.6L2.4 15.0L3.2 16.4L4.7 17.5L3.9 18.9L3.6 20.3L3.9 21.7L4.4 23.1L5.8 24.3" stroke-width="1.15"/><path d="M-10.6 8.8L-9.4 10.1L-8.6 11.4L-9.4 12.8" stroke-width="0.60"/><path d="M-16.5 11.6L-15.8 12.9L-15.9 14.4" stroke-width="0.60"/><path d="M-2.0 5.5L-4.4 6.1L-6.4 7.0L-8.5 7.9L-10.6 8.8L-12.1 9.9L-14.4 10.7L-16.5 11.6L-17.4 12.9L-18.5 14.2" stroke-width="0.80"/><path d="M0.5 0.2L0.2 1.6L-0.8 2.9L-2.3 4.1L-2.0 5.5L-2.0 6.9L-3.2 8.2L-2.8 9.6L-2.2 10.9L-1.9 12.4L-2.4 13.8L-2.7 15.2L-3.0 16.6L-3.0 18.0L-2.4 19.4L-1.4 20.7L-0.6 22.1L-1.1 23.5L-0.8 24.9L-1.0 26.3L-0.8 27.7L-1.9 29.0" stroke-width="1.15"/><path d="M-6.1 10.0L-6.4 11.5L-4.9 12.7L-5.4 14.1L-4.4 15.4L-3.3 16.7L-3.6 18.1L-3.4 19.5" stroke-width="0.80"/><path d="M-9.5 12.2L-8.1 13.4L-8.5 14.8L-6.9 15.9L-5.7 17.2L-5.3 18.6" stroke-width="0.80"/><path d="M-11.3 13.3L-13.5 14.1L-15.9 14.6L-17.2 15.9" stroke-width="0.80"/><path d="M-16.0 21.1L-16.2 22.5L-15.6 23.9" stroke-width="0.80"/><path d="M1.5 0.2L-0.8 0.9L-2.0 2.2L-2.0 3.6L-4.0 4.6L-4.3 6.0L-4.5 7.4L-4.8 8.8L-6.1 10.0L-7.8 11.1L-9.5 12.2L-11.3 13.3L-12.3 14.6L-13.7 15.8L-13.7 17.2L-14.1 18.6L-15.9 19.7L-16.0 21.1L-17.7 22.2L-19.4 23.3L-21.1 24.4" stroke-width="1.15"/><path d="M-13.4 11.3L-15.9 10.8L-18.5 10.9" stroke-width="0.60"/><path d="M-7.8 8.4L-9.7 9.3L-11.8 10.2L-13.4 11.3" stroke-width="0.80"/><path d="M-19.1 17.6L-20.9 18.7L-22.8 19.7" stroke-width="0.80"/><path d="M2.5 0.2L0.8 1.3L-0.9 2.4L-2.2 3.6L-3.3 4.9L-5.4 5.8L-6.6 7.1L-7.8 8.4L-9.5 9.5L-11.0 10.6L-11.5 12.0L-12.9 13.2L-14.7 14.3L-16.9 15.1L-18.3 16.3L-19.1 17.6" stroke-width="1.15"/><path d="M3.5 0.2L0.8 0.6L-1.9 0.7L-3.5 1.8L-5.4 2.8L-7.7 3.6L-10.3 3.8L-12.3 4.7L-13.9 5.8L-15.6 6.9L-17.7 7.8L-20.0 8.5L-22.5 8.9L-25.0 9.4" stroke-width="1.15"/></g><g id="rbare2" stroke="#8f785f" fill="none" stroke-linecap="round" stroke-linejoin="round"><path d="M2.6 0.9L4.6 0.7L6.8 0.5L8.9 0.6L11.1 0.5L13.1 0.8" stroke-width="0.63"/><path d="M9.4 2.2L9.8 2.8L10.7 3.3" stroke-width="0.63"/><path d="M-2.2 0.1L-0.7 0.4L1.3 0.4L2.6 0.9L4.1 1.3L5.4 1.8L7.5 1.9L9.4 2.2L10.7 2.7L12.9 2.8L13.9 3.3L15.5 3.7L16.5 4.2" stroke-width="0.90"/><path d="M17.6 6.9L18.5 7.4L20.6 7.6" stroke-width="0.63"/><path d="M-1.5 0.1L0.2 0.3L1.3 0.8L2.2 1.3L4.3 1.5L5.0 2.0L5.7 2.5L7.0 3.0L9.0 3.3L10.8 3.6L12.3 4.0L12.8 4.5L13.4 5.1L15.0 5.5L15.7 6.0L17.6 6.3L17.6 6.9" stroke-width="0.90"/><path d="M4.9 3.5L4.4 4.0L4.7 4.6L3.2 5.0L2.8 5.5L3.2 6.1L1.9 6.6L0.6 7.0" stroke-width="0.63"/><path d="M-0.7 0.1L-0.8 0.6L0.6 1.0L2.3 1.4L2.9 1.9L3.1 2.5L3.4 3.0L4.9 3.5L5.4 4.0L7.0 4.4L7.6 5.0L8.6 5.5L9.0 6.0L10.5 6.4L11.6 6.9L11.3 7.5L11.8 8.0L11.2 8.6L11.9 9.1L11.6 9.7" stroke-width="0.90"/><path d="M-0.4 1.8L-0.0 2.3L1.0 2.8L2.5 3.2L3.2 3.8L4.4 4.2L4.2 4.8L4.7 5.3L4.9 5.9L4.9 6.5L4.6 7.0" stroke-width="0.63"/><path d="M-5.0 4.6L-6.6 4.8L-8.1 5.1" stroke-width="0.60"/><path d="M-1.3 2.8L-2.7 3.2L-2.7 3.7L-4.0 4.1L-5.0 4.6L-5.7 5.1L-5.8 5.7" stroke-width="0.63"/><path d="M-2.0 3.4L-2.2 3.9L-3.3 4.4L-3.4 4.9L-4.8 5.3L-5.4 5.8L-5.3 6.4L-5.8 6.9L-6.6 7.4" stroke-width="0.63"/><path d="M-2.1 4.5L-0.5 4.8L0.6 5.2L1.8 5.7L3.2 6.1L4.4 6.6L4.9 7.2" stroke-width="0.63"/><path d="M-4.1 9.9L-3.9 10.5L-2.7 10.9" stroke-width="0.63"/><path d="M0.0 0.1L-0.2 0.6L-0.3 1.2L-0.4 1.8L-0.6 2.3L-1.3 2.8L-2.0 3.4L-1.8 3.9L-2.1 4.5L-2.8 5.0L-2.8 5.6L-2.9 6.1L-2.4 6.7L-2.8 7.2L-3.1 7.8L-3.4 8.3L-4.0 8.9L-3.4 9.4L-4.1 9.9L-4.3 10.5L-3.7 11.0" stroke-width="0.90"/><path d="M-7.6 4.9L-7.6 5.5L-7.3 6.0L-7.5 6.6L-7.2 7.1L-6.3 7.6L-6.8 8.2" stroke-width="0.63"/><path d="M-12.0 8.4L-10.8 8.9L-11.0 9.4" stroke-width="0.63"/><path d="M0.9 0.1L-0.5 0.5L-1.1 1.0L-1.7 1.5L-2.9 2.0L-3.5 2.5L-4.0 3.0L-5.2 3.4L-5.5 4.0L-6.7 4.4L-7.6 4.9L-8.6 5.3L-9.1 5.9L-10.2 6.3L-10.2 6.9L-11.2 7.4L-11.9 7.9L-12.0 8.4L-12.1 9.0L-12.7 9.5L-12.8 10.1" stroke-width="0.90"/><path d="M-6.6 2.7L-8.2 3.0L-9.6 3.3L-11.2 3.5L-13.0 3.5L-14.0 4.0" stroke-width="0.63"/><path d="M-8.5 4.3L-10.2 4.4L-11.9 4.5L-13.5 4.8" stroke-width="0.63"/><path d="M1.9 0.1L-0.1 0.3L-1.8 0.5L-2.9 0.9L-4.2 1.3L-5.6 1.7L-6.2 2.2L-6.6 2.7L-7.3 3.3L-8.3 3.7L-8.5 4.3L-9.0 4.8L-10.5 5.1L-11.9 5.5L-13.0 5.9L-13.2 6.5L-13.4 7.0L-14.7 7.4" stroke-width="0.90"/><path d="M2.8 0.1L0.6 0.0L-0.9 0.4L-2.3 0.7L-4.1 0.7L-5.6 1.0L-7.0 1.3L-8.6 1.6L-10.4 1.7L-12.0 1.9L-13.5 2.2L-15.1 2.3L-15.9 2.9L-16.7 3.4L-18.0 3.7" stroke-width="0.90"/></g><g id="rbare3" stroke="#8f785f" fill="none" stroke-linecap="round" stroke-linejoin="round"><path d="M-2.5 0.1L-0.5 0.2L1.3 0.4L3.1 0.6L5.0 0.7L6.9 0.7L8.6 0.9L9.9 1.4L11.1 1.8L12.8 2.1L13.9 2.6L15.7 2.7L16.9 3.2L18.6 3.5" stroke-width="0.90"/><path d="M11.7 1.9L12.1 2.5L13.1 3.0" stroke-width="0.60"/><path d="M4.2 1.6L6.1 1.7L8.0 1.7L9.9 1.7L11.7 1.9L13.0 2.3L14.4 2.7L16.0 3.1L17.9 3.1" stroke-width="0.63"/><path d="M12.1 4.8L13.9 5.0L15.8 5.1L17.0 5.6" stroke-width="0.63"/><path d="M17.5 7.3L19.1 7.6L20.0 8.1" stroke-width="0.63"/><path d="M-1.6 0.1L0.0 0.4L1.5 0.8L2.7 1.3L4.2 1.6L5.8 1.9L7.2 2.3L8.2 2.9L9.6 3.3L9.9 3.9L10.7 4.4L12.1 4.8L13.7 5.2L14.9 5.7L15.4 6.2L16.2 6.8L17.5 7.3L18.3 7.8L19.8 8.2" stroke-width="0.90"/><path d="M0.2 1.8L2.0 2.0L3.5 2.4L5.3 2.6L6.7 3.0L8.1 3.4L9.4 3.9L10.7 4.3" stroke-width="0.63"/><path d="M6.6 7.3L6.3 7.9L6.2 8.5" stroke-width="0.63"/><path d="M-0.8 0.1L-0.9 0.7L0.1 1.2L0.2 1.8L0.3 2.4L0.8 3.0L0.8 3.6L0.9 4.2L2.0 4.7L3.0 5.2L4.2 5.7L4.2 6.3L5.4 6.8L6.6 7.3L6.7 7.9L7.4 8.5L7.9 9.0L8.1 9.7L8.6 10.2" stroke-width="0.90"/><path d="M0.7 9.4L1.8 9.9L3.6 10.1" stroke-width="0.60"/><path d="M-1.5 7.7L-0.3 8.2L0.2 8.8L0.7 9.4L0.7 10.0" stroke-width="0.63"/><path d="M-0.2 8.9L1.4 9.2L2.2 9.7L3.8 10.1" stroke-width="0.63"/><path d="M0.0 0.1L0.9 0.6L0.8 1.2L1.5 1.8L1.2 2.4L1.3 3.0L0.7 3.6L0.5 4.2L-0.2 4.7L-0.4 5.3L-0.3 6.0L-0.4 6.6L-0.8 7.2L-1.5 7.7L-0.9 8.3L-0.2 8.9L0.6 9.4L0.3 10.0L0.8 10.6L0.7 11.2L0.9 11.8L1.2 12.4L1.8 13.0" stroke-width="0.90"/><path d="M-6.7 8.4L-6.1 9.0L-5.4 9.5" stroke-width="0.63"/><path d="M0.8 0.1L0.5 0.7L-0.8 1.1L-1.9 1.6L-2.7 2.2L-2.5 2.8L-2.7 3.4L-3.2 4.0L-4.5 4.5L-5.6 5.0L-5.3 5.6L-4.9 6.2L-6.3 6.6L-6.5 7.2L-7.2 7.8L-6.7 8.4L-6.8 9.0L-7.2 9.6" stroke-width="0.90"/><path d="M-12.6 2.8L-14.2 2.4L-16.2 2.4" stroke-width="0.60"/><path d="M-7.1 2.3L-9.0 2.2L-10.9 2.5L-12.6 2.8L-14.5 2.9L-16.5 2.9L-17.3 3.5" stroke-width="0.63"/><path d="M1.6 0.1L0.8 0.6L-0.8 1.0L-2.7 1.2L-3.7 1.7L-5.5 1.9L-7.1 2.3L-7.6 2.9L-9.3 3.2L-11.0 3.5L-12.5 3.9L-14.0 4.3L-15.5 4.6L-16.2 5.2L-17.0 5.8L-18.3 6.2L-18.6 6.8" stroke-width="0.90"/><path d="M-2.8 1.9L-4.6 1.6L-6.6 1.6L-8.5 1.5" stroke-width="0.63"/><path d="M-11.2 4.3L-12.1 4.8L-12.7 5.4" stroke-width="0.63"/><path d="M2.4 0.1L1.1 0.5L-0.1 1.0L-1.4 1.5L-2.8 1.9L-4.3 2.3L-5.8 2.7L-7.0 3.2L-8.7 3.4L-10.5 3.7L-11.2 4.3L-12.0 4.8L-13.8 5.1" stroke-width="0.90"/></g><g id="rsmall" stroke="#8f785f" fill="none" stroke-linecap="round" stroke-linejoin="round"><path d="M5.6 3.0L8.3 2.9L10.7 3.5L13.2 4.1L15.7 4.6L18.4 4.5L21.1 4.4" stroke-width="0.80"/><path d="M-3.5 0.2L-1.5 1.1L1.2 1.3L3.3 2.2L5.6 3.0L8.2 3.3L10.5 4.0L12.5 5.0L15.1 5.3L17.8 5.6L19.8 6.5L21.6 7.6L23.2 8.7L25.0 9.7L27.0 10.6" stroke-width="1.15"/><path d="M6.1 10.4L5.3 11.7L3.3 12.6" stroke-width="0.60"/><path d="M4.0 2.5L3.6 3.8L4.2 5.1L5.3 6.4L5.2 7.7L5.6 9.1L6.1 10.4L6.5 11.8" stroke-width="0.80"/><path d="M15.0 7.8L16.7 8.9L18.9 9.6L21.4 10.2L24.0 10.7" stroke-width="0.80"/><path d="M19.1 12.5L18.4 13.9L18.2 15.2" stroke-width="0.80"/><path d="M20.7 13.7L23.3 14.0L24.7 15.2" stroke-width="0.80"/><path d="M-2.5 0.2L0.2 0.5L2.2 1.4L4.0 2.5L6.6 2.9L8.7 3.8L10.9 4.6L12.1 5.8L14.4 6.5L15.0 7.8L17.3 8.6L17.9 9.9L18.6 11.2L19.1 12.5L20.7 13.7L21.8 14.9L23.9 15.7L24.9 17.0" stroke-width="1.15"/><path d="M5.9 8.5L4.1 9.5L4.1 10.9L4.0 12.2L2.2 13.3" stroke-width="0.80"/><path d="M9.2 10.6L10.8 11.7L12.2 12.9L14.3 13.8L16.1 14.8" stroke-width="0.80"/><path d="M9.5 15.8L11.8 16.6L13.0 17.8" stroke-width="0.60"/><path d="M10.3 11.9L9.0 13.1L9.3 14.4L9.5 15.8" stroke-width="0.80"/><path d="M9.8 14.6L11.0 15.8L12.3 17.0L14.9 17.4" stroke-width="0.80"/><path d="M11.9 17.0L11.3 18.3L10.1 19.5" stroke-width="0.80"/><path d="M14.5 21.8L14.9 23.2L13.5 24.3" stroke-width="0.80"/><path d="M-1.5 0.2L-0.3 1.4L1.9 2.2L3.4 3.3L4.7 4.5L4.8 5.9L4.8 7.2L5.9 8.5L7.2 9.7L9.2 10.6L10.3 11.9L10.2 13.2L9.8 14.6L11.6 15.6L11.9 17.0L11.5 18.3L13.4 19.3L14.6 20.5L14.5 21.8" stroke-width="1.15"/><path d="M2.1 9.1L0.9 10.3L-0.9 11.4L-1.1 12.7L-1.3 14.1L-1.9 15.4L-3.8 16.4" stroke-width="0.80"/><path d="M6.7 19.4L5.8 20.7L5.6 22.1" stroke-width="0.80"/><path d="M-0.5 0.2L0.0 1.5L1.0 2.8L2.5 3.9L2.3 5.3L3.6 6.5L2.6 7.8L2.1 9.1L2.7 10.5L3.8 11.7L3.3 13.0L4.0 14.3L3.6 15.7L4.4 17.0L5.3 18.3L6.7 19.4L8.1 20.6L8.8 21.9L9.1 23.3L10.2 24.5L10.7 25.9L10.7 27.2" stroke-width="1.15"/><path d="M-9.0 11.2L-7.7 12.4L-6.9 13.8L-6.5 15.1L-6.3 16.5L-5.2 17.7L-5.3 19.1L-5.0 20.4" stroke-width="0.80"/><path d="M-9.3 27.0L-8.0 28.2L-8.1 29.6" stroke-width="0.80"/><path d="M-8.6 28.3L-9.0 29.7L-11.1 30.6" stroke-width="0.80"/><path d="M0.5 0.2L-0.7 1.4L-2.4 2.5L-3.2 3.8L-2.9 5.2L-3.5 6.5L-4.5 7.8L-6.0 8.9L-7.6 10.0L-9.0 11.2L-10.0 12.5L-9.2 13.8L-9.1 15.1L-8.3 16.5L-9.3 17.7L-8.4 19.0L-8.5 20.4L-9.2 21.7L-9.0 23.1L-10.1 24.3L-10.0 25.7L-9.3 27.0L-8.6 28.3" stroke-width="1.15"/><path d="M-8.0 5.1L-7.8 6.5L-6.2 7.6L-4.5 8.7L-3.6 10.0L-2.4 11.2" stroke-width="0.80"/><path d="M1.5 0.2L-0.7 1.0L-2.8 1.9L-4.5 3.0L-6.1 4.1L-8.0 5.1L-7.9 6.5L-8.9 7.8L-11.1 8.6L-11.3 10.0L-13.0 11.1L-14.7 12.2L-14.6 13.5L-14.3 14.9L-16.2 15.9L-16.9 17.2L-17.8 18.5" stroke-width="1.15"/><path d="M-15.6 10.0L-17.7 10.9L-20.5 11.1L-23.1 11.6L-25.6 12.2" stroke-width="0.80"/><path d="M-20.7 16.0L-23.1 16.7L-25.9 16.9" stroke-width="0.80"/><path d="M2.4 0.2L1.3 1.4L-1.0 2.2L-3.5 2.8L-5.0 3.9L-6.5 5.1L-8.5 6.0L-10.1 7.2L-10.9 8.5L-13.2 9.3L-15.6 10.0L-16.1 11.3L-16.5 12.7L-18.8 13.4L-19.5 14.7L-20.7 16.0L-22.4 17.0L-23.9 18.2" stroke-width="1.15"/><path d="M-15.5 5.8L-17.6 6.7L-19.6 7.7" stroke-width="0.80"/><path d="M3.4 0.2L1.1 0.9L-1.3 1.6L-3.5 2.4L-5.8 3.3L-8.4 3.8L-11.1 4.1L-13.3 5.0L-15.5 5.8L-17.5 6.8L-20.0 7.4L-22.1 8.3L-23.1 9.6L-25.5 10.3L-27.0 11.4" stroke-width="1.15"/></g><g id="rac" stroke="#a8957f" fill="none" stroke-linecap="round" stroke-linejoin="round"><path d="M-1.3 0.1L-0.3 0.3L1.1 0.3L2.4 0.7L3.7 1.1L5.1 1.4L6.1 2.1L7.2 2.9L8.0 3.8L9.3 4.2L10.2 5.1L11.5 5.5L12.1 6.5L13.3 7.0" stroke-width="0.70"/><path d="M12.8 14.7L13.6 15.6L14.6 16.4" stroke-width="0.60"/><path d="M-0.8 0.1L0.2 0.7L0.9 1.6L1.8 2.4L2.7 3.3L3.5 4.2L4.7 4.8L5.0 5.9L5.6 6.9L6.7 7.5L7.3 8.6L8.1 9.5L9.2 10.2L9.8 11.2L10.6 12.1L10.8 13.2L11.9 13.9L12.8 14.7L13.0 15.8L13.3 16.9" stroke-width="0.70"/><path d="M1.8 8.6L2.5 9.5L3.4 10.4L4.0 11.4L5.4 11.8L5.9 12.8" stroke-width="0.60"/><path d="M3.6 18.0L2.4 18.6L1.7 19.5" stroke-width="0.60"/><path d="M-0.3 0.1L-0.2 1.2L-0.4 2.3L-0.2 3.4L0.4 4.4L0.9 5.4L0.9 6.5L1.3 7.6L1.8 8.6L2.7 9.5L3.2 10.5L3.4 11.6L3.1 12.7L2.8 13.8L3.3 14.8L3.9 15.8L3.9 16.9L3.6 18.0L3.2 19.0" stroke-width="0.70"/><path d="M-0.7 4.3L-1.2 5.3L-1.4 6.3L-2.1 7.1L-2.6 8.1L-3.2 9.0L-3.7 10.0L-4.2 10.9" stroke-width="0.60"/><path d="M-3.4 9.3L-3.9 10.3L-3.6 11.3" stroke-width="0.60"/><path d="M-4.3 9.7L-5.3 10.0L-6.3 10.0" stroke-width="0.60"/><path d="M-0.9 7.5L-1.8 8.0L-2.7 8.5L-3.4 9.3L-4.3 9.7L-5.0 10.6L-5.5 11.5" stroke-width="0.60"/><path d="M-0.2 15.4L-0.6 16.4L-1.0 17.4" stroke-width="0.60"/><path d="M-1.8 12.7L-1.2 13.5L-1.0 14.6L-0.2 15.4L0.5 16.2" stroke-width="0.60"/><path d="M-2.7 16.9L-3.1 17.9L-3.9 18.5L-4.0 19.6" stroke-width="0.60"/><path d="M0.4 0.1L-0.1 1.2L-0.6 2.1L-0.5 3.2L-0.7 4.3L-0.5 5.4L-0.5 6.5L-0.9 7.5L-1.3 8.5L-1.8 9.5L-2.1 10.5L-1.8 11.6L-1.8 12.7L-2.3 13.6L-2.6 14.7L-2.7 15.8L-2.7 16.9L-3.2 17.9L-3.0 19.0L-3.5 19.9L-3.4 21.0L-3.8 22.0" stroke-width="0.70"/><path d="M-2.5 14.4L-2.8 15.4L-2.8 16.5" stroke-width="0.60"/><path d="M-4.4 9.3L-3.9 10.3L-3.4 11.2L-3.3 12.3L-3.0 13.4L-2.5 14.4" stroke-width="0.60"/><path d="M1.1 0.1L0.4 1.1L0.1 2.2L-0.7 2.9L-1.0 4.0L-1.5 5.0L-1.8 6.0L-2.6 6.7L-3.5 7.3L-4.0 8.3L-4.4 9.3L-5.2 10.0L-5.4 11.1L-5.4 12.2L-5.6 13.3L-5.6 14.4L-6.2 15.3L-6.1 16.4L-6.7 17.3" stroke-width="0.70"/><path d="M-5.0 3.1L-5.9 3.6L-6.9 4.0L-7.8 4.3" stroke-width="0.60"/><path d="M-9.0 6.2L-10.0 6.0L-11.0 5.7" stroke-width="0.60"/><path d="M1.8 0.1L0.4 0.4L-0.7 0.4L-1.8 0.4L-2.6 1.1L-3.3 1.9L-4.1 2.5L-5.0 3.1L-5.8 3.8L-6.8 4.0L-7.5 4.9L-8.4 5.3L-9.0 6.2" stroke-width="0.70"/></g></defs><use href="#rsmall" x="58.8" y="215"/><use href="#rbare1" x="124.7" y="215"/><use href="#rbig" x="199.9" y="215"/><use href="#rbare2" x="395.3" y="215"/><use href="#rbig2" x="491.7" y="215"/><use href="#rac" x="669.8" y="215"/><use href="#rbare3" x="738.6" y="215"/><use href="#rbig3" x="811" y="215"/><use href="#bl" transform="translate(58.8 215) scale(0.69)"/><use href="#bt" x="124.7" y="215"/><use href="#bl" x="199.9" y="215"/><use href="#bt" x="395.3" y="215"/><use href="#bl" x="491.7" y="215"/><use href="#ac" x="669.8" y="215"/><use href="#bt" x="738.6" y="215"/><use href="#bl" x="811" y="215"/>
<path d="M118.4 301.9L92.8 222.0L42.9 289.4" fill="none" stroke="#111" stroke-width="1.0"/><circle cx="77.5" cy="315" r="43" fill="#f4f1ed" stroke="#111" stroke-width="1.3"/><path d="M388.9 313.2L375.3 222.5L331.0 302.8" fill="none" stroke="#111" stroke-width="1.0"/><circle cx="358.2" cy="317.8" r="31" fill="#f4f1ed" stroke="#111" stroke-width="1.3"/><path d="M728.9 305.0L697.9 223.2L652.1 297.7" fill="none" stroke="#111" stroke-width="1.0"/><circle cx="688.7" cy="320.2" r="43" fill="#f4f1ed" stroke="#111" stroke-width="1.3"/>
<defs><clipPath id="mc1"><circle cx="77.5" cy="315" r="42.3"/></clipPath><clipPath id="mc2"><circle cx="358.2" cy="317.8" r="30.3"/></clipPath><clipPath id="mc3"><circle cx="688.7" cy="320.2" r="42.3"/></clipPath></defs><g clip-path="url(#mc1)"><circle cx="46" cy="297" r="5.2" fill="#e8b458" stroke="#c89030" stroke-width="0.4"/><circle cx="52.2" cy="298.9" r="2.0" fill="#e8b458" stroke="#c89030" stroke-width="0.4"/><line x1="50.5" y1="298.4" x2="52.2" y2="298.9" stroke="#e8b458" stroke-width="2.3"/><circle cx="48.4" cy="303.1" r="2.0" fill="#e8b458" stroke="#c89030" stroke-width="0.4"/><line x1="47.7" y1="301.4" x2="48.4" y2="303.1" stroke="#e8b458" stroke-width="2.3"/><circle cx="42.7" cy="302.6" r="2.0" fill="#e8b458" stroke="#c89030" stroke-width="0.4"/><line x1="43.7" y1="301.1" x2="42.7" y2="302.6" stroke="#e8b458" stroke-width="2.3"/><circle cx="39.6" cy="298.0" r="2.0" fill="#e8b458" stroke="#c89030" stroke-width="0.4"/><line x1="41.4" y1="297.7" x2="39.6" y2="298.0" stroke="#e8b458" stroke-width="2.3"/><circle cx="41.2" cy="292.6" r="2.0" fill="#e8b458" stroke="#c89030" stroke-width="0.4"/><line x1="42.6" y1="293.8" x2="41.2" y2="292.6" stroke="#e8b458" stroke-width="2.3"/><circle cx="46.5" cy="290.5" r="2.0" fill="#e8b458" stroke="#c89030" stroke-width="0.4"/><line x1="46.4" y1="292.3" x2="46.5" y2="290.5" stroke="#e8b458" stroke-width="2.3"/><circle cx="51.4" cy="293.3" r="2.0" fill="#e8b458" stroke="#c89030" stroke-width="0.4"/><line x1="49.9" y1="294.4" x2="51.4" y2="293.3" stroke="#e8b458" stroke-width="2.3"/><g transform="translate(62 281) rotate(55)"><rect x="-7.0" y="-3.5" width="14" height="7" rx="3.5" fill="#e6c274" stroke="#c89840" stroke-width="0.4"/></g><g transform="translate(65 289) rotate(70)"><path d="M0 0 l6 -1 M0 0 l6 1.5 M0 0 l5.5 3.5" stroke="#908a84" stroke-width="0.45" fill="none"/></g><path d="M72 281L77 283L84 280L89 282L93 281" stroke="#b08080" stroke-width="0.5" fill="none"/><circle cx="72" cy="281" r="1.8" fill="#c44a5a"/><circle cx="77" cy="283" r="1.8" fill="#c44a5a"/><circle cx="84" cy="280" r="1.8" fill="#c44a5a"/><circle cx="89" cy="282" r="1.8" fill="#c44a5a"/><circle cx="93" cy="281" r="1.8" fill="#c44a5a"/><line x1="84" y1="293.6" x2="89.0" y2="293.6" stroke="#f0b060" stroke-width="0.5"/><line x1="84" y1="293.6" x2="88.3" y2="296.1" stroke="#f0b060" stroke-width="0.5"/><line x1="84" y1="293.6" x2="86.5" y2="297.9" stroke="#f0b060" stroke-width="0.5"/><line x1="84" y1="293.6" x2="84.0" y2="298.6" stroke="#f0b060" stroke-width="0.5"/><line x1="84" y1="293.6" x2="81.5" y2="297.9" stroke="#f0b060" stroke-width="0.5"/><line x1="84" y1="293.6" x2="79.7" y2="296.1" stroke="#f0b060" stroke-width="0.5"/><line x1="84" y1="293.6" x2="79.0" y2="293.6" stroke="#f0b060" stroke-width="0.5"/><line x1="84" y1="293.6" x2="79.7" y2="291.1" stroke="#f0b060" stroke-width="0.5"/><line x1="84" y1="293.6" x2="81.5" y2="289.3" stroke="#f0b060" stroke-width="0.5"/><line x1="84" y1="293.6" x2="84.0" y2="288.6" stroke="#f0b060" stroke-width="0.5"/><line x1="84" y1="293.6" x2="86.5" y2="289.3" stroke="#f0b060" stroke-width="0.5"/><line x1="84" y1="293.6" x2="88.3" y2="291.1" stroke="#f0b060" stroke-width="0.5"/><circle cx="84" cy="293.6" r="1.4" fill="#e87838"/><path d="M89 303L95 300L97 294L96 290" stroke="#8a8a30" stroke-width="3.6" fill="none" stroke-linecap="round"/><path d="M89 303L95 300L97 294L96 290" stroke="#b8b44a" stroke-width="3" fill="none" stroke-linecap="round"/><g transform="translate(106 287) rotate(20)"><rect x="-5.0" y="-3.25" width="10" height="6.5" rx="3.25" fill="#5a9e8a" stroke="#3a7a66" stroke-width="0.4"/></g><path d="M58.9 303 l-2 4 M58.9 303 l1 4.5 M58.9 303 l3 3.5" stroke="#a09080" stroke-width="0.4" fill="none"/><circle cx="58.9" cy="303" r="1.8" fill="#d8b060" stroke="#b08040" stroke-width="0.3"/><path d="M106 309 l-2 4 M106 309 l1 4.5 M106 309 l3 3.5" stroke="#a09080" stroke-width="0.4" fill="none"/><circle cx="106" cy="309" r="1.8" fill="#d8b060" stroke="#b08040" stroke-width="0.3"/><path d="M81.7 310.5L77.8 311.5L80.9 314.2L76.9 313.4L78.5 317.1L75.2 314.7L75.1 318.8L73.2 315.2L71.3 318.8L71.2 314.7L67.9 317.1L69.5 313.4L65.5 314.2L68.6 311.5L64.7 310.5L68.6 309.5L65.5 306.8L69.5 307.6L67.9 303.9L71.2 306.3L71.3 302.2L73.2 305.8L75.1 302.2L75.2 306.3L78.5 303.9L76.9 307.6L80.9 306.8L77.8 309.5Z" fill="#d98a94" stroke="#b05060" stroke-width="0.3"/><path d="M88 314L95 314.5L101 312" stroke="#b08080" stroke-width="0.5" fill="none"/><circle cx="88" cy="314" r="1.8" fill="#c44a5a"/><circle cx="95" cy="314.5" r="1.8" fill="#c44a5a"/><circle cx="101" cy="312" r="1.8" fill="#c44a5a"/><path d="M36 312L42 315.5L39 320L44 324" stroke="#b08080" stroke-width="0.5" fill="none"/><circle cx="36" cy="312" r="1.8" fill="#c44a5a"/><circle cx="42" cy="315.5" r="1.8" fill="#c44a5a"/><circle cx="39" cy="320" r="1.8" fill="#c44a5a"/><circle cx="44" cy="324" r="1.8" fill="#c44a5a"/><g transform="translate(59.3 321.4) rotate(32)"><rect x="-7.0" y="-3.0" width="14" height="6" rx="3.0" fill="#e8884a" stroke="#c86830" stroke-width="0.4"/></g><g transform="translate(65 327) rotate(40)"><path d="M0 0 l6 -1 M0 0 l6 1.5 M0 0 l5.5 3.5" stroke="#908a84" stroke-width="0.45" fill="none"/></g><g transform="translate(87.8 324) rotate(-15)"><line x1="-6.0" y1="-4.8" x2="-6.0" y2="4.8" stroke="#e8a060" stroke-width="0.5"/><line x1="-4.7" y1="-4.8" x2="-4.7" y2="4.8" stroke="#e8a060" stroke-width="0.5"/><line x1="-3.3" y1="-4.8" x2="-3.3" y2="4.8" stroke="#e8a060" stroke-width="0.5"/><line x1="-2.0" y1="-4.8" x2="-2.0" y2="4.8" stroke="#e8a060" stroke-width="0.5"/><line x1="-0.7" y1="-4.8" x2="-0.7" y2="4.8" stroke="#e8a060" stroke-width="0.5"/><line x1="0.7" y1="-4.8" x2="0.7" y2="4.8" stroke="#e8a060" stroke-width="0.5"/><line x1="2.0" y1="-4.8" x2="2.0" y2="4.8" stroke="#e8a060" stroke-width="0.5"/><line x1="3.3" y1="-4.8" x2="3.3" y2="4.8" stroke="#e8a060" stroke-width="0.5"/><line x1="4.7" y1="-4.8" x2="4.7" y2="4.8" stroke="#e8a060" stroke-width="0.5"/><line x1="6.0" y1="-4.8" x2="6.0" y2="4.8" stroke="#e8a060" stroke-width="0.5"/><rect x="-6.0" y="-2.75" width="12" height="5.5" rx="2.75" fill="#b8e2d2" stroke="#e8a060" stroke-width="0.4"/></g><g transform="translate(106 322) rotate(10)"><rect x="-3.5" y="-2.5" width="7" height="5" rx="2.5" fill="#5a9e8a" stroke="#3a7a66" stroke-width="0.4"/></g><path d="M38 333L45 331" stroke="#8a8a30" stroke-width="3.6" fill="none" stroke-linecap="round"/><path d="M38 333L45 331" stroke="#b8b44a" stroke-width="3" fill="none" stroke-linecap="round"/><path d="M53 331L59 334L62 341" stroke="#8a8a30" stroke-width="3.6" fill="none" stroke-linecap="round"/><path d="M53 331L59 334L62 341" stroke="#b8b44a" stroke-width="3" fill="none" stroke-linecap="round"/><circle cx="80.5" cy="345" r="7.2" fill="#e8b458" stroke="#c89030" stroke-width="0.4"/><circle cx="89.1" cy="347.7" r="2.7" fill="#e8b458" stroke="#c89030" stroke-width="0.4"/><line x1="86.7" y1="346.9" x2="89.1" y2="347.7" stroke="#e8b458" stroke-width="3.2"/><circle cx="83.8" cy="353.4" r="2.7" fill="#e8b458" stroke="#c89030" stroke-width="0.4"/><line x1="82.9" y1="351.0" x2="83.8" y2="353.4" stroke="#e8b458" stroke-width="3.2"/><circle cx="76.0" cy="352.8" r="2.7" fill="#e8b458" stroke="#c89030" stroke-width="0.4"/><line x1="77.3" y1="350.6" x2="76.0" y2="352.8" stroke="#e8b458" stroke-width="3.2"/><circle cx="71.6" cy="346.3" r="2.7" fill="#e8b458" stroke="#c89030" stroke-width="0.4"/><line x1="74.1" y1="346.0" x2="71.6" y2="346.3" stroke="#e8b458" stroke-width="3.2"/><circle cx="73.9" cy="338.9" r="2.7" fill="#e8b458" stroke="#c89030" stroke-width="0.4"/><line x1="75.8" y1="340.6" x2="73.9" y2="338.9" stroke="#e8b458" stroke-width="3.2"/><circle cx="81.2" cy="336.0" r="2.7" fill="#e8b458" stroke="#c89030" stroke-width="0.4"/><line x1="81.0" y1="338.5" x2="81.2" y2="336.0" stroke="#e8b458" stroke-width="3.2"/><circle cx="87.9" cy="339.9" r="2.7" fill="#e8b458" stroke="#c89030" stroke-width="0.4"/><line x1="85.9" y1="341.4" x2="87.9" y2="339.9" stroke="#e8b458" stroke-width="3.2"/><path d="M101 332L107 338L113 332L101 342" stroke="#b08080" stroke-width="0.5" fill="none"/><circle cx="101" cy="332" r="1.8" fill="#c44a5a"/><circle cx="107" cy="338" r="1.8" fill="#c44a5a"/><circle cx="113" cy="332" r="1.8" fill="#c44a5a"/><circle cx="101" cy="342" r="1.8" fill="#c44a5a"/></g><g clip-path="url(#mc2)"><circle cx="352.9" cy="292.5" r="2.5" fill="#62a892" stroke="#3a7a66" stroke-width="0.4"/><circle cx="352.0" cy="295.0" r="2.5" fill="#62a892" stroke="#3a7a66" stroke-width="0.4"/><circle cx="349.7" cy="296.3" r="2.5" fill="#62a892" stroke="#3a7a66" stroke-width="0.4"/><circle cx="347.1" cy="295.9" r="2.5" fill="#62a892" stroke="#3a7a66" stroke-width="0.4"/><circle cx="345.3" cy="293.8" r="2.5" fill="#62a892" stroke="#3a7a66" stroke-width="0.4"/><circle cx="345.3" cy="291.2" r="2.5" fill="#62a892" stroke="#3a7a66" stroke-width="0.4"/><circle cx="347.1" cy="289.1" r="2.5" fill="#62a892" stroke="#3a7a66" stroke-width="0.4"/><circle cx="349.7" cy="288.7" r="2.5" fill="#62a892" stroke="#3a7a66" stroke-width="0.4"/><circle cx="352.0" cy="290.0" r="2.5" fill="#62a892" stroke="#3a7a66" stroke-width="0.4"/><circle cx="349" cy="292.5" r="2.6" fill="#8cc8b0" stroke="#3a7a66" stroke-width="0.4"/><circle cx="362.6" cy="293.0" r="2.3" fill="#62a892" stroke="#3a7a66" stroke-width="0.4"/><circle cx="361.8" cy="295.3" r="2.3" fill="#62a892" stroke="#3a7a66" stroke-width="0.4"/><circle cx="359.6" cy="296.5" r="2.3" fill="#62a892" stroke="#3a7a66" stroke-width="0.4"/><circle cx="357.2" cy="296.1" r="2.3" fill="#62a892" stroke="#3a7a66" stroke-width="0.4"/><circle cx="355.6" cy="294.2" r="2.3" fill="#62a892" stroke="#3a7a66" stroke-width="0.4"/><circle cx="355.6" cy="291.8" r="2.3" fill="#62a892" stroke="#3a7a66" stroke-width="0.4"/><circle cx="357.2" cy="289.9" r="2.3" fill="#62a892" stroke="#3a7a66" stroke-width="0.4"/><circle cx="359.6" cy="289.5" r="2.3" fill="#62a892" stroke="#3a7a66" stroke-width="0.4"/><circle cx="361.8" cy="290.7" r="2.3" fill="#62a892" stroke="#3a7a66" stroke-width="0.4"/><circle cx="359" cy="293" r="2.4" fill="#8cc8b0" stroke="#3a7a66" stroke-width="0.4"/><g transform="translate(367.4 305.2) rotate(-40)"><line x1="-7.0" y1="-6.0" x2="-7.0" y2="6.0" stroke="#eca070" stroke-width="0.5"/><line x1="-5.4" y1="-6.0" x2="-5.4" y2="6.0" stroke="#eca070" stroke-width="0.5"/><line x1="-3.9" y1="-6.0" x2="-3.9" y2="6.0" stroke="#eca070" stroke-width="0.5"/><line x1="-2.3" y1="-6.0" x2="-2.3" y2="6.0" stroke="#eca070" stroke-width="0.5"/><line x1="-0.8" y1="-6.0" x2="-0.8" y2="6.0" stroke="#eca070" stroke-width="0.5"/><line x1="0.8" y1="-6.0" x2="0.8" y2="6.0" stroke="#eca070" stroke-width="0.5"/><line x1="2.3" y1="-6.0" x2="2.3" y2="6.0" stroke="#eca070" stroke-width="0.5"/><line x1="3.9" y1="-6.0" x2="3.9" y2="6.0" stroke="#eca070" stroke-width="0.5"/><line x1="5.4" y1="-6.0" x2="5.4" y2="6.0" stroke="#eca070" stroke-width="0.5"/><line x1="7.0" y1="-6.0" x2="7.0" y2="6.0" stroke="#eca070" stroke-width="0.5"/><rect x="-7.0" y="-4.0" width="14" height="8" rx="4.0" fill="#b0dccb" stroke="#eca070" stroke-width="0.4"/></g><path d="M340 299L342 305L339 311L333 315" stroke="#8a8a30" stroke-width="3.8000000000000003" fill="none" stroke-linecap="round"/><path d="M340 299L342 305L339 311L333 315" stroke="#b8b44a" stroke-width="3.2" fill="none" stroke-linecap="round"/><path d="M350.5 311 l-2 4 M350.5 311 l1 4.5 M350.5 311 l3 3.5" stroke="#a09080" stroke-width="0.4" fill="none"/><circle cx="350.5" cy="311" r="1.8" fill="#d8b060" stroke="#b08040" stroke-width="0.3"/><path d="M355.8 318.5 l-2 4 M355.8 318.5 l1 4.5 M355.8 318.5 l3 3.5" stroke="#a09080" stroke-width="0.4" fill="none"/><circle cx="355.8" cy="318.5" r="1.8" fill="#d8b060" stroke="#b08040" stroke-width="0.3"/><path d="M331 325L337 326.5L343 326L349 322" stroke="#b08080" stroke-width="0.5" fill="none"/><circle cx="331" cy="325" r="1.8" fill="#c44a5a"/><circle cx="337" cy="326.5" r="1.8" fill="#c44a5a"/><circle cx="343" cy="326" r="1.8" fill="#c44a5a"/><circle cx="349" cy="322" r="1.8" fill="#c44a5a"/><g transform="translate(370 330) rotate(-62)"><rect x="-7.5" y="-3.5" width="15" height="7" rx="3.5" fill="#e6bf5c" stroke="#c89840" stroke-width="0.4"/></g><g transform="translate(375 319) rotate(-55)"><path d="M0 0 l6 -1 M0 0 l6 1.5 M0 0 l5.5 3.5" stroke="#908a84" stroke-width="0.45" fill="none"/></g><circle cx="351.6" cy="334.8" r="1.4" fill="#62a892" stroke="#3a7a66" stroke-width="0.4"/><circle cx="351.1" cy="336.2" r="1.4" fill="#62a892" stroke="#3a7a66" stroke-width="0.4"/><circle cx="349.8" cy="336.9" r="1.4" fill="#62a892" stroke="#3a7a66" stroke-width="0.4"/><circle cx="348.3" cy="336.7" r="1.4" fill="#62a892" stroke="#3a7a66" stroke-width="0.4"/><circle cx="347.4" cy="335.5" r="1.4" fill="#62a892" stroke="#3a7a66" stroke-width="0.4"/><circle cx="347.4" cy="334.1" r="1.4" fill="#62a892" stroke="#3a7a66" stroke-width="0.4"/><circle cx="348.3" cy="332.9" r="1.4" fill="#62a892" stroke="#3a7a66" stroke-width="0.4"/><circle cx="349.8" cy="332.7" r="1.4" fill="#62a892" stroke="#3a7a66" stroke-width="0.4"/><circle cx="351.1" cy="333.4" r="1.4" fill="#62a892" stroke="#3a7a66" stroke-width="0.4"/><circle cx="349.4" cy="334.8" r="1.4" fill="#8cc8b0" stroke="#3a7a66" stroke-width="0.4"/><g transform="translate(336 336) rotate(0)"><line x1="-3.0" y1="-4.5" x2="-3.0" y2="4.5" stroke="#eca070" stroke-width="0.5"/><line x1="-2.3" y1="-4.5" x2="-2.3" y2="4.5" stroke="#eca070" stroke-width="0.5"/><line x1="-1.7" y1="-4.5" x2="-1.7" y2="4.5" stroke="#eca070" stroke-width="0.5"/><line x1="-1.0" y1="-4.5" x2="-1.0" y2="4.5" stroke="#eca070" stroke-width="0.5"/><line x1="-0.3" y1="-4.5" x2="-0.3" y2="4.5" stroke="#eca070" stroke-width="0.5"/><line x1="0.3" y1="-4.5" x2="0.3" y2="4.5" stroke="#eca070" stroke-width="0.5"/><line x1="1.0" y1="-4.5" x2="1.0" y2="4.5" stroke="#eca070" stroke-width="0.5"/><line x1="1.7" y1="-4.5" x2="1.7" y2="4.5" stroke="#eca070" stroke-width="0.5"/><line x1="2.3" y1="-4.5" x2="2.3" y2="4.5" stroke="#eca070" stroke-width="0.5"/><line x1="3.0" y1="-4.5" x2="3.0" y2="4.5" stroke="#eca070" stroke-width="0.5"/><rect x="-3.0" y="-2.5" width="6" height="5" rx="2.5" fill="#b0dccb" stroke="#eca070" stroke-width="0.4"/></g><path d="M344 345L357 346" stroke="#b08080" stroke-width="0.5" fill="none"/><circle cx="344" cy="345" r="1.8" fill="#c44a5a"/><circle cx="357" cy="346" r="1.8" fill="#c44a5a"/></g><g clip-path="url(#mc3)"><path d="M659 302L665 294L671 299L676 292L681 303L667 304" stroke="#b08080" stroke-width="0.5" fill="none"/><circle cx="659" cy="302" r="1.8" fill="#c44a5a"/><circle cx="665" cy="294" r="1.8" fill="#c44a5a"/><circle cx="671" cy="299" r="1.8" fill="#c44a5a"/><circle cx="676" cy="292" r="1.8" fill="#c44a5a"/><circle cx="681" cy="303" r="1.8" fill="#c44a5a"/><circle cx="667" cy="304" r="1.8" fill="#c44a5a"/><line x1="689" y1="289.8" x2="694.0" y2="289.8" stroke="#f0b060" stroke-width="0.5"/><line x1="689" y1="289.8" x2="693.3" y2="292.3" stroke="#f0b060" stroke-width="0.5"/><line x1="689" y1="289.8" x2="691.5" y2="294.1" stroke="#f0b060" stroke-width="0.5"/><line x1="689" y1="289.8" x2="689.0" y2="294.8" stroke="#f0b060" stroke-width="0.5"/><line x1="689" y1="289.8" x2="686.5" y2="294.1" stroke="#f0b060" stroke-width="0.5"/><line x1="689" y1="289.8" x2="684.7" y2="292.3" stroke="#f0b060" stroke-width="0.5"/><line x1="689" y1="289.8" x2="684.0" y2="289.8" stroke="#f0b060" stroke-width="0.5"/><line x1="689" y1="289.8" x2="684.7" y2="287.3" stroke="#f0b060" stroke-width="0.5"/><line x1="689" y1="289.8" x2="686.5" y2="285.5" stroke="#f0b060" stroke-width="0.5"/><line x1="689" y1="289.8" x2="689.0" y2="284.8" stroke="#f0b060" stroke-width="0.5"/><line x1="689" y1="289.8" x2="691.5" y2="285.5" stroke="#f0b060" stroke-width="0.5"/><line x1="689" y1="289.8" x2="693.3" y2="287.3" stroke="#f0b060" stroke-width="0.5"/><circle cx="689" cy="289.8" r="1.4" fill="#e87838"/><path d="M714.8 285.0L711.1 286.9L711.3 291.1L707.8 288.9L704.3 291.1L704.5 286.9L700.8 285.0L704.5 283.1L704.3 278.9L707.8 281.1L711.3 278.9L711.1 283.1Z" fill="#6ab0a0" stroke="#3a8070" stroke-width="0.3"/><circle cx="677" cy="281" r="1.8" fill="#e8c070" stroke="#c89030" stroke-width="0.4"/><circle cx="679.1" cy="281.7" r="0.7" fill="#e8c070" stroke="#c89030" stroke-width="0.4"/><line x1="678.5" y1="281.5" x2="679.1" y2="281.7" stroke="#e8c070" stroke-width="0.8"/><circle cx="677.8" cy="283.1" r="0.7" fill="#e8c070" stroke="#c89030" stroke-width="0.4"/><line x1="677.6" y1="282.5" x2="677.8" y2="283.1" stroke="#e8c070" stroke-width="0.8"/><circle cx="675.9" cy="282.9" r="0.7" fill="#e8c070" stroke="#c89030" stroke-width="0.4"/><line x1="676.2" y1="282.4" x2="675.9" y2="282.9" stroke="#e8c070" stroke-width="0.8"/><circle cx="674.8" cy="281.3" r="0.7" fill="#e8c070" stroke="#c89030" stroke-width="0.4"/><line x1="675.4" y1="281.2" x2="674.8" y2="281.3" stroke="#e8c070" stroke-width="0.8"/><circle cx="675.4" cy="279.5" r="0.7" fill="#e8c070" stroke="#c89030" stroke-width="0.4"/><line x1="675.8" y1="279.9" x2="675.4" y2="279.5" stroke="#e8c070" stroke-width="0.8"/><circle cx="677.2" cy="278.8" r="0.7" fill="#e8c070" stroke="#c89030" stroke-width="0.4"/><line x1="677.1" y1="279.4" x2="677.2" y2="278.8" stroke="#e8c070" stroke-width="0.8"/><circle cx="678.9" cy="279.7" r="0.7" fill="#e8c070" stroke="#c89030" stroke-width="0.4"/><line x1="678.3" y1="280.1" x2="678.9" y2="279.7" stroke="#e8c070" stroke-width="0.8"/><circle cx="700.4" cy="305.0" r="3.4" fill="#62a892" stroke="#3a7a66" stroke-width="0.4"/><circle cx="699.1" cy="308.5" r="3.4" fill="#62a892" stroke="#3a7a66" stroke-width="0.4"/><circle cx="695.9" cy="310.3" r="3.4" fill="#62a892" stroke="#3a7a66" stroke-width="0.4"/><circle cx="692.3" cy="309.7" r="3.4" fill="#62a892" stroke="#3a7a66" stroke-width="0.4"/><circle cx="689.9" cy="306.8" r="3.4" fill="#62a892" stroke="#3a7a66" stroke-width="0.4"/><circle cx="689.9" cy="303.2" r="3.4" fill="#62a892" stroke="#3a7a66" stroke-width="0.4"/><circle cx="692.3" cy="300.3" r="3.4" fill="#62a892" stroke="#3a7a66" stroke-width="0.4"/><circle cx="695.9" cy="299.7" r="3.4" fill="#62a892" stroke="#3a7a66" stroke-width="0.4"/><circle cx="699.1" cy="301.5" r="3.4" fill="#62a892" stroke="#3a7a66" stroke-width="0.4"/><circle cx="695" cy="305" r="3.6" fill="#8cc8b0" stroke="#3a7a66" stroke-width="0.4"/><path d="M713 304L718 298L723 300" stroke="#b08080" stroke-width="0.5" fill="none"/><circle cx="713" cy="304" r="1.8" fill="#c44a5a"/><circle cx="718" cy="298" r="1.8" fill="#c44a5a"/><circle cx="723" cy="300" r="1.8" fill="#c44a5a"/><path d="M734.5 310.8L730.9 312.2L732.7 315.6L729.1 314.4L728.3 318.2L726.3 314.9L723.2 317.3L723.8 313.5L720.0 313.4L722.9 310.8L720.0 308.2L723.8 308.1L723.2 304.3L726.3 306.7L728.3 303.4L729.1 307.2L732.7 306.0L730.9 309.4Z" fill="#d98a94" stroke="#b05060" stroke-width="0.3"/><g transform="translate(710 321) rotate(-40)"><line x1="-7.0" y1="-6.0" x2="-7.0" y2="6.0" stroke="#eca070" stroke-width="0.5"/><line x1="-5.4" y1="-6.0" x2="-5.4" y2="6.0" stroke="#eca070" stroke-width="0.5"/><line x1="-3.9" y1="-6.0" x2="-3.9" y2="6.0" stroke="#eca070" stroke-width="0.5"/><line x1="-2.3" y1="-6.0" x2="-2.3" y2="6.0" stroke="#eca070" stroke-width="0.5"/><line x1="-0.8" y1="-6.0" x2="-0.8" y2="6.0" stroke="#eca070" stroke-width="0.5"/><line x1="0.8" y1="-6.0" x2="0.8" y2="6.0" stroke="#eca070" stroke-width="0.5"/><line x1="2.3" y1="-6.0" x2="2.3" y2="6.0" stroke="#eca070" stroke-width="0.5"/><line x1="3.9" y1="-6.0" x2="3.9" y2="6.0" stroke="#eca070" stroke-width="0.5"/><line x1="5.4" y1="-6.0" x2="5.4" y2="6.0" stroke="#eca070" stroke-width="0.5"/><line x1="7.0" y1="-6.0" x2="7.0" y2="6.0" stroke="#eca070" stroke-width="0.5"/><rect x="-7.0" y="-4.0" width="14" height="8" rx="4.0" fill="#b0dccb" stroke="#eca070" stroke-width="0.4"/></g><line x1="669.2" y1="317" x2="674.7" y2="317.0" stroke="#f0b060" stroke-width="0.5"/><line x1="669.2" y1="317" x2="674.0" y2="319.8" stroke="#f0b060" stroke-width="0.5"/><line x1="669.2" y1="317" x2="672.0" y2="321.8" stroke="#f0b060" stroke-width="0.5"/><line x1="669.2" y1="317" x2="669.2" y2="322.5" stroke="#f0b060" stroke-width="0.5"/><line x1="669.2" y1="317" x2="666.5" y2="321.8" stroke="#f0b060" stroke-width="0.5"/><line x1="669.2" y1="317" x2="664.4" y2="319.8" stroke="#f0b060" stroke-width="0.5"/><line x1="669.2" y1="317" x2="663.7" y2="317.0" stroke="#f0b060" stroke-width="0.5"/><line x1="669.2" y1="317" x2="664.4" y2="314.2" stroke="#f0b060" stroke-width="0.5"/><line x1="669.2" y1="317" x2="666.5" y2="312.2" stroke="#f0b060" stroke-width="0.5"/><line x1="669.2" y1="317" x2="669.2" y2="311.5" stroke="#f0b060" stroke-width="0.5"/><line x1="669.2" y1="317" x2="672.0" y2="312.2" stroke="#f0b060" stroke-width="0.5"/><line x1="669.2" y1="317" x2="674.0" y2="314.2" stroke="#f0b060" stroke-width="0.5"/><circle cx="669.2" cy="317" r="1.4" fill="#e87838"/><path d="M672 328L679 324L683 317L682 311" stroke="#8a8a30" stroke-width="3.8000000000000003" fill="none" stroke-linecap="round"/><path d="M672 328L679 324L683 317L682 311" stroke="#b8b44a" stroke-width="3.2" fill="none" stroke-linecap="round"/><path d="M691.4 323 l-2 4 M691.4 323 l1 4.5 M691.4 323 l3 3.5" stroke="#a09080" stroke-width="0.4" fill="none"/><circle cx="691.4" cy="323" r="1.8" fill="#d8b060" stroke="#b08040" stroke-width="0.3"/><path d="M698.4 332 l-2 4 M698.4 332 l1 4.5 M698.4 332 l3 3.5" stroke="#a09080" stroke-width="0.4" fill="none"/><circle cx="698.4" cy="332" r="1.8" fill="#d8b060" stroke="#b08040" stroke-width="0.3"/><path d="M670.0 336.0L665.8 337.3L668.8 340.5L664.5 339.5L665.5 343.8L662.3 340.8L661.0 345.0L659.7 340.8L656.5 343.8L657.5 339.5L653.2 340.5L656.2 337.3L652.0 336.0L656.2 334.7L653.2 331.5L657.5 332.5L656.5 328.2L659.7 331.2L661.0 327.0L662.3 331.2L665.5 328.2L664.5 332.5L668.8 331.5L665.8 334.7Z" fill="#d98a94" stroke="#b05060" stroke-width="0.3"/><path d="M675 339L681 341L689 338L693 336" stroke="#b08080" stroke-width="0.5" fill="none"/><circle cx="675" cy="339" r="1.8" fill="#c44a5a"/><circle cx="681" cy="341" r="1.8" fill="#c44a5a"/><circle cx="689" cy="338" r="1.8" fill="#c44a5a"/><circle cx="693" cy="336" r="1.8" fill="#c44a5a"/><g transform="translate(713.6 343.5) rotate(-62)"><rect x="-7.5" y="-3.5" width="15" height="7" rx="3.5" fill="#e6bf5c" stroke="#c89840" stroke-width="0.4"/></g><g transform="translate(719 333) rotate(-55)"><path d="M0 0 l6 -1 M0 0 l6 1.5 M0 0 l5.5 3.5" stroke="#908a84" stroke-width="0.45" fill="none"/></g><g transform="translate(674 352) rotate(-10)"><line x1="-5.5" y1="-5.0" x2="-5.5" y2="5.0" stroke="#eca070" stroke-width="0.5"/><line x1="-4.3" y1="-5.0" x2="-4.3" y2="5.0" stroke="#eca070" stroke-width="0.5"/><line x1="-3.1" y1="-5.0" x2="-3.1" y2="5.0" stroke="#eca070" stroke-width="0.5"/><line x1="-1.8" y1="-5.0" x2="-1.8" y2="5.0" stroke="#eca070" stroke-width="0.5"/><line x1="-0.6" y1="-5.0" x2="-0.6" y2="5.0" stroke="#eca070" stroke-width="0.5"/><line x1="0.6" y1="-5.0" x2="0.6" y2="5.0" stroke="#eca070" stroke-width="0.5"/><line x1="1.8" y1="-5.0" x2="1.8" y2="5.0" stroke="#eca070" stroke-width="0.5"/><line x1="3.1" y1="-5.0" x2="3.1" y2="5.0" stroke="#eca070" stroke-width="0.5"/><line x1="4.3" y1="-5.0" x2="4.3" y2="5.0" stroke="#eca070" stroke-width="0.5"/><line x1="5.5" y1="-5.0" x2="5.5" y2="5.0" stroke="#eca070" stroke-width="0.5"/><rect x="-5.5" y="-3.0" width="11" height="6" rx="3.0" fill="#b0dccb" stroke="#eca070" stroke-width="0.4"/></g><circle cx="694.3" cy="349.3" r="1.4" fill="#62a892" stroke="#3a7a66" stroke-width="0.4"/><circle cx="693.7" cy="350.8" r="1.4" fill="#62a892" stroke="#3a7a66" stroke-width="0.4"/><circle cx="692.4" cy="351.5" r="1.4" fill="#62a892" stroke="#3a7a66" stroke-width="0.4"/><circle cx="690.9" cy="351.3" r="1.4" fill="#62a892" stroke="#3a7a66" stroke-width="0.4"/><circle cx="689.9" cy="350.1" r="1.4" fill="#62a892" stroke="#3a7a66" stroke-width="0.4"/><circle cx="689.9" cy="348.5" r="1.4" fill="#62a892" stroke="#3a7a66" stroke-width="0.4"/><circle cx="690.9" cy="347.3" r="1.4" fill="#62a892" stroke="#3a7a66" stroke-width="0.4"/><circle cx="692.4" cy="347.1" r="1.4" fill="#62a892" stroke="#3a7a66" stroke-width="0.4"/><circle cx="693.7" cy="347.8" r="1.4" fill="#62a892" stroke="#3a7a66" stroke-width="0.4"/><circle cx="692" cy="349.3" r="1.5" fill="#8cc8b0" stroke="#3a7a66" stroke-width="0.4"/><g transform="translate(650 314) rotate(60)"><path d="M0 0 l6 -1 M0 0 l6 1.5 M0 0 l5.5 3.5" stroke="#908a84" stroke-width="0.45" fill="none"/></g><g transform="translate(651 324) rotate(-20)"><path d="M0 0 l6 -1 M0 0 l6 1.5 M0 0 l5.5 3.5" stroke="#908a84" stroke-width="0.45" fill="none"/></g><path d="M683 361L689 362" stroke="#b08080" stroke-width="0.5" fill="none"/><circle cx="683" cy="361" r="1.8" fill="#c44a5a"/><circle cx="689" cy="362" r="1.8" fill="#c44a5a"/></g>
</svg>
<div class="lab" style="left:112.4px;top:9px;color:#333;font-size:10.5px">Phase 1</div><div class="lab" style="left:414.5px;top:9px;color:#333;font-size:10.5px">Phase 2</div><div class="lab" style="left:728px;top:9px;color:#333;font-size:10.5px">Phase 3</div><div class="lab na" style="left:103.6px;top:30px;color:#111;font-size:11px">N addition</div><div class="lab na" style="left:409.3px;top:30px;color:#111;font-size:11px">N addition</div><div class="lab na" style="left:722.4px;top:30px;color:#111;font-size:11px">N addition</div><div class="co2" style="left:119.8px;top:81px">CO<sub>2</sub></div><div class="co2" style="left:431px;top:120px">CO<sub>2</sub></div><div class="co2" style="left:735.2px;top:86px">CO<sub>2</sub></div>
<div class="bar" style="left:9px;top:377px;width:249px;height:20px;background:#000">Soil</div><div class="tx" id="L0" style="left:19px;top:401.8px;color:#111;letter-spacing:0.105px">IN(<span class="ar"><svg width="8" height="17" viewBox="0 0 8 17" style="top:-9.8px"><path d="M4 0L7.3 5.6H4.5V15.6H3.5V5.6H0.7Z" fill="#000"/></svg></span>), DON, total N, N mineralization(<span class="ar"><svg width="8" height="17" viewBox="0 0 8 17" style="top:-9.8px"><path d="M4 0L7.3 5.6H4.5V15.6H3.5V5.6H0.7Z" fill="#000"/></svg></span>),</div><div class="tx" id="L1" style="left:19px;top:421.8px;color:#111;letter-spacing:0.220px">N nitrification(<span class="ar"><svg width="8" height="17" viewBox="0 0 8 17" style="top:-9.8px"><path d="M4 0L7.3 5.6H4.5V15.6H3.5V5.6H0.7Z" fill="#000"/></svg></span>), N leaching(<span class="ar"><svg width="8" height="17" viewBox="0 0 8 17" style="top:-9.8px"><path d="M4 0L7.3 5.6H4.5V15.6H3.5V5.6H0.7Z" fill="#000"/></svg></span>), pH,</div><div class="tx" id="L2" style="left:19px;top:441.7px;color:#111;letter-spacing:0.197px">total C, labile C(<span class="ar"><svg width="8" height="17" viewBox="0 0 8 17" style="top:-9.8px"><path d="M4 0L7.3 5.6H4.5V15.6H3.5V5.6H0.7Z" fill="#000"/></svg></span>), recalcitrant C(<span class="ar"><svg width="8" height="17" viewBox="0 0 8 17" style="top:-9.8px"><path d="M4 0L7.3 5.6H4.5V15.6H3.5V5.6H0.7Z" fill="#000"/></svg></span>)</div><div class="bar" style="left:9px;top:460px;width:249px;height:20px;background:#00a556">Plant</div><div class="tx" id="L3" style="left:10.8px;top:482.9px;color:#00a566;letter-spacing:0.156px">Photosynthesis, richness , diversity,</div><div class="tx" id="L4" style="left:10.8px;top:502.7px;color:#00a566;letter-spacing:0.314px">coverage, litterfall, decomposition,</div><div class="tx" id="L5" style="left:10.8px;top:522.6px;color:#00a566;letter-spacing:0.189px">live fine root biomass, dead fine root biomass,</div><div class="tx" id="L6" style="left:10.8px;top:542.5px;color:#00a566;letter-spacing:0.118px">root N, root C(<span class="ar"><svg width="8" height="17" viewBox="0 0 8 17" style="top:-9.8px"><path d="M4 0L7.3 5.6H4.5V15.6H3.5V5.6H0.7Z" fill="#000"/></svg></span>),  leaf N(<span class="ar"><svg width="8" height="17" viewBox="0 0 8 17" style="top:-9.8px"><path d="M4 0L7.3 5.6H4.5V15.6H3.5V5.6H0.7Z" fill="#000"/></svg></span>), leaf C</div><div class="bar" style="left:9px;top:568px;width:249px;height:20px;background:#f39400">Microbe</div><div class="tx" id="L7" style="left:8.7px;top:591.6px;color:#f39a1e;letter-spacing:0.024px">Biomass, bacteria, fungi, F:B, G+,</div><div class="tx" id="L8" style="left:8.7px;top:611.8px;color:#f39a1e;letter-spacing:0.194px">G<span class="dash"></span>(<span class="ar"><svg width="8" height="17" viewBox="0 0 8 17" style="top:-12.2px"><path d="M4 15.8L7.5 9.9H4.5V0H3.5V9.9H0.5Z" fill="#000"/></svg></span>), AMF, Actino, C-acquiring enzyme</div><div class="bar" style="left:311px;top:376px;width:249px;height:20px;background:#000">Soil</div><div class="tx" id="L9" style="left:324.6px;top:402.0px;color:#111;letter-spacing:0.147px">IN(<span class="ar"><svg width="8" height="17" viewBox="0 0 8 17" style="top:-9.8px"><path d="M4 0L7.3 5.6H4.5V15.6H3.5V5.6H0.7Z" fill="#000"/></svg></span>), toal N(<span class="ar"><svg width="8" height="17" viewBox="0 0 8 17" style="top:-9.8px"><path d="M4 0L7.3 5.6H4.5V15.6H3.5V5.6H0.7Z" fill="#000"/></svg></span>), pH(<span class="ar"><svg width="8" height="17" viewBox="0 0 8 17" style="top:-12.2px"><path d="M4 15.8L7.5 9.9H4.5V0H3.5V9.9H0.5Z" fill="#000"/></svg></span>), N mineralization(<span class="ar"><svg width="8" height="17" viewBox="0 0 8 17" style="top:-12.2px"><path d="M4 15.8L7.5 9.9H4.5V0H3.5V9.9H0.5Z" fill="#000"/></svg></span>),</div><div class="tx" id="L10" style="left:324.6px;top:421.5px;color:#111;letter-spacing:0.230px">N nitrification(<span class="ar"><svg width="8" height="17" viewBox="0 0 8 17" style="top:-12.2px"><path d="M4 15.8L7.5 9.9H4.5V0H3.5V9.9H0.5Z" fill="#000"/></svg></span>), N leaching(<span class="ar"><svg width="8" height="17" viewBox="0 0 8 17" style="top:-9.8px"><path d="M4 0L7.3 5.6H4.5V15.6H3.5V5.6H0.7Z" fill="#000"/></svg></span>),  total C(<span class="ar"><svg width="8" height="17" viewBox="0 0 8 17" style="top:-9.8px"><path d="M4 0L7.3 5.6H4.5V15.6H3.5V5.6H0.7Z" fill="#000"/></svg></span>),</div><div class="tx" id="L11" style="left:324.6px;top:441.2px;color:#111;letter-spacing:0.216px">labile C, recalcitrant C(<span class="ar"><svg width="8" height="17" viewBox="0 0 8 17" style="top:-9.8px"><path d="M4 0L7.3 5.6H4.5V15.6H3.5V5.6H0.7Z" fill="#000"/></svg></span>)</div><div class="bar" style="left:311px;top:459px;width:249px;height:20px;background:#00a556">Plant</div><div class="tx" id="L12" style="left:313.2px;top:482.5px;color:#00a566;letter-spacing:0.123px">Photosynthesis(<span class="ar"><svg width="8" height="17" viewBox="0 0 8 17" style="top:-12.2px"><path d="M4 15.8L7.5 9.9H4.5V0H3.5V9.9H0.5Z" fill="#000"/></svg></span>),  richness(<span class="ar"><svg width="8" height="17" viewBox="0 0 8 17" style="top:-12.2px"><path d="M4 15.8L7.5 9.9H4.5V0H3.5V9.9H0.5Z" fill="#000"/></svg></span>) ,  diversity(<span class="ar"><svg width="8" height="17" viewBox="0 0 8 17" style="top:-12.2px"><path d="M4 15.8L7.5 9.9H4.5V0H3.5V9.9H0.5Z" fill="#000"/></svg></span>),</div><div class="tx" id="L13" style="left:313.2px;top:502.6px;color:#00a566;letter-spacing:0.248px">coverage(<span class="ar"><svg width="8" height="17" viewBox="0 0 8 17" style="top:-12.2px"><path d="M4 15.8L7.5 9.9H4.5V0H3.5V9.9H0.5Z" fill="#000"/></svg></span>), litterfall, live fine root biomass(<span class="ar"><svg width="8" height="17" viewBox="0 0 8 17" style="top:-12.2px"><path d="M4 15.8L7.5 9.9H4.5V0H3.5V9.9H0.5Z" fill="#000"/></svg></span>),</div><div class="tx" id="L14" style="left:313.2px;top:522.2px;color:#00a566;letter-spacing:0.200px">dead fine root biomass(<span class="ar"><svg width="8" height="17" viewBox="0 0 8 17" style="top:-9.8px"><path d="M4 0L7.3 5.6H4.5V15.6H3.5V5.6H0.7Z" fill="#000"/></svg></span>), root N(<span class="ar"><svg width="8" height="17" viewBox="0 0 8 17" style="top:-9.8px"><path d="M4 0L7.3 5.6H4.5V15.6H3.5V5.6H0.7Z" fill="#000"/></svg></span>), root C(<span class="ar"><svg width="8" height="17" viewBox="0 0 8 17" style="top:-9.8px"><path d="M4 0L7.3 5.6H4.5V15.6H3.5V5.6H0.7Z" fill="#000"/></svg></span>),</div><div class="tx" id="L15" style="left:313.2px;top:542.5px;color:#00a566;letter-spacing:0.023px">leaf N, leaf C</div><div class="bar" style="left:312px;top:558px;width:249px;height:20px;background:#f39400">Microbe</div><div class="tx" id="L16" style="left:315.8px;top:581.7px;color:#f39a1e;letter-spacing:0.049px">Biomass(<span class="ar"><svg width="8" height="17" viewBox="0 0 8 17" style="top:-12.2px"><path d="M4 15.8L7.5 9.9H4.5V0H3.5V9.9H0.5Z" fill="#000"/></svg></span>),  bacteria(<span class="ar"><svg width="8" height="17" viewBox="0 0 8 17" style="top:-12.2px"><path d="M4 15.8L7.5 9.9H4.5V0H3.5V9.9H0.5Z" fill="#000"/></svg></span>), fungi,  G+, G<span class="dash"></span>(<span class="ar"><svg width="8" height="17" viewBox="0 0 8 17" style="top:-12.2px"><path d="M4 15.8L7.5 9.9H4.5V0H3.5V9.9H0.5Z" fill="#000"/></svg></span>),</div><div class="tx" id="L17" style="left:315.8px;top:601.7px;color:#f39a1e;letter-spacing:0.230px">AMF, Actino, C-acquiring enzyme(<span class="ar"><svg width="8" height="17" viewBox="0 0 8 17" style="top:-9.8px"><path d="M4 0L7.3 5.6H4.5V15.6H3.5V5.6H0.7Z" fill="#000"/></svg></span>),</div><div class="tx" id="L18" style="left:315.8px;top:621.7px;color:#f39a1e;letter-spacing:0.229px">C degradation genes(<span class="ar"><svg width="8" height="17" viewBox="0 0 8 17" style="top:-12.2px"><path d="M4 15.8L7.5 9.9H4.5V0H3.5V9.9H0.5Z" fill="#000"/></svg></span>), C utilization efficiency(<span class="ar"><svg width="8" height="17" viewBox="0 0 8 17" style="top:-12.2px"><path d="M4 15.8L7.5 9.9H4.5V0H3.5V9.9H0.5Z" fill="#000"/></svg></span>)</div><div class="bar" style="left:613px;top:379px;width:249px;height:20px;background:#000">Soil</div><div class="tx" id="L19" style="left:625.7px;top:402.8px;color:#111;letter-spacing:0.122px">IN(<span class="ar"><svg width="8" height="17" viewBox="0 0 8 17" style="top:-9.8px"><path d="M4 0L7.3 5.6H4.5V15.6H3.5V5.6H0.7Z" fill="#000"/></svg></span>), toal N, pH(<span class="ar"><svg width="8" height="17" viewBox="0 0 8 17" style="top:-12.2px"><path d="M4 15.8L7.5 9.9H4.5V0H3.5V9.9H0.5Z" fill="#000"/></svg></span>), total C, labile C,</div><div class="tx" id="L20" style="left:625.7px;top:422.3px;color:#111;letter-spacing:0.238px">recalcitrant C</div><div class="bar" style="left:613px;top:447px;width:249px;height:20px;background:#00a556">Plant</div><div class="tx" id="L21" style="left:634.4px;top:470.5px;color:#00a566;letter-spacing:0.136px">Fine root biomass, root N, root C,</div><div class="tx" id="L22" style="left:634.4px;top:490.4px;color:#00a566;letter-spacing:0.085px">leaf N, leaf C</div><div class="bar" style="left:614px;top:518px;width:249px;height:20px;background:#f39400">Microbe</div><div class="tx" id="L23" style="left:621.3px;top:541.4px;color:#f39a1e;letter-spacing:0.067px">Biomass, bacteria, fungi,  F:B,</div><div class="tx" id="L24" style="left:621.3px;top:561.3px;color:#f39a1e;letter-spacing:0.015px">G+,  G<span class="dash"></span>,  G+:G<span class="dash"></span>,  C-acquiring enzyme,</div><div class="tx" id="L25" style="left:621.3px;top:581.1px;color:#f39a1e;letter-spacing:0.353px">metabolic quotient</div>
</body></html>
